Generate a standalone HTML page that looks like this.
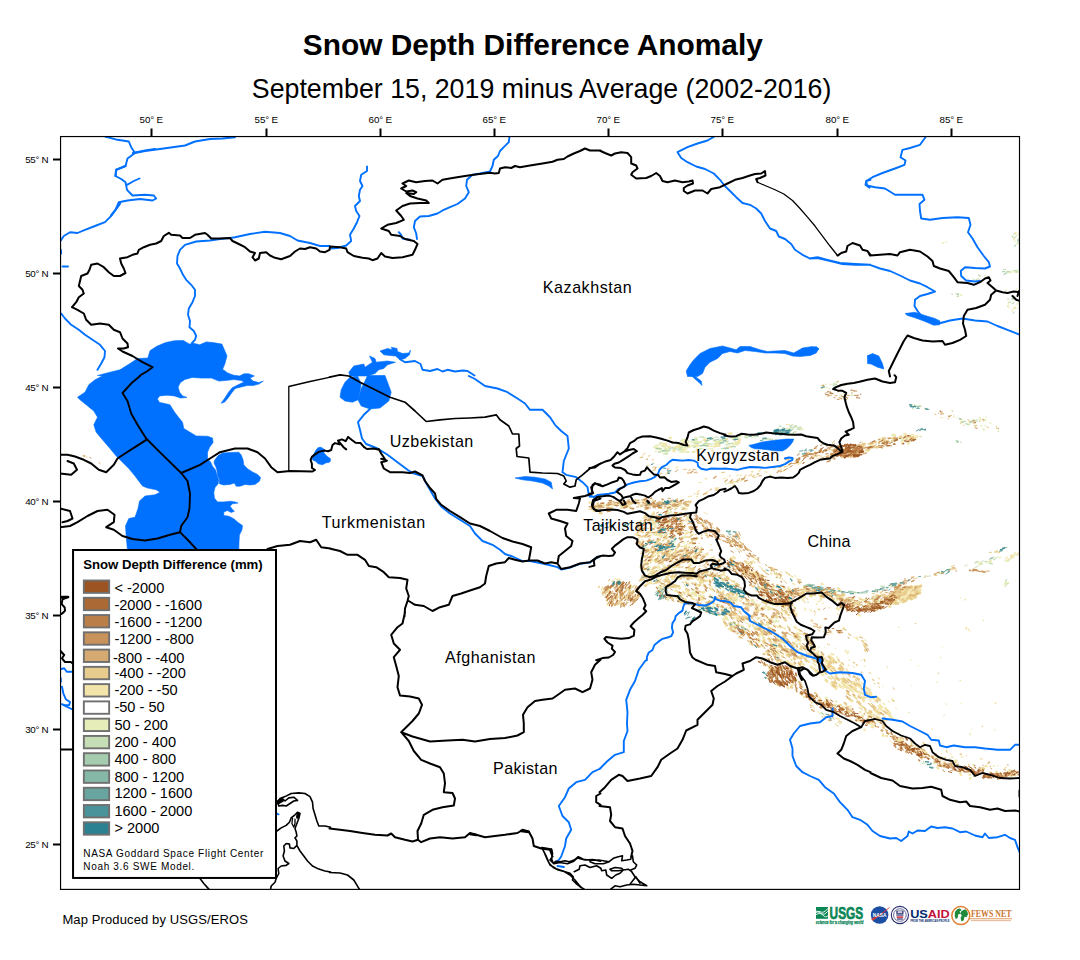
<!DOCTYPE html>
<html><head><meta charset="utf-8"><title>Snow Depth Difference Anomaly</title>
<style>
html,body{margin:0;padding:0;background:#fff;}
body{width:1080px;height:960px;overflow:hidden;font-family:"Liberation Sans",sans-serif;}
svg{display:block;font-family:"Liberation Sans",sans-serif;}
.tk{font-size:9.8px;fill:#000;}
.lg{font-size:14.6px;fill:#000;}
.ct{font-size:15.5px;fill:#000;}
</style></head><body>
<svg width="1080" height="960" viewBox="0 0 1080 960">
<rect width="1080" height="960" fill="#fff"/>
<text x="532.8" y="54.6" text-anchor="middle" font-size="29.87" font-weight="bold">Snow Depth Difference Anomaly</text>
<text x="541.6" y="97.5" text-anchor="middle" font-size="26.76">September 15, 2019 minus Average (2002-2016)</text>
<defs><clipPath id="mc"><rect x="60.55" y="136.55" width="958.95" height="752.85"/></clipPath></defs>
<g clip-path="url(#mc)">
<path d="M658.8,547.2L662.8,546.2M686.5,557.0L688.9,555.7M651.2,521.5L654.7,518.7M642.0,530.3L645.0,528.6M648.4,552.7L651.4,552.2M689.2,548.4L692.6,546.3M668.4,521.8L670.9,520.0M707.4,449.3L713.1,448.2M715.2,446.0L719.8,445.1M682.2,441.1L688.0,440.9M714.1,447.2L717.6,445.9M693.9,442.4L699.8,442.7M717.7,442.9L720.1,442.7M713.3,441.5L717.0,440.2M665.8,453.3L667.9,453.3M696.8,441.6L700.4,441.8M691.7,446.0L695.9,445.3M684.8,445.6L687.8,444.8M656.5,449.1L661.3,449.2M698.8,448.3L701.5,448.3M699.6,448.8L703.2,448.1M658.2,452.0L661.0,451.0M689.0,446.4L694.6,444.7M654.4,451.6L656.9,451.5M674.2,447.2L680.1,447.0M682.8,447.5L688.3,446.8M681.6,444.0L686.4,442.3M664.7,449.9L668.5,449.1M709.2,438.6L713.3,438.6M750.9,437.5L754.2,436.7M689.4,441.9L694.1,442.2M748.9,435.1L751.0,435.3M746.6,436.3L749.4,436.4M701.9,440.1L705.5,440.3M734.6,437.4L739.2,437.5M744.5,437.8L748.6,437.9M702.2,437.6L705.8,437.8M712.0,437.9L715.1,437.6M794.8,432.4L796.8,431.7M787.2,428.6L790.1,427.9M791.0,434.7L793.6,434.7M783.0,433.8L787.0,432.6M792.0,429.5L794.3,428.6M787.9,429.1L790.6,429.2M783.5,428.8L787.7,428.1M789.6,425.6L793.9,424.2M788.6,428.1L790.8,428.2M774.2,431.0L778.0,431.2M736.3,482.6L738.9,482.1M725.0,483.8L728.7,483.6M736.1,476.0L739.1,474.6M891.9,439.2L895.1,439.6M881.4,444.8L883.6,445.1M877.6,446.7L880.1,446.9M845.6,452.2L849.4,451.4M910.8,441.4L914.3,438.9M838.9,453.1L843.1,452.4M908.7,437.6L912.2,436.9M892.8,437.5L895.9,437.6M895.5,438.3L897.1,438.4M900.3,436.1L903.4,436.2M892.7,438.6L895.2,439.0M900.4,439.9L902.8,438.4M882.4,440.8L886.9,440.3M841.0,386.0L843.6,384.4M824.6,387.4L827.8,387.8M843.4,385.2L846.5,385.4M828.2,389.2L830.0,388.8M821.4,388.5L824.6,387.4M829.5,384.7L831.8,384.2M820.4,385.8L823.3,384.7M843.1,393.8L845.5,394.6M845.1,399.9L848.5,398.3M843.5,396.0L846.7,393.9M838.7,395.1L842.0,394.8M917.4,405.9L921.1,407.0M984.9,416.9L987.1,417.4M983.3,428.4L984.8,428.9M956.8,418.2L958.6,417.9M953.0,415.3L954.4,415.4M996.6,427.9L998.9,427.9M979.9,426.0L982.5,425.6M1017.3,236.5L1017.4,235.3M1016.5,234.4L1017.4,233.4M1014.5,238.2L1015.7,237.1M1018.3,234.9L1019.1,232.6M1013.1,240.8L1014.6,238.6M1016.6,271.8L1019.0,270.5M1012.0,270.2L1016.0,270.9M1007.2,272.0L1010.9,273.0M1014.7,272.1L1018.2,272.6M1009.7,272.0L1011.5,271.3M974.7,280.2L975.8,280.5M983.9,275.6L986.1,275.5M971.6,278.6L972.5,278.2M1011.2,303.8L1013.8,302.3M1015.4,299.0L1017.1,298.9M1017.3,308.3L1018.2,307.8M699.6,578.2L702.1,574.7M720.5,561.2L722.6,560.8M672.2,568.0L676.3,567.4M709.4,572.0L711.6,570.9M698.5,549.7L701.4,549.3M668.6,562.4L669.8,560.8M734.3,582.8L736.7,584.7M790.1,609.1L793.0,609.4M684.3,585.2L687.2,588.5M772.3,607.5L773.7,609.8M723.4,581.2L725.9,584.9M723.0,607.5L726.9,608.4M703.0,595.5L705.1,595.8M789.5,612.2L791.4,612.6M690.8,589.4L693.1,590.5M714.9,586.9L717.3,589.8M736.0,604.1L738.6,606.8M798.5,580.3L801.8,581.6M773.0,569.3L774.7,570.9M986.1,563.0L987.9,562.6M1004.3,561.1L1007.8,560.8M1003.3,584.9L1005.7,582.1M959.6,597.5L961.4,597.9M759.6,639.7L762.9,641.2M798.1,662.2L801.7,664.4M748.4,629.2L750.7,632.3M743.2,620.7L746.4,623.5M758.1,628.5L760.7,630.2M911.8,740.8L912.7,742.3M928.5,757.3L930.9,758.6M824.5,647.0L826.2,648.4M879.4,701.7L881.1,703.0M943.0,715.9L945.2,714.7" stroke="#e6edb9" stroke-width="1.0" fill="none"/>
<path d="M641.6,540.4L643.1,539.2M679.9,522.7L681.6,522.5M690.4,538.6L693.5,538.8M678.9,451.7L684.2,451.5M691.4,442.8L696.8,442.3M685.9,448.3L690.6,447.0M677.6,448.8L682.5,447.7M705.5,441.8L708.3,441.4M662.5,446.8L668.1,446.0M722.8,448.7L728.5,447.0M667.1,449.8L671.2,450.1M706.9,439.3L709.5,438.8M653.0,447.3L658.1,447.3M726.0,443.2L728.3,442.7M662.6,453.8L667.5,453.9M681.9,444.8L686.8,445.1M696.2,447.1L699.2,446.0M735.6,444.8L738.6,444.9M683.3,448.0L686.6,447.3M696.3,451.3L698.8,451.2M684.6,445.7L688.3,445.5M702.8,444.8L707.9,444.5M654.9,445.7L660.6,444.4M698.8,448.6L702.1,448.4M721.3,439.1L726.3,439.0M745.2,435.7L748.3,435.9M738.6,436.5L742.7,435.5M729.9,436.9L732.3,436.7M793.2,434.9L795.4,434.6M798.5,429.0L803.3,429.1M780.8,433.8L783.2,433.7M788.0,435.2L792.5,435.1M788.2,429.9L790.8,428.8M799.2,430.1L803.6,429.1M794.9,427.1L798.2,427.3M739.5,480.7L743.0,480.1M733.6,483.1L735.1,482.3M732.6,486.1L734.9,484.2M869.4,446.3L871.6,446.3M869.0,447.7L872.3,445.5M878.4,444.0L880.6,443.2M910.7,439.2L914.9,439.8M870.3,447.8L873.7,445.8M837.5,456.0L840.1,454.4M836.3,452.7L840.2,452.9M829.7,454.2L832.0,452.5M904.5,433.8L906.1,433.0M902.3,438.5L906.4,437.9M820.6,388.7L824.4,386.9M839.8,385.9L844.0,385.0M835.4,383.3L838.7,381.1M825.1,384.0L826.8,384.5M851.4,395.5L853.3,395.6M913.7,404.6L917.3,407.0M924.0,409.2L926.8,409.0M989.4,422.5L991.2,423.6M973.8,425.9L976.2,425.6M982.7,429.4L984.6,430.7M979.3,417.0L981.3,418.9M984.5,425.5L985.6,425.5M966.8,423.6L968.4,424.1M997.4,430.8L999.2,431.8M968.8,424.4L970.7,423.9M982.5,419.1L986.6,420.5M979.0,419.9L981.1,420.0M960.4,421.5L963.7,422.3M1016.6,244.6L1016.8,243.1M1015.4,233.1L1015.9,232.2M1015.3,242.0L1015.2,240.7M1012.0,237.7L1012.5,235.6M1002.7,271.9L1004.3,271.9M1013.3,272.2L1016.7,270.9M1010.2,272.3L1012.1,272.1M959.8,295.1L962.3,294.7M974.8,280.7L976.8,280.3M1008.2,303.8L1008.7,301.4M1013.6,308.8L1016.0,307.6M1015.6,289.3L1017.2,288.8M1005.2,290.7L1006.7,289.9M1014.6,298.0L1015.7,296.6M1016.7,304.5L1018.8,303.2M1009.0,293.4L1010.0,291.9M1015.6,308.5L1016.3,307.6M1007.2,307.0L1008.9,304.8M942.5,242.8L943.6,243.0M643.5,545.9L647.0,543.6M667.9,573.4L671.5,570.9M688.7,571.9L689.6,570.6M670.0,573.2L671.7,572.3M789.4,610.2L793.2,611.2M665.9,586.4L669.1,588.5M658.9,578.8L660.2,581.0M774.3,572.2L777.1,574.5M776.3,576.5L779.9,578.3M780.6,574.0L782.3,575.4M978.6,565.1L982.6,564.4M987.9,561.8L992.0,560.8M978.0,563.5L980.8,563.9M1013.9,555.0L1015.9,554.1M1007.0,561.4L1009.8,558.1M1007.3,562.1L1010.4,559.1M1014.1,552.9L1015.5,552.3M1010.5,556.7L1014.7,556.2M1004.9,585.3L1007.4,582.4M1004.9,583.7L1006.2,582.0M1006.3,584.0L1009.1,583.5M795.3,637.8L798.7,639.0M789.4,650.1L792.6,651.4M810.5,644.9L812.2,646.7M790.5,643.2L793.1,647.2M744.0,627.2L746.1,629.5M736.0,624.3L737.7,626.9M949.4,757.6L950.6,759.1M945.2,759.5L947.9,760.2M993.0,765.8L994.9,766.3M901.0,743.0L902.7,745.1M972.2,764.0L974.2,765.1M910.2,744.0L912.4,744.9M863.7,666.0L865.0,666.7M848.5,659.7L850.0,660.3M898.1,627.0L899.5,627.6M970.0,732.9L970.4,735.4M936.9,681.3L937.1,683.0" stroke="#e6edb9" stroke-width="1.4" fill="none"/>
<path d="M670.7,531.2L672.8,531.3M675.8,513.8L680.1,513.7M650.6,529.4L652.6,528.1M667.4,513.4L671.9,511.4M654.0,522.6L658.9,522.1M666.6,559.7L670.7,557.5M681.9,537.7L685.9,536.1M644.4,547.8L646.7,547.2M650.4,521.1L653.3,517.6M686.0,517.1L690.1,517.1M658.5,533.7L663.1,533.8M652.7,534.4L656.7,534.6M663.3,554.4L665.7,550.9M644.9,548.8L648.6,548.7M662.8,567.0L665.4,565.1M644.9,564.9L647.8,563.9M658.6,569.6L661.2,569.5M645.0,550.3L646.3,548.7M667.4,554.8L670.9,554.7M671.0,558.3L673.2,558.0M647.0,568.9L650.5,566.6M683.0,573.9L686.4,572.1M683.8,546.0L686.9,545.5M653.4,561.0L656.5,559.0M691.9,577.8L694.4,574.4M716.9,568.7L721.0,567.3M654.8,542.8L657.1,540.8M647.1,562.4L650.1,558.7M690.1,593.5L692.8,594.1M775.7,617.3L777.5,618.4M736.5,598.9L738.2,600.5M772.8,621.0L775.7,622.4M789.1,603.8L792.2,607.3M767.5,608.6L768.9,610.5M716.1,604.5L718.1,605.2M692.5,591.6L695.0,595.1M712.1,606.0L714.1,607.9M686.3,579.1L690.6,579.6M775.0,620.6L779.3,621.6M716.3,581.4L717.8,582.8M698.7,594.4L701.1,598.4M782.4,603.5L784.6,606.4M721.4,579.1L723.4,581.6M681.8,601.7L686.3,602.7M724.5,577.3L727.7,578.7M730.7,599.4L734.3,602.8M718.6,604.1L721.6,607.8M712.7,601.0L715.0,604.9M658.2,586.4L660.9,589.9M659.7,594.3L661.4,595.7M694.9,582.2L696.4,584.1M693.8,589.2L696.2,591.7M794.1,606.8L795.8,608.5M746.8,615.6L750.3,617.1M751.3,600.5L755.0,602.6M752.3,573.2L755.1,576.9M729.3,558.7L730.7,560.3M876.6,599.3L879.5,602.6M840.4,604.2L842.2,606.9M763.7,584.4L768.1,585.9M834.9,592.0L836.9,592.3M858.4,602.2L860.3,606.0M836.1,596.4L838.1,600.3M771.7,589.1L775.2,592.1M834.1,594.5L838.2,595.9M821.2,593.5L823.9,595.3M874.6,596.9L876.3,599.5M730.8,559.2L734.7,561.9M869.3,608.4L870.8,609.7M791.1,591.4L793.4,592.0M731.9,560.1L734.5,561.8M879.7,607.3L880.8,609.3M868.2,601.6L870.5,603.2M880.4,601.1L882.7,604.0M809.3,594.3L812.1,597.2M885.4,597.4L888.7,597.8M743.4,618.2L746.0,619.7M783.4,637.6L785.2,639.9M737.0,618.0L741.2,620.3M776.7,626.1L780.9,628.0M785.3,639.8L786.8,642.0M771.1,651.7L775.3,653.3M797.8,637.0L800.7,638.3M749.4,643.2L750.9,644.8M797.2,633.6L799.6,634.8M767.5,650.9L770.2,652.6M789.9,649.6L792.3,653.4M794.7,644.0L798.2,645.4M801.6,647.4L805.8,649.7M801.1,646.1L803.6,648.0M762.2,635.2L764.8,639.1M725.1,618.1L728.9,620.4M786.7,651.5L788.2,652.9M776.4,656.8L778.3,657.7M776.0,654.4L778.8,655.6M763.7,631.5L767.6,633.4M633.7,500.7L637.7,500.2M680.8,507.3L683.9,507.6M621.3,503.4L625.4,502.4M675.4,507.8L677.7,507.9M624.0,502.6L626.0,502.6M624.3,504.3L628.0,504.5M659.7,502.7L662.6,502.3M666.5,509.9L670.7,509.3M695.7,449.8L697.7,449.5M696.1,445.3L698.6,445.3M694.3,438.2L697.9,438.4M732.7,444.4L735.5,443.4M660.7,446.0L666.0,446.3M663.5,448.4L668.5,448.6M736.8,443.6L739.7,442.8M680.2,441.0L685.6,439.3M731.5,438.8L736.5,438.4M659.1,443.1L662.9,443.0M665.5,451.8L668.9,450.9M687.7,446.8L689.7,446.2M673.3,447.5L675.3,447.2M732.3,444.4L737.9,444.1M680.1,451.4L685.1,451.7M719.3,441.6L723.3,440.3M696.8,442.6L702.1,441.8M655.0,448.7L659.3,447.9M703.2,444.5L706.4,443.7M683.3,445.7L686.2,445.7M723.1,440.3L726.6,439.8M676.6,444.5L682.6,444.8M660.0,451.0L662.5,450.5M713.9,443.9L719.8,444.3M664.4,443.9L667.0,444.0M712.8,440.1L715.1,440.1M693.0,445.5L696.6,445.6M685.4,442.3L689.3,440.9M693.2,440.8L697.1,440.3M714.8,442.3L719.8,441.2M685.9,452.1L689.4,452.0M892.7,440.9L894.2,440.3M881.2,440.1L883.1,440.2M833.3,454.4L835.4,452.9M894.8,439.6L898.9,438.1M891.4,436.0L894.5,434.0M900.8,440.7L903.7,439.8M845.5,452.2L847.3,451.8M854.1,453.0L858.4,452.1M631.1,601.0L632.3,597.9M610.3,600.3L612.2,598.3M618.3,597.6L620.5,595.3M630.2,589.4L631.8,586.2M616.2,596.8L617.3,594.5M622.1,597.0L624.0,593.6M609.7,589.4L611.3,586.3M932.0,756.8L935.7,758.3M958.4,770.9L961.6,770.8M781.9,666.6L784.0,668.8M917.1,746.3L919.6,747.8M855.5,716.1L858.5,716.5M934.4,759.8L935.9,761.3M794.4,677.2L796.6,680.1M951.4,762.6L953.5,763.6M811.5,698.5L812.9,700.1M936.5,756.9L939.9,757.6M835.8,700.6L836.8,702.5M999.5,772.9L1001.9,774.1M824.8,697.8L827.4,697.9M834.7,704.6L836.8,705.0M955.0,765.7L957.9,766.2" stroke="#e6edb9" stroke-width="2.2" fill="none"/>
<path d="M645.3,542.7L648.2,540.7M658.5,516.2L661.0,513.9M664.1,527.1L666.3,524.9M679.4,538.0L683.6,538.3M687.9,538.3L691.8,536.3M675.9,518.9L680.2,519.1M686.7,544.8L688.3,542.7M681.3,527.8L683.4,527.1M654.7,534.6L655.7,533.1M691.7,548.4L694.0,547.1M677.2,533.6L680.0,530.7M687.8,544.4L689.2,543.7M668.2,520.6L669.6,519.5M682.1,518.4L683.6,516.9M672.4,544.3L673.7,542.6M647.1,514.9L648.9,514.2M647.4,550.6L650.9,549.7M641.6,531.9L644.2,530.0M665.3,513.9L667.6,513.9M688.0,519.0L690.8,518.8M670.9,554.5L672.5,553.4M661.8,525.4L663.6,524.2M674.1,542.4L676.1,541.0M695.3,559.6L697.2,557.4M683.8,521.8L686.6,518.4M641.3,542.6L643.6,540.5M661.0,517.1L664.0,517.2M673.1,555.9L675.5,555.8M658.6,552.5L660.5,550.8M680.6,551.8L684.9,552.1M669.5,522.3L671.7,522.4M662.5,553.1L664.7,552.5M696.7,546.7L698.8,546.5M692.2,544.9L694.7,544.2M666.4,519.3L668.5,518.8M654.3,561.2L656.6,559.8M703.7,512.3L707.5,514.3M718.8,529.5L720.5,531.0M701.7,520.4L703.9,521.5M732.0,540.7L736.1,542.3M697.9,521.6L700.2,523.3M728.8,541.5L731.1,542.8M710.3,544.8L712.2,544.5M638.7,503.1L642.6,502.2M642.5,502.2L646.0,502.2M605.6,504.2L607.5,503.8M661.7,509.1L665.5,508.5M674.5,505.1L678.5,504.8M661.4,500.9L664.6,500.1M594.6,508.4L598.2,507.6M685.0,509.1L687.8,508.5M625.7,505.3L628.5,504.9M596.4,508.4L598.8,507.8M685.3,505.2L689.4,504.4M714.9,490.5L718.6,488.7M697.5,494.0L699.2,493.0M709.4,446.5L714.9,446.1M666.1,449.9L668.7,449.9M733.9,438.9L738.9,439.0M688.9,446.5L691.8,446.1M681.0,446.2L684.6,445.2M646.1,465.5L649.6,465.4M658.8,468.2L661.6,466.6M664.9,474.7L668.5,473.3M652.4,463.6L654.7,462.9M643.5,454.2L645.7,452.8M785.7,424.6L790.0,424.3M791.6,435.2L795.0,435.3M783.2,467.1L787.5,466.4M739.4,475.7L742.1,474.9M722.6,479.0L726.2,477.8M755.9,475.3L758.9,474.0M698.6,482.8L701.7,482.4M750.8,473.9L753.1,471.5M750.6,476.4L752.1,475.0M733.4,481.7L737.1,481.4M728.3,482.3L731.8,481.6M888.6,437.7L892.2,438.2M914.6,435.8L918.5,435.6M913.1,437.2L914.7,436.0M812.6,457.5L814.5,457.2M821.4,459.1L824.6,456.8M816.3,457.9L819.9,458.8M968.2,420.0L970.4,421.7M983.9,420.3L985.0,421.2M940.1,417.3L942.9,417.8M952.9,416.6L955.1,417.3M955.5,293.9L958.1,293.5M977.4,278.4L978.7,278.8M1011.6,312.0L1012.8,309.4M1012.7,298.0L1014.4,296.4M1008.3,308.2L1009.8,307.1M942.4,242.9L944.4,243.0M945.4,241.8L947.2,241.9M619.1,596.5L620.3,595.0M601.9,591.9L604.2,589.8M608.1,592.6L609.2,589.1M613.6,580.7L615.9,578.0M601.7,588.2L602.8,586.0M609.2,591.3L610.4,588.2M602.5,596.0L604.2,592.0M622.1,584.6L623.5,580.8M623.3,588.2L624.1,586.9M651.6,549.8L653.6,549.7M656.1,571.1L660.4,570.0M718.2,568.7L720.2,566.5M684.6,571.3L686.3,569.3M660.3,564.3L664.1,564.1M663.6,551.0L666.1,547.7M654.8,551.1L655.9,550.0M696.5,558.1L697.9,556.5M651.1,580.9L652.0,579.6M698.1,566.2L700.9,566.1M655.3,566.4L659.3,565.5M683.3,562.8L684.6,560.8M670.9,558.0L673.1,556.8M701.8,566.4L704.6,564.6M651.1,548.7L653.4,547.1M684.2,568.0L686.5,567.3M676.0,579.4L679.9,577.8M645.1,581.3L647.3,581.3M704.0,556.6L706.0,555.2M703.6,570.8L708.0,570.3M650.8,573.4L654.9,573.1M712.0,563.0L715.0,560.4M673.8,558.9L675.8,557.5M717.4,568.8L719.3,567.0M692.8,578.4L694.4,578.2M702.5,562.5L703.8,561.2M691.4,557.2L693.1,556.2M675.8,551.1L678.4,549.9M686.6,559.8L690.0,557.9M702.3,554.8L706.3,554.0M675.4,551.9L677.2,551.3M653.3,567.6L657.6,567.1M684.7,550.8L688.1,550.5M700.9,563.3L703.7,559.9M703.2,572.0L704.7,570.2M694.2,564.8L695.6,564.2M684.6,572.9L686.4,571.9M708.6,600.1L710.4,601.7M690.4,592.5L693.3,594.8M792.7,611.0L794.3,611.3M674.0,585.9L676.5,586.3M739.3,615.3L741.3,616.9M774.9,604.9L777.7,606.7M727.2,587.4L730.1,587.7M784.1,612.6L785.6,613.0M759.5,602.9L760.8,603.9M738.9,615.9L740.3,616.7M679.3,573.9L682.0,577.3M726.1,607.6L730.3,608.6M788.0,617.2L791.8,619.3M713.0,598.3L716.3,599.1M738.8,610.4L741.1,613.6M726.9,580.4L728.3,582.2M783.5,607.7L784.4,609.2M737.8,606.6L739.6,607.7M731.3,617.8L734.9,619.0M699.5,599.8L701.9,603.0M734.7,583.7L736.5,586.8M748.8,604.2L749.9,605.8M669.4,580.4L671.7,582.6M734.8,614.5L736.5,616.5M737.0,607.1L739.7,609.6M685.2,575.1L686.7,576.3M725.7,600.0L727.9,601.1M770.9,608.5L774.9,609.3M796.0,615.5L797.9,616.2M755.1,609.5L757.0,611.6M705.9,574.6L709.7,575.6M727.7,585.4L728.6,586.7M666.3,589.7L669.0,593.0M736.8,604.8L737.9,606.2M693.8,592.4L697.0,595.3M737.0,619.3L741.3,620.0M750.4,615.5L751.8,616.6M707.4,602.3L709.6,603.0M710.5,586.4L712.7,587.0M713.3,590.7L715.4,591.2M765.9,590.5L767.8,593.1M746.1,574.0L747.1,575.5M754.5,575.8L756.6,576.2M783.9,598.6L785.1,599.8M753.1,575.8L754.2,577.8M762.0,569.1L762.9,571.1M794.0,575.6L796.5,576.5M782.1,578.0L783.1,580.2M747.2,561.2L750.2,563.0M750.9,566.9L754.1,567.5M758.5,566.3L760.6,566.8M770.3,568.9L771.6,571.7M773.6,573.7L775.3,574.9M776.8,572.7L778.1,575.2M827.9,594.9L831.0,593.5M816.5,587.9L819.7,586.0M804.7,591.7L807.0,590.7M798.3,597.3L802.3,598.1M866.9,602.6L868.8,602.2M846.5,598.6L849.4,597.4M895.9,588.0L898.9,587.6M858.1,605.5L860.0,604.8M857.8,597.7L861.2,598.0M900.6,588.8L903.1,589.5M864.4,602.8L867.4,602.5M877.8,596.6L880.9,595.3M880.7,596.4L883.1,595.7M872.0,599.5L875.7,599.5M899.9,589.1L902.7,588.2M882.7,594.0L884.4,594.3M847.9,599.4L849.3,598.6M888.1,602.1L890.5,600.1M890.4,601.8L893.0,599.9M898.1,603.5L899.7,602.1M914.0,588.6L917.6,587.8M891.9,594.6L894.5,593.6M892.2,602.1L895.4,599.6M886.5,603.5L890.2,602.0M894.4,599.3L897.6,597.9M897.1,594.1L900.5,592.5M914.1,597.4L917.6,595.5M901.6,596.4L905.1,594.7M917.4,593.5L920.6,591.1M886.0,599.2L888.4,599.0M897.8,599.1L900.1,598.0M903.6,591.5L907.0,591.3M893.6,603.9L896.3,602.6M901.1,594.4L905.6,594.1M906.3,598.3L908.6,597.4M901.2,590.9L904.7,587.8M905.5,597.6L909.4,597.4M889.4,602.9L891.9,601.0M905.2,588.2L908.9,585.9M910.8,588.0L915.1,587.0M913.0,590.8L916.0,589.0M899.7,599.8L902.2,599.2M900.7,591.4L904.3,588.9M892.1,601.1L894.0,600.1M893.6,597.5L898.2,596.9M888.6,603.0L890.7,602.1M895.5,593.6L899.0,592.4M898.3,594.6L901.1,593.7M909.5,588.2L912.2,587.7M905.2,590.1L909.4,589.0M904.5,590.7L906.6,588.8M898.9,596.0L902.7,594.1M885.3,600.8L889.5,599.0M909.5,589.5L913.3,588.7M908.5,587.1L913.0,585.6M887.5,599.3L890.5,597.0M907.0,597.2L911.0,595.3M911.0,592.2L914.0,591.8M900.7,590.6L903.8,589.0M898.7,593.6L900.9,592.0M915.6,592.9L917.5,591.8M899.0,595.7L902.7,593.9M887.5,598.3L890.7,596.1M919.8,586.4L921.8,585.8M899.8,603.0L902.5,600.6M894.1,590.4L898.5,589.7M902.1,598.4L906.0,595.7M917.5,590.5L921.5,588.8M912.9,593.0L916.7,590.5M886.5,598.9L889.9,598.2M888.1,599.7L890.1,599.6M896.6,589.2L899.8,588.2M896.9,599.0L900.8,597.0M901.0,602.2L903.4,600.3M892.5,604.5L896.1,602.9M902.2,595.6L904.1,594.1M901.4,592.1L904.5,591.6M907.9,600.2L912.0,598.5M816.9,608.4L818.7,609.3M821.8,603.6L824.0,603.0M820.5,625.4L822.5,625.8M804.2,611.1L806.1,609.8M809.4,609.3L810.6,609.4M811.2,621.8L814.0,622.1M814.3,600.0L815.2,599.5M975.9,562.2L979.5,561.9M989.6,561.0L992.0,559.5M979.8,563.6L982.9,562.9M1010.2,555.6L1011.5,554.7M1012.5,555.5L1015.4,553.2M1005.1,560.4L1008.6,559.6M994.2,551.9L997.8,550.1M779.7,646.2L782.6,647.2M762.8,641.3L764.1,643.3M767.7,645.0L771.8,646.2M778.2,649.3L781.0,650.7M814.2,658.5L815.7,660.3M770.6,640.8L773.1,644.9M761.5,629.7L763.4,632.5M790.1,659.2L792.6,661.6M755.1,641.5L757.8,643.8M794.7,640.4L798.2,643.3M771.4,629.6L773.7,631.6M769.1,640.7L771.7,642.0M804.6,648.5L806.4,651.0M759.9,625.7L763.4,628.9M771.3,637.6L774.2,641.2M732.4,616.5L734.4,618.1M779.6,660.0L782.1,663.4M745.7,622.8L749.4,624.5M793.4,656.9L797.4,658.2M796.8,631.7L799.2,635.2M782.6,640.5L783.7,642.2M807.8,636.5L810.6,637.6M812.6,706.7L815.0,708.5M826.8,714.9L828.7,716.4M837.3,722.6L841.5,724.0M817.3,710.5L819.9,714.0M889.9,740.3L893.1,743.1M899.6,736.9L901.8,739.7M892.1,735.9L893.6,738.6M895.6,741.2L898.7,741.9M938.7,764.9L941.6,765.2M898.5,732.1L899.9,733.0M931.8,748.4L932.9,749.8M1004.0,768.4L1005.9,768.3M1008.5,770.5L1009.2,771.7M973.2,770.8L974.7,772.3M1002.5,772.1L1004.5,773.8M943.2,757.6L944.5,758.1M821.1,661.7L823.7,664.5M858.6,682.6L860.8,684.9M829.6,684.0L832.7,686.4M839.7,668.8L843.0,672.4M862.9,688.8L864.8,690.9M873.8,699.5L877.5,702.6M847.0,678.0L850.6,682.7M814.8,668.2L818.0,671.1M865.0,688.0L868.6,692.7M842.8,685.8L844.8,688.1M879.9,712.2L882.3,715.3M868.3,699.6L870.7,701.7M826.5,660.9L829.3,663.1M829.9,665.2L833.5,668.7M826.2,661.5L828.6,664.2M865.3,686.6L868.8,690.4M841.3,681.7L845.1,685.9M871.4,714.4L874.2,716.8M835.8,661.0L838.7,663.0M822.8,663.8L826.1,667.4M825.8,669.3L829.4,673.5M869.6,698.9L871.7,701.3M830.3,664.1L833.2,667.5M823.9,668.5L826.1,671.4M885.4,711.5L888.2,713.9M861.3,697.7L865.1,700.5M854.0,684.4L857.5,686.9M875.1,707.2L879.5,711.0M830.4,668.6L833.5,670.8M846.0,677.7L850.2,680.2M828.2,654.7L832.3,657.3M845.6,684.9L849.3,687.8M816.7,668.9L818.5,671.4M874.8,710.3L876.7,712.0M863.7,686.0L866.4,688.3M820.9,670.6L823.7,672.3M813.3,668.9L815.1,671.0M823.8,658.9L826.8,661.5M827.0,666.4L829.2,668.9M876.9,714.1L879.0,716.7M852.0,686.5L855.3,690.6M869.0,711.9L871.8,713.7M835.9,685.6L838.4,687.5M831.1,675.7L834.8,677.9M879.5,705.2L883.2,708.4M832.2,686.6L834.7,688.2M845.7,684.6L847.6,686.3M882.7,703.2L885.3,705.0M831.8,657.0L834.1,658.6M862.9,706.5L867.0,710.3M823.2,660.8L826.9,663.7M816.3,658.3L819.1,660.0M831.3,681.0L834.8,683.6M854.5,681.0L856.4,683.1M830.5,653.2L832.7,654.1M838.9,659.3L839.8,660.2M852.8,666.1L855.1,667.3M872.2,697.9L874.3,700.0M848.0,650.1L849.0,652.4M858.4,678.0L860.2,678.7M830.1,632.7L832.9,633.7M882.3,685.8L883.4,686.6M873.4,682.9L875.9,684.4M834.6,647.7L836.4,648.9M830.9,654.3L832.0,655.1M860.7,659.7L861.6,661.5M887.7,700.9L890.3,702.4M856.1,674.1L857.5,676.7M895.4,708.0L897.0,709.2M856.4,636.5L858.0,637.4M864.1,639.7L866.6,640.8M853.7,637.2L857.1,638.8M863.4,644.7L865.3,648.5M862.3,640.4L864.8,642.8M887.1,666.2L887.6,668.3M931.5,728.5L933.2,729.4M971.0,729.2L972.0,729.6M960.5,703.3L961.7,703.6M945.3,703.3L946.8,705.0M907.9,712.7L909.9,712.3M911.2,685.4L912.4,686.5M910.5,659.2L912.0,660.7M940.3,656.7L941.0,658.4M918.3,665.0L918.7,666.2M993.9,730.0L995.3,729.9M942.3,646.5L942.8,647.4M969.2,629.4L969.5,631.5M967.8,628.0L968.9,630.2" stroke="#f3e5a9" stroke-width="1.0" fill="none"/>
<path d="M693.4,525.9L695.6,524.2M646.4,534.7L649.0,532.6M666.7,538.3L668.9,536.2M695.8,538.3L697.7,538.2M649.4,532.2L652.1,529.2M672.5,514.1L676.1,514.0M687.1,532.6L691.4,532.4M652.5,544.9L656.7,544.8M683.1,528.4L685.6,525.0M649.2,522.1L650.1,520.8M689.6,533.4L692.8,531.5M663.5,518.1L666.5,516.9M677.1,534.2L680.7,532.6M691.1,535.8L694.2,534.0M638.9,522.9L641.2,520.1M665.1,543.5L668.6,543.5M655.4,544.8L659.4,543.4M730.0,539.4L731.4,541.4M702.6,523.0L704.6,525.8M731.5,541.8L734.8,544.8M716.0,528.9L717.2,529.9M706.1,555.4L708.4,554.3M714.4,537.7L716.8,536.0M705.7,534.6L707.7,534.3M716.7,545.1L718.6,545.4M709.2,550.9L710.2,550.1M688.3,501.2L691.7,501.1M682.4,503.6L685.6,503.4M588.2,509.4L592.3,509.6M660.5,502.6L664.8,502.8M622.1,504.2L623.9,503.5M702.6,495.1L705.7,493.1M703.8,494.0L707.6,493.3M714.6,488.5L716.1,488.0M688.2,496.9L691.9,495.8M696.9,492.5L700.0,490.3M696.1,496.8L697.9,496.2M713.6,447.0L716.8,445.9M696.9,449.7L699.5,449.1M675.7,467.6L678.2,467.2M661.2,477.6L664.5,476.5M796.5,464.0L800.3,463.9M778.9,472.0L781.7,468.7M773.5,469.2L776.3,466.1M787.1,466.7L790.1,463.6M799.6,463.3L801.8,461.3M782.2,471.5L785.0,470.1M769.1,474.9L771.9,475.1M704.8,478.7L707.1,478.8M758.3,471.7L761.0,469.5M764.4,471.7L767.3,472.2M732.2,482.3L734.0,481.6M740.7,481.2L743.3,478.5M904.6,439.8L907.3,438.0M909.3,437.3L911.4,436.4M914.4,438.9L918.0,436.7M910.3,435.7L914.2,433.9M893.8,435.5L895.7,434.4M824.2,458.5L826.2,458.6M827.1,458.4L829.5,458.7M813.3,461.9L816.2,462.3M960.2,421.6L962.6,422.4M1014.1,239.7L1014.8,238.6M1014.9,234.7L1016.3,232.4M1013.4,308.2L1015.8,307.3M616.7,580.3L617.7,578.2M604.2,592.7L606.7,589.1M617.1,588.5L619.0,585.7M607.4,590.1L610.5,587.2M608.4,589.1L610.1,585.7M622.0,585.4L624.6,582.6M621.8,584.4L623.1,582.9M619.4,588.2L621.0,584.2M601.4,590.5L602.4,587.5M621.1,585.7L622.5,583.4M647.0,582.4L649.2,580.2M642.8,561.7L644.5,560.4M655.1,582.3L658.6,582.0M685.9,578.3L687.3,576.9M656.0,578.2L659.4,577.8M659.2,563.5L660.8,562.6M651.2,552.5L653.1,550.9M654.3,556.2L656.0,555.5M677.1,572.6L681.2,571.4M650.3,551.5L652.3,549.6M662.1,561.9L664.2,560.5M690.0,579.1L692.7,576.8M659.5,576.7L662.5,574.7M681.0,561.4L684.6,559.5M671.6,566.7L675.5,565.8M685.0,555.8L687.7,553.8M720.1,571.4L722.4,570.8M671.8,545.6L674.0,545.1M642.5,557.4L645.5,554.8M674.6,550.3L678.1,547.8M706.9,565.7L708.4,565.3M679.1,557.1L682.1,555.8M691.9,556.3L695.5,554.2M722.4,572.4L724.7,571.8M656.6,573.3L660.1,573.1M671.2,563.4L672.6,561.6M683.1,575.9L685.1,574.8M707.5,560.7L708.8,559.5M723.5,599.8L726.3,601.1M689.5,603.4L690.4,604.6M729.4,579.2L733.0,581.8M687.7,582.7L689.7,584.2M729.5,589.1L730.9,589.7M673.7,590.5L678.0,591.2M729.3,613.3L731.5,614.6M725.7,610.9L727.7,613.6M785.1,601.6L787.9,602.4M717.5,586.8L720.5,587.8M735.8,595.3L737.6,596.1M670.5,597.0L671.7,598.4M667.6,599.6L668.9,600.9M743.3,593.7L747.1,594.5M770.1,608.0L773.4,609.0M689.2,574.2L692.4,576.0M779.1,611.8L783.0,613.7M754.2,610.0L756.0,612.9M747.3,605.9L749.5,608.4M682.4,591.3L684.0,592.2M733.6,599.7L736.9,601.8M765.2,605.2L768.2,608.1M709.8,594.2L711.1,595.9M736.3,596.7L738.2,597.1M764.3,606.3L766.0,606.6M770.3,604.0L774.0,605.0M693.6,599.0L696.2,600.5M753.2,603.0L756.2,605.7M709.8,596.8L712.0,597.2M723.6,574.4L725.4,576.3M765.5,588.8L768.7,591.1M771.9,590.7L772.8,592.1M755.5,573.8L757.9,577.2M779.4,595.0L783.5,596.0M764.1,587.6L765.2,589.3M790.0,598.1L791.5,600.1M762.2,579.4L765.4,581.7M761.4,574.1L763.7,576.4M772.4,582.9L773.9,584.3M782.5,592.9L786.1,594.6M752.3,560.4L755.6,563.2M772.0,567.0L773.8,569.1M770.3,572.6L771.8,575.0M792.2,583.4L795.5,584.6M750.0,564.1L751.9,564.3M786.5,572.3L789.7,575.2M790.3,575.7L793.5,577.1M745.7,562.7L747.9,563.7M754.3,557.3L755.8,560.1M780.4,571.1L781.7,572.2M744.3,561.2L747.1,562.7M803.7,589.2L805.2,589.5M809.1,589.6L811.5,589.8M809.0,588.7L812.8,587.0M815.1,589.7L818.1,590.6M803.2,588.3L806.2,587.9M814.6,591.2L816.9,589.6M893.8,590.7L897.6,590.5M851.6,600.3L853.5,599.6M867.7,601.7L870.1,601.6M860.5,600.4L864.5,599.4M856.5,601.8L860.0,601.9M872.1,601.1L874.9,600.6M847.7,600.7L850.2,600.7M893.8,593.4L896.7,594.0M878.1,599.1L880.0,597.7M859.7,601.9L863.0,602.4M853.6,601.1L855.5,600.0M862.3,600.3L866.5,599.8M881.8,602.7L884.9,600.9M886.3,602.1L890.3,600.5M909.1,592.8L912.7,590.0M904.2,594.2L907.5,593.4M891.5,596.7L895.0,593.9M912.1,596.5L915.5,594.4M901.8,594.5L904.6,593.3M897.5,595.5L901.6,594.0M914.4,593.2L919.0,592.4M916.2,592.0L919.9,588.8M907.2,598.4L910.4,596.3M910.6,593.2L912.4,591.9M893.9,599.5L897.3,596.6M913.0,596.8L916.0,595.8M918.3,593.9L920.9,592.2M909.0,598.7L911.6,597.6M901.5,595.1L903.6,595.0M911.4,588.7L915.8,587.0M895.2,595.2L898.9,592.6M886.5,597.9L890.1,597.4M893.5,604.4L895.8,602.5M891.8,598.4L894.5,597.0M902.3,591.7L906.0,590.7M909.9,587.5L912.8,586.1M907.9,595.6L911.9,595.4M887.5,596.2L891.7,595.4M905.7,595.6L907.8,593.9M900.2,599.5L903.9,599.0M892.8,596.4L896.5,594.4M888.5,597.8L891.9,595.8M892.4,596.7L895.0,596.1M899.3,600.5L902.7,600.3M897.7,588.5L901.2,587.5M901.5,596.7L905.3,595.3M889.7,601.9L894.0,600.2M918.2,588.3L920.4,586.4M898.3,595.3L903.0,594.1M899.8,593.5L901.5,592.4M908.3,595.7L911.3,593.5M886.5,601.3L891.2,600.7M914.7,595.0L918.4,594.1M892.4,593.8L895.4,592.1M902.1,600.6L906.5,598.5M817.3,601.1L820.2,601.6M815.9,603.6L817.9,604.6M810.1,610.4L812.0,610.7M804.2,608.0L806.0,609.0M837.1,613.7L838.8,614.7M828.8,607.4L830.4,608.0M809.0,596.5L811.4,596.7M999.3,557.9L1000.7,557.2M989.7,562.8L990.8,561.9M1010.5,558.2L1011.6,557.1M1010.7,558.6L1014.4,556.6M1017.0,553.9L1018.9,552.5M1005.4,558.7L1007.8,556.8M964.1,599.5L966.1,599.9M776.5,649.7L779.0,651.6M742.3,628.8L745.4,631.7M747.7,618.3L749.3,620.8M762.6,641.2L765.4,642.9M768.9,651.0L772.0,652.4M783.1,648.7L785.0,649.9M724.5,611.9L727.4,613.1M758.8,632.6L760.8,635.3M764.2,623.7L766.1,625.9M765.4,628.0L767.8,631.5M794.3,665.7L796.0,666.9M777.6,652.3L779.9,655.8M798.0,632.8L801.7,634.4M785.5,652.6L789.3,654.1M790.7,659.2L792.6,660.0M739.7,620.5L742.2,621.2M770.2,641.4L772.4,643.6M781.4,659.8L784.5,662.8M775.9,646.1L780.2,647.9M783.1,627.4L786.0,629.4M760.7,644.2L764.3,646.8M768.5,637.3L770.0,639.2M777.5,626.7L779.5,627.7M749.8,632.1L751.7,635.2M793.8,650.0L796.8,651.6M782.4,641.0L785.7,643.9M776.3,636.5L779.4,638.4M747.4,628.8L749.6,631.5M835.5,718.0L839.6,719.2M882.0,733.5L884.1,734.6M871.5,724.1L874.7,725.8M905.0,738.9L906.1,740.2M871.7,721.0L873.3,724.4M898.7,738.6L900.8,742.0M949.8,762.6L953.9,763.0M940.1,761.3L941.3,762.5M941.1,763.4L943.3,766.5M913.3,747.4L915.7,747.4M940.8,753.4L942.1,753.8M1005.1,766.9L1006.5,767.8M940.5,756.9L942.4,757.1M901.1,737.8L903.2,739.7M921.1,748.8L921.9,750.1M989.3,771.6L991.2,773.5M961.2,755.9L962.6,757.7M973.6,767.2L974.5,768.1M900.8,735.9L903.3,735.9M922.2,745.5L923.6,747.2M977.8,768.4L979.6,770.4M949.8,754.1L951.4,753.9M814.7,660.4L817.3,663.3M831.2,669.5L835.0,673.6M824.2,666.4L826.4,669.0M868.2,694.3L870.8,696.6M837.4,668.2L840.8,671.3M831.8,666.3L834.6,669.3M852.9,695.8L857.0,698.4M848.3,680.0L850.7,681.8M868.7,713.9L872.3,716.5M841.4,686.1L843.6,689.1M873.8,709.9L876.3,712.0M861.0,682.6L865.6,685.8M827.7,665.4L832.0,669.0M828.1,667.0L831.5,670.7M856.2,682.9L859.5,687.5M815.9,651.7L819.3,654.4M839.8,662.0L843.7,664.6M865.6,694.9L869.9,697.8M878.2,711.1L881.0,714.8M832.8,682.1L834.5,684.1M863.9,691.5L868.0,694.2M812.9,653.4L817.1,656.7M878.4,708.3L882.5,711.0M833.0,666.6L835.7,668.9M839.0,683.9L841.2,686.2M826.8,664.8L830.4,668.2M812.7,662.7L816.3,666.2M846.0,678.5L848.0,681.1M858.6,690.6L860.9,693.2M819.8,661.0L823.1,663.2M831.8,653.6L834.3,655.4M840.0,667.0L844.6,670.3M864.5,711.5L868.7,714.1M841.4,672.3L843.7,675.3M853.6,694.4L856.0,696.1M850.2,689.1L854.2,692.9M836.9,677.4L839.3,678.9M829.8,670.1L833.3,672.3M878.5,716.7L880.1,718.7M877.8,705.7L881.9,709.4M846.7,682.8L849.0,685.7M859.2,691.7L861.1,693.9M821.0,654.2L823.8,657.6M858.1,680.8L860.4,682.3M875.4,710.4L880.3,713.9M858.0,694.0L860.6,695.6M844.9,650.0L846.4,652.0M836.4,656.8L837.5,657.8M883.0,703.2L884.3,704.0M891.3,698.7L893.3,700.0M874.8,700.8L877.3,702.0M873.2,705.1L874.6,707.1M817.4,650.4L819.2,651.9M846.1,668.0L847.0,669.6M846.5,651.6L848.1,654.1M847.8,665.0L849.3,665.6M864.4,645.2L866.9,647.1M863.9,649.8L866.1,652.4M856.5,637.7L858.2,640.5M843.2,626.8L844.3,629.0M866.9,645.0L868.2,645.7M959.5,680.1L961.0,680.9M994.9,702.1L995.9,704.2M982.9,620.0L984.0,621.0M966.3,626.8L966.1,629.9" stroke="#f3e5a9" stroke-width="1.4" fill="none"/>
<path d="M655.0,519.0L657.1,518.4M638.6,538.2L640.6,535.6M643.2,518.3L646.7,515.7M674.6,530.4L676.6,529.6M676.7,533.9L679.7,531.7M683.8,547.9L686.7,545.4M680.1,525.6L682.4,525.8M686.3,560.1L689.9,558.3M674.7,561.8L677.5,561.5M636.6,535.4L638.2,533.7M642.1,524.8L646.0,522.4M667.8,556.3L672.3,555.8M657.0,556.0L659.5,556.1M649.2,536.2L651.8,535.3M656.9,539.8L660.9,540.0M659.0,532.8L661.6,529.9M648.1,519.9L649.8,518.7M664.1,536.6L665.6,534.8M685.9,521.2L688.8,517.3M650.7,531.2L653.7,528.2M685.4,549.9L688.1,547.6M694.2,530.5L696.2,528.7M659.7,559.5L662.1,559.0M650.2,527.2L653.0,524.7M655.7,535.2L660.1,533.6M666.2,538.5L668.0,537.7M644.9,535.5L648.5,534.8M669.2,552.4L671.7,549.6M672.1,537.6L675.8,535.9M669.5,559.2L671.9,559.0M658.4,535.7L662.9,536.0M684.0,561.6L685.8,559.5M673.9,553.6L676.8,550.1M661.9,529.2L666.4,527.4M667.8,524.1L669.5,522.2M653.9,526.8L656.8,526.3M684.7,534.0L688.8,532.1M660.4,529.7L661.8,527.8M652.1,524.4L654.8,522.3M694.4,540.5L698.2,537.3M664.1,537.8L666.7,535.4M640.9,532.2L642.2,530.6M689.1,543.4L693.5,542.6M677.6,547.0L679.1,545.7M668.7,543.6L672.6,542.4M680.4,561.4L683.3,560.1M682.5,542.8L684.6,542.1M681.1,526.9L683.0,526.2M676.3,546.7L679.1,545.9M634.6,534.7L639.5,534.2M684.8,537.0L688.9,536.9M665.1,513.7L667.1,510.8M642.9,529.9L646.6,527.2M657.2,530.9L661.0,531.2M651.6,515.2L654.5,511.8M650.3,525.1L652.6,524.0M652.6,513.5L654.9,513.5M669.7,532.0L671.4,530.2M664.3,522.2L669.3,522.2M647.0,516.3L648.9,515.0M669.7,556.5L672.9,556.0M665.9,543.2L668.5,543.0M690.6,535.5L692.5,534.8M685.8,554.5L688.6,554.7M663.0,540.9L665.7,537.4M648.5,523.5L652.6,523.7M647.8,551.3L651.7,548.3M647.5,532.9L652.2,531.6M675.9,531.1L678.5,529.5M656.5,553.1L659.8,552.7M652.3,556.9L654.4,556.7M664.6,552.6L668.4,552.4M654.6,562.0L659.5,561.8M708.7,576.1L711.4,575.0M652.9,575.4L654.6,573.9M685.8,557.5L688.3,556.8M648.4,581.3L651.2,580.1M676.4,578.0L681.1,577.3M688.5,569.6L690.8,567.4M657.7,568.0L660.2,567.1M649.5,572.8L651.9,571.2M667.5,549.4L670.0,548.7M672.2,579.0L676.1,576.5M642.6,569.6L645.4,567.6M643.4,563.0L648.2,562.1M671.1,579.1L673.7,578.7M688.6,565.8L691.3,564.8M672.9,571.2L675.7,569.5M677.9,551.3L682.2,550.3M677.5,546.2L679.7,543.7M701.1,576.3L703.0,575.3M700.1,579.2L703.6,575.7M653.4,552.8L656.1,551.4M648.3,583.8L652.7,582.4M687.9,571.2L689.5,569.9M689.4,561.0L693.5,558.8M690.6,563.6L693.7,560.0M642.5,569.6L646.8,569.1M657.3,583.0L659.4,580.1M701.4,561.8L704.7,561.0M676.1,579.3L680.4,578.0M685.9,555.5L688.7,552.8M647.5,543.1L650.6,539.4M691.7,578.5L694.4,577.4M663.9,560.6L665.5,558.4M673.6,576.8L676.9,574.3M679.0,577.9L681.5,575.4M659.9,550.4L663.2,549.4M652.8,552.3L656.3,551.9M649.4,560.6L653.1,559.8M651.1,554.5L655.4,553.2M657.2,555.6L659.4,554.5M722.2,575.4L725.3,571.6M700.6,561.4L703.4,558.6M650.9,570.4L654.0,569.8M648.7,576.1L652.3,575.9M653.1,572.7L656.7,570.3M666.8,543.6L669.2,541.6M672.7,572.9L675.0,571.3M719.0,565.8L722.2,562.7M645.7,576.1L649.6,575.4M665.6,569.8L670.0,569.0M668.8,552.3L670.9,551.0M660.0,552.4L662.6,550.2M693.1,556.8L697.6,556.5M647.7,578.6L649.6,577.9M694.3,552.4L695.8,550.6M665.0,547.2L669.4,546.8M651.9,572.8L655.7,570.9M685.1,553.0L686.8,551.3M676.5,547.5L679.6,545.8M676.0,566.6L680.3,565.2M665.1,580.6L667.9,578.6M709.3,559.2L711.7,557.9M693.7,577.3L696.1,575.5M694.9,561.3L697.2,560.8M671.9,545.1L674.4,544.2M645.5,586.2L648.4,582.7M699.5,551.5L702.0,550.8M690.5,573.8L694.6,571.4M662.4,575.2L665.6,571.9M667.4,567.5L670.8,565.4M667.2,570.2L670.2,569.1M671.7,567.4L676.3,566.6M665.2,544.8L669.2,543.0M689.5,571.8L691.8,570.5M714.0,564.9L717.3,563.1M650.8,573.3L653.8,571.2M647.8,542.1L651.0,542.0M688.8,556.3L690.7,555.4M718.8,575.7L723.6,574.9M688.2,560.1L691.4,556.4M704.4,573.5L709.1,571.8M695.0,554.6L698.9,552.9M658.0,546.3L660.2,545.1M699.1,550.9L702.0,547.0M654.2,543.1L657.7,542.1M674.6,597.1L679.0,598.9M721.4,586.8L723.9,587.6M704.6,579.9L708.0,581.5M676.9,576.8L681.1,578.1M723.9,598.1L726.2,598.9M687.7,593.4L690.1,595.4M728.2,593.8L729.8,596.2M690.7,596.0L692.7,597.4M694.2,593.1L696.7,594.0M774.7,603.2L777.9,605.5M718.9,600.0L721.5,602.1M683.1,598.4L686.5,600.0M732.1,597.2L736.7,598.9M659.3,591.6L663.0,593.6M792.5,610.8L795.4,611.5M766.7,617.3L769.2,619.2M724.5,595.2L727.3,595.9M776.1,615.3L777.5,617.5M734.4,596.6L736.8,600.1M727.4,598.3L729.8,600.5M750.6,599.6L753.7,600.1M736.0,617.2L737.9,620.1M673.7,586.4L676.6,588.3M711.0,613.0L714.8,614.5M775.7,602.2L777.6,603.9M687.0,591.7L688.9,593.6M722.5,613.6L724.9,614.4M730.0,591.9L732.0,592.9M702.6,584.6L705.4,585.3M665.0,585.4L666.5,587.2M702.0,609.3L706.4,611.3M725.9,600.0L730.0,601.5M735.0,588.0L737.0,589.0M697.7,606.8L701.3,607.4M694.7,575.0L697.2,576.0M759.6,609.7L761.7,609.9M775.2,601.3L777.2,603.2M702.3,570.4L705.0,573.7M777.1,604.0L779.8,604.3M731.0,585.0L734.0,585.4M696.5,577.9L699.4,580.6M727.4,594.3L729.1,596.9M764.0,615.8L766.8,616.3M658.9,586.4L662.9,587.4M698.9,596.3L701.2,597.4M667.0,597.3L669.2,598.5M699.4,580.6L701.3,582.9M694.5,594.6L697.0,596.4M654.9,580.9L657.4,583.1M667.8,580.1L670.0,583.0M688.4,576.3L690.7,577.8M685.2,591.6L688.9,591.9M679.4,594.2L681.8,597.1M677.5,600.7L681.3,602.1M675.5,590.2L678.7,592.1M699.2,571.9L703.6,574.3M690.7,597.9L694.2,599.1M732.0,593.3L735.0,593.7M722.0,591.1L724.5,591.9M717.9,594.8L720.2,596.5M661.2,596.5L662.9,598.8M675.4,585.3L677.3,587.1M770.7,617.9L772.9,618.9M780.8,604.8L782.3,607.0M746.9,592.5L749.2,594.5M700.4,597.4L702.6,599.0M717.1,585.4L721.1,588.1M733.3,580.3L735.0,582.9M790.5,604.8L793.2,605.6M684.9,581.3L687.6,584.2M761.8,615.1L764.6,616.1M738.6,594.6L742.3,597.4M693.6,572.9L698.5,573.7M665.6,580.2L667.3,581.7M757.5,617.8L758.6,619.6M725.7,583.7L727.7,584.8M668.2,597.5L671.4,598.2M781.5,610.3L783.9,611.2M708.9,587.7L713.3,590.0M688.5,603.8L690.9,605.0M745.4,600.2L749.9,602.0M720.6,609.3L723.5,611.2M727.7,584.0L730.4,585.2M680.6,593.0L683.1,595.9M716.5,590.5L718.5,592.5M728.6,596.6L731.1,600.1M719.4,595.2L721.5,597.8M667.3,583.4L671.7,584.0M699.0,599.3L704.0,599.7M697.2,584.1L699.5,587.0M786.6,601.3L789.5,601.7M733.5,588.4L737.7,589.9M768.7,602.2L772.9,604.6M766.3,621.5L769.8,623.3M769.4,623.5L771.3,624.4M739.3,600.5L741.7,600.8M699.3,595.2L703.3,596.5M738.4,596.3L741.9,596.6M703.3,591.0L705.2,592.7M673.4,576.0L674.8,577.9M667.6,596.4L671.2,597.2M680.1,593.1L682.4,593.7M722.6,612.7L725.9,615.1M673.2,585.8L676.3,586.2M701.7,579.1L704.2,579.8M775.1,613.4L779.2,614.0M793.2,613.0L797.5,614.4M768.2,606.3L770.7,610.1M740.3,595.7L742.7,596.8M678.4,585.1L680.1,587.7M717.8,614.4L720.7,615.4M782.4,607.0L786.2,607.6M704.3,606.0L706.8,608.0M698.9,577.3L701.4,581.2M679.0,587.3L680.4,589.5M733.7,606.5L735.7,608.6M772.1,601.1L776.5,603.0M761.6,606.9L765.5,608.9M701.6,591.7L703.6,594.0M728.9,598.1L732.5,601.2M667.2,582.9L669.5,584.9M769.5,600.2L773.8,600.7M701.3,581.4L703.8,582.7M726.4,594.7L730.4,595.8M757.6,610.0L760.2,610.3M757.4,604.9L760.3,605.9M665.0,577.2L669.2,578.1M785.0,613.0L788.9,615.3M734.1,598.5L736.7,599.3M836.1,607.8L839.7,610.0M865.5,601.3L867.5,601.8M783.5,601.3L785.6,604.0M801.9,589.6L806.4,591.2M822.7,589.9L825.2,590.5M829.9,592.2L834.0,592.8M790.1,591.1L793.0,594.0M840.9,594.7L842.8,598.0M733.8,563.1L738.3,564.7M877.9,596.8L880.2,597.6M746.7,562.7L748.5,566.4M866.2,604.0L869.7,606.7M822.4,592.6L826.0,593.1M800.2,597.2L803.3,598.2M865.2,607.7L869.1,609.4M889.8,599.9L891.1,601.5M882.3,601.4L885.8,603.6M742.0,570.7L744.3,572.8M752.6,572.7L755.8,575.1M789.7,600.9L790.7,602.9M763.4,588.1L767.4,588.6M739.0,562.7L741.1,563.0M840.2,607.2L844.2,609.2M884.5,597.9L888.3,599.7M785.1,598.0L786.8,600.0M786.7,590.8L790.6,593.3M863.9,609.2L865.9,609.9M798.8,592.9L802.1,593.6M795.5,593.1L797.7,593.6M760.8,587.5L763.0,588.2M802.6,599.3L804.0,601.0M757.6,579.0L762.4,580.1M730.2,557.1L732.7,559.6M875.7,604.1L879.3,607.2M731.0,565.1L733.1,566.4M801.0,589.7L804.9,592.5M826.4,594.0L831.2,595.5M888.3,606.1L891.3,607.4M798.6,594.3L801.8,596.9M789.3,599.3L792.0,603.3M790.4,592.9L795.1,593.6M772.1,586.2L773.9,589.0M857.8,613.7L860.3,616.2M837.4,587.6L839.9,591.8M802.3,594.7L805.4,597.8M793.0,589.2L794.2,591.6M756.5,587.9L759.2,588.8M841.1,599.4L843.3,600.7M829.2,595.0L832.6,598.6M736.7,568.3L738.1,569.7M843.1,599.1L844.0,601.0M887.8,600.4L890.2,602.2M764.1,588.8L766.4,589.2M828.4,590.6L831.0,593.9M757.2,575.3L759.0,578.6M759.1,587.2L760.9,588.7M741.7,572.5L743.7,574.4M812.3,589.4L814.1,591.4M839.3,595.7L842.8,598.8M886.3,601.2L888.1,603.5M735.5,564.1L739.0,564.6M871.7,604.1L873.8,605.5M810.0,584.8L813.5,587.4M776.9,585.1L778.8,587.5M881.7,602.2L883.4,603.8M763.2,596.7L764.4,598.8M741.4,566.4L742.4,568.3M746.8,574.2L748.9,574.7M863.5,605.1L865.6,607.7M762.8,585.7L763.8,587.8M875.9,607.1L877.7,610.5M844.9,597.4L846.5,599.2M742.3,571.3L744.9,572.2M751.7,571.1L753.3,573.6M865.9,606.1L868.7,607.5M744.2,567.8L748.7,569.3M863.5,607.7L867.6,609.6M837.7,594.6L839.7,597.6M854.2,601.6L857.0,605.3M761.7,587.8L766.1,588.3M736.4,567.5L738.1,569.4M857.1,606.5L860.5,609.6M787.4,586.9L790.6,590.4M824.6,590.0L827.3,591.0M736.8,573.1L738.5,574.8M892.0,599.0L895.8,600.8M754.0,572.1L756.3,573.1M753.7,581.5L756.9,582.9M798.0,597.7L799.6,600.7M789.8,593.3L793.5,595.1M782.7,587.5L785.6,589.1M838.0,587.9L841.2,591.6M811.4,592.8L813.3,596.2M788.2,590.1L791.1,591.2M875.6,598.9L877.9,600.6M756.5,576.7L759.5,580.2M871.4,605.0L872.3,606.9M732.9,556.2L735.6,559.1M811.6,591.9L813.0,593.4M821.0,583.0L823.3,585.0M868.3,606.5L870.1,609.7M786.2,593.8L788.8,597.3M788.2,604.6L790.1,607.9M764.4,592.4L768.0,594.6M818.2,593.7L820.8,597.1M787.3,600.3L791.4,601.2M831.6,590.7L832.8,592.4M867.2,606.7L868.3,608.5M844.4,599.2L845.7,601.5M746.8,568.5L750.1,569.5M876.3,595.4L880.7,597.0M752.4,574.1L754.6,575.3M820.1,597.6L821.6,600.4M835.1,600.5L836.5,601.9M861.4,609.7L864.0,610.0M797.2,666.2L801.2,667.7M773.9,641.5L776.9,643.5M763.0,637.6L765.1,640.8M727.8,628.6L731.5,629.9M725.0,615.5L727.4,618.7M752.2,624.5L754.1,626.4M783.9,648.8L787.6,652.1M774.5,650.9L778.0,653.0M808.5,642.1L811.8,643.6M755.8,638.7L757.7,640.5M768.0,633.4L769.8,635.2M792.5,649.4L794.7,652.2M765.4,651.7L768.4,653.1M781.4,647.8L784.3,650.6M794.8,651.8L797.2,653.7M786.8,660.1L789.6,663.8M761.9,632.1L763.9,634.0M775.6,642.8L777.4,643.9M776.8,639.1L779.2,640.1M794.2,656.0L798.0,658.0M729.3,614.4L732.1,616.2M786.6,638.9L787.9,641.0M753.9,628.2L756.6,630.7M769.5,627.8L773.4,630.1M782.3,647.6L784.9,649.5M768.5,627.4L770.3,629.0M796.8,639.5L801.2,640.9M727.3,613.4L729.0,615.0M807.3,656.0L809.1,658.0M792.9,635.4L797.3,637.5M805.7,636.0L809.1,638.7M729.5,624.8L732.0,627.2M740.1,634.8L744.4,636.0M800.7,654.0L803.8,657.2M738.4,636.5L740.9,638.6M773.8,646.7L776.7,648.5M766.0,623.7L769.0,625.3M786.2,654.1L787.5,656.4M756.2,627.3L760.8,628.9M782.0,641.4L785.0,643.6M779.3,645.3L781.3,648.0M793.8,626.3L797.2,629.2M757.8,638.4L759.7,639.7M722.5,618.3L724.5,619.3M761.6,625.4L763.7,627.3M813.6,646.1L815.9,649.0M737.4,624.1L739.3,625.9M749.3,625.0L751.0,626.1M795.6,648.9L799.0,651.8M784.5,661.3L786.7,662.2M793.2,643.4L795.8,644.7M799.1,643.3L800.6,644.7M771.2,630.8L773.7,632.8M756.0,625.7L758.5,628.6M779.3,639.2L782.6,642.7M780.9,655.7L783.7,657.1M768.1,631.2L771.9,633.5M792.6,663.9L795.3,664.7M758.3,640.9L759.5,642.7M733.2,626.2L735.7,629.0M773.1,625.2L776.3,626.8M731.2,629.2L732.6,631.3M728.1,622.7L731.4,626.0M786.8,654.2L790.0,656.8M748.4,625.4L750.1,627.4M763.0,641.8L764.6,644.0M789.8,662.5L791.9,664.6M799.0,656.3L802.7,658.7M775.4,634.5L777.1,637.3M775.8,640.7L778.1,642.3M793.2,634.5L796.0,636.8M779.1,625.4L781.3,627.0M770.1,646.5L772.9,647.6M801.8,654.3L803.8,656.5M771.8,631.4L773.7,633.6M770.9,643.7L772.6,645.6M729.7,628.8L732.2,631.6M734.2,614.8L737.3,616.4M749.9,620.2L753.8,622.9M737.5,623.4L740.0,625.6M806.1,660.8L810.0,662.1M798.0,629.1L801.2,631.6M724.7,625.5L727.0,626.3M793.1,650.9L796.6,653.0M748.4,641.1L751.7,642.1M724.8,616.1L726.9,619.8M804.6,647.8L806.4,649.4M798.3,651.8L802.2,653.1M802.3,633.7L804.7,635.0M768.9,638.6L770.2,640.9M787.8,651.7L790.9,654.8M806.3,646.3L809.0,648.9M760.1,633.4L763.1,635.5M761.1,630.6L762.3,632.5M757.6,635.0L759.9,637.1M801.8,663.6L804.8,665.3M812.6,650.8L814.6,652.2M742.2,628.9L744.4,630.9M759.1,645.1L761.3,647.2M804.1,639.0L807.4,640.7M734.6,623.8L738.4,626.6M899.8,593.4L904.4,592.5M902.7,599.3L905.2,598.0M896.3,599.7L899.6,598.3M896.2,599.0L898.0,598.3M891.2,602.0L894.0,600.9M892.9,592.3L897.2,591.5M907.6,588.1L909.5,586.5M919.2,590.3L921.5,590.0M906.9,599.4L909.4,597.9M895.4,589.7L899.8,587.7M885.4,602.6L887.6,600.6M911.2,588.7L915.1,586.4M898.3,588.5L901.1,587.7M912.3,597.3L914.5,595.6M895.5,593.6L897.7,592.7M911.1,599.6L913.8,598.2M900.3,601.9L902.9,600.5M917.9,586.1L921.5,585.5M897.9,597.6L901.6,594.7M911.0,588.8L915.1,587.3M893.9,600.5L898.0,598.8M907.6,594.7L911.7,593.3M909.5,595.0L911.9,594.6M912.7,592.5L916.6,592.4M903.5,594.8L906.8,592.9M913.5,587.4L915.9,585.6M918.6,590.0L920.4,588.9M902.2,591.5L905.8,590.5M909.8,599.2L913.1,598.4M895.8,598.3L899.4,595.6M894.8,592.5L898.9,589.7M916.5,588.2L920.9,585.9M917.6,590.8L920.5,589.8M896.5,597.7L900.0,595.5M916.6,586.8L919.6,586.1M899.1,601.0L903.9,600.8M909.7,598.6L912.9,598.2M890.8,603.4L893.5,601.0M916.9,594.7L919.5,592.9M911.2,597.5L913.1,596.5M895.1,595.4L897.7,593.6M912.1,589.9L915.2,587.5M887.3,600.3L890.3,599.5M910.4,595.2L914.2,593.7M894.8,590.1L898.8,588.8M916.6,594.4L921.0,593.1M905.5,597.0L909.2,594.7M895.6,603.0L897.5,602.2M912.6,587.5L915.7,586.9M905.7,592.5L909.7,590.0M902.4,589.9L904.8,589.5M918.4,586.9L921.0,586.4M908.8,595.7L911.7,595.1M894.3,602.4L897.9,601.6M884.9,599.8L888.6,598.9M913.2,598.4L916.3,596.4M888.1,603.0L892.6,601.6M893.7,596.7L898.1,594.9M892.2,598.8L893.8,597.5M893.5,593.2L895.2,592.1M895.4,594.0L898.0,592.6M891.2,601.5L893.6,601.3M905.4,599.0L909.1,597.9M886.5,601.3L889.0,599.5M893.1,596.8L895.7,596.1M912.5,589.5L914.8,587.8M902.6,602.3L905.2,601.8M905.4,596.3L907.2,594.8M886.3,601.5L889.5,599.4M910.8,589.9L913.9,588.8M891.4,599.8L894.5,598.6M900.9,596.2L902.9,595.1M824.5,679.5L828.0,682.3M833.3,672.4L837.4,675.6M810.8,656.6L814.1,659.0M864.0,690.5L866.6,693.5M854.1,689.7L858.6,692.4M841.5,667.0L843.8,669.8M832.2,658.1L834.6,660.2M823.8,664.5L827.6,667.0M889.0,715.0L890.9,717.5M826.5,667.5L828.3,669.9M852.8,686.6L856.8,689.2M820.4,654.9L823.6,656.8M819.8,662.7L823.8,665.3M811.7,647.2L814.0,650.2M860.8,691.7L863.9,695.1M819.3,664.8L822.4,668.3M840.4,678.1L844.7,682.2M849.3,699.6L853.2,701.9M827.9,665.7L832.1,668.2M852.6,681.1L855.9,685.3M868.6,690.6L871.7,693.8M814.2,655.4L817.1,659.0M886.9,710.1L890.7,714.0M864.9,693.8L868.1,697.9M833.6,677.8L836.1,680.5M868.5,692.3L872.2,695.6M857.6,684.2L860.7,687.5M873.1,708.9L876.5,711.4M851.6,687.1L853.7,689.6M854.9,683.7L857.9,685.9M888.7,713.2L891.0,716.3M841.1,681.5L843.3,684.4M862.6,696.4L865.9,698.6M814.6,670.7L819.6,673.8M833.7,685.7L836.3,688.0M822.1,665.6L826.1,669.0M843.0,684.8L847.7,688.3M846.5,670.2L849.3,672.8M848.2,687.4L851.6,691.0M819.9,657.9L822.8,659.9M830.3,660.1L834.5,662.9M846.1,691.4L849.1,694.5M874.6,710.7L877.8,713.2M883.6,716.7L885.5,719.1M826.7,660.1L831.0,663.4M813.1,652.4L816.2,655.7M828.0,676.8L832.0,679.3M862.1,699.1L864.4,702.2M884.6,707.3L887.8,710.9M890.3,716.6L894.6,720.0M865.4,686.7L867.3,689.1M829.0,656.0L832.4,659.8M852.5,686.5L855.7,689.3M838.4,684.4L841.3,687.7M842.7,677.8L846.3,680.3M834.8,686.9L837.0,689.8M825.3,659.7L829.0,663.7M841.3,681.4L845.0,684.8M823.5,668.9L827.3,673.5M820.4,673.3L824.2,675.6M886.5,712.6L889.8,715.8M822.6,669.1L824.7,671.4M850.5,682.1L852.7,684.5M871.3,696.2L874.7,699.0M875.9,710.5L880.6,714.0M810.1,666.1L814.7,669.1M879.3,704.5L882.9,708.0M830.6,682.4L833.3,683.9M860.0,704.3L863.3,708.0M882.6,718.8L884.9,722.0M831.9,681.7L834.2,684.2M668.1,507.4L672.5,506.3M597.3,506.1L601.3,505.9M594.6,510.8L598.3,510.3M641.7,500.8L645.1,499.9M667.0,504.6L669.8,503.8M617.2,503.3L621.4,503.8M620.1,508.1L624.2,506.7M634.1,502.4L638.4,502.7M588.6,503.1L591.5,502.3M601.0,505.5L604.9,504.4M671.6,502.9L676.3,502.9M657.5,508.2L661.2,508.0M685.9,505.8L688.4,505.7M644.1,499.2L646.5,498.3M667.9,503.6L670.2,502.9M592.5,511.0L596.7,510.4M609.3,507.7L613.4,507.9M592.3,508.0L596.4,507.8M665.7,507.1L667.7,506.8M626.9,507.2L630.9,506.9M651.6,500.3L653.8,500.1M623.1,506.0L625.4,505.3M606.1,508.4L610.4,508.9M632.3,501.2L634.5,501.0M627.0,503.6L629.0,503.5M682.4,508.9L687.2,509.1M630.3,502.9L633.0,501.9M652.0,504.8L655.2,504.0M658.4,503.1L660.6,502.7M626.3,504.1L629.5,503.0M673.4,448.6L675.5,448.7M681.1,449.5L686.4,449.5M717.8,446.0L720.5,445.7M668.7,438.5L671.7,437.6M671.5,442.8L674.3,441.9M703.5,439.8L706.7,439.4M657.9,449.1L660.4,448.7M723.8,439.7L728.2,439.2M674.9,447.2L679.9,446.7M692.1,452.1L695.5,451.5M678.0,447.4L682.5,445.8M737.8,440.1L741.1,439.9M677.6,446.2L681.9,444.8M728.5,447.0L732.6,446.5M681.3,443.3L685.9,442.4M686.2,445.1L690.2,445.3M694.1,446.2L698.3,445.2M716.7,443.0L720.6,442.7M706.9,446.1L709.8,445.1M667.8,447.2L670.9,446.7M715.3,445.4L720.0,443.7M683.2,444.5L688.3,443.4M672.5,451.3L675.7,450.7M734.7,442.4L740.4,442.3M737.6,440.2L740.8,439.0M711.5,450.9L713.8,450.5M704.0,441.2L708.0,439.8M727.6,433.5L732.4,433.3M661.7,444.3L667.2,444.3M878.1,440.2L881.3,438.7M869.1,444.1L873.6,443.5M903.2,434.5L907.3,434.7M860.8,446.9L864.8,446.6M883.6,443.5L884.9,442.8M843.0,449.8L846.3,448.1M850.7,452.4L852.1,451.3M908.5,439.8L911.7,438.6M832.1,454.1L835.6,454.5M891.7,439.1L895.1,438.3M870.4,447.5L872.5,447.3M867.9,447.1L869.7,447.4M901.0,443.4L903.7,442.1M872.6,446.8L874.9,446.7M831.0,450.2L834.6,450.6M870.8,444.2L873.9,443.4M907.6,444.1L909.6,442.6M847.5,452.8L850.1,451.2M830.0,456.2L832.2,455.7M855.6,450.9L859.2,448.3M849.9,452.8L853.5,450.5M911.5,438.0L914.3,437.7M853.8,451.9L856.1,452.2M834.3,453.2L837.6,453.1M864.8,450.2L869.1,450.8M913.4,437.8L916.1,437.6M908.0,437.3L910.7,436.0M615.6,600.8L616.7,598.6M625.3,599.8L626.7,596.2M607.7,594.7L610.4,592.0M619.7,595.2L620.7,593.5M618.7,589.1L619.8,587.2M630.4,586.5L631.3,584.5M606.4,601.1L607.9,596.6M622.6,598.1L623.6,595.3M621.5,605.3L622.7,601.7M621.3,585.4L622.3,582.7M607.5,605.6L608.7,602.0M634.9,600.1L636.8,597.5M627.7,594.2L630.7,590.6M632.6,592.3L633.3,590.4M612.0,605.7L613.8,603.6M628.1,589.5L629.7,586.4M634.3,598.0L636.4,595.6M619.1,603.9L620.3,600.2M618.1,582.8L619.7,578.9M631.9,595.6L633.4,594.3M607.1,597.7L608.3,594.8M623.2,598.9L624.4,596.1M617.1,605.6L618.6,602.3M877.3,720.5L880.4,721.7M960.8,770.3L963.6,770.1M847.3,706.3L849.4,707.2M878.3,720.9L880.2,721.8M987.2,774.6L990.0,776.1M917.8,751.0L918.7,753.0M910.6,740.9L912.8,742.4M858.5,716.8L861.4,718.5M936.5,766.4L939.0,769.2M849.5,719.2L851.9,721.6M869.1,715.6L872.9,716.0M790.5,685.0L793.6,685.2M805.6,691.6L807.2,693.1M787.0,686.0L789.1,689.4M995.7,772.8L998.8,774.3M1014.4,774.5L1016.3,776.2M868.0,722.5L871.5,724.3M920.3,749.9L923.4,750.9M897.0,738.4L899.0,740.3M838.3,705.1L841.9,704.9M1008.6,773.8L1010.2,776.1M954.5,760.3L956.0,763.4M899.6,739.4L902.8,741.6M995.5,770.7L997.7,773.1M863.3,729.4L865.5,730.1M794.0,679.9L797.4,680.6M860.0,716.5L862.1,717.7M848.7,710.5L852.4,711.5M768.9,669.5L772.2,669.7M959.9,773.7L961.8,775.9M791.1,681.5L793.3,683.1M968.5,774.0L971.2,775.2M980.7,768.7L982.9,771.7M969.1,777.9L971.5,778.6M861.7,721.4L864.8,721.6M908.6,746.1L911.4,746.2M885.2,736.2L888.0,736.0M813.3,696.8L816.7,696.6M803.0,696.5L805.6,697.5M826.0,704.8L828.3,707.0M819.2,698.9L821.7,701.3M768.2,667.8L770.6,667.8M824.1,701.0L826.7,703.9M954.9,760.0L957.5,761.2M927.9,755.4L930.4,755.7M833.1,709.3L836.8,710.0M761.9,658.3L763.6,659.4M842.0,706.3L844.4,708.6M825.6,702.7L829.2,704.3M856.2,719.0L859.2,721.0M843.8,712.7L846.4,712.8M898.5,744.3L902.0,744.5M864.8,721.3L867.9,721.5M1010.6,773.6L1012.7,774.2M859.3,712.1L861.4,712.1M776.3,662.1L778.9,661.8M943.1,761.7L945.2,763.6M871.0,726.0L873.7,727.9M924.2,751.2L927.4,753.6M1010.4,775.8L1012.6,776.5M923.0,752.8L925.1,753.2M861.4,715.1L864.0,717.0M881.9,735.1L884.2,736.2M951.8,763.5L953.8,764.4M954.9,761.2L956.8,762.0M933.1,763.0L935.7,763.1M830.2,703.9L833.6,705.7M811.2,701.0L812.6,703.5M849.2,705.9L850.9,707.5M871.3,714.4L873.2,715.6M870.0,721.4L872.5,723.2M1007.7,770.6L1011.5,770.4M941.2,766.3L944.6,766.4M822.3,704.2L824.3,706.8M876.8,719.8L879.4,721.7M959.4,772.8L961.6,774.8M923.8,743.3L925.5,746.4M769.5,665.4L771.4,666.2M818.8,696.7L820.2,699.4M914.9,745.1L918.0,746.2M984.6,765.8L987.5,766.3M905.6,746.9L908.2,748.0M858.3,717.2L859.8,720.2" stroke="#f3e5a9" stroke-width="2.2" fill="none"/>
<path d="M728.8,534.5L731.0,537.1M729.9,530.0L730.9,531.1M725.8,448.0L727.9,447.8M710.2,444.4L713.3,443.7M699.2,448.6L701.8,448.8M706.9,443.9L710.4,443.4M724.9,445.2L729.4,444.5M694.0,443.4L699.1,443.5M725.5,441.6L729.1,441.0M718.4,443.6L720.9,443.1M721.0,448.6L724.4,448.3M672.0,449.1L677.1,448.3M678.7,447.8L683.0,447.7M702.3,444.6L705.3,443.5M692.7,440.0L697.7,439.6M743.6,437.0L747.9,437.2M754.0,436.7L758.9,436.7M734.7,438.3L738.1,438.2M714.8,437.0L718.4,437.3M790.4,427.3L795.0,427.4M774.1,430.1L778.5,429.7M777.9,431.7L781.0,431.4M781.6,428.0L783.9,427.5M780.4,432.0L783.0,432.2M796.5,429.9L800.7,429.0M774.8,429.7L778.5,428.7M769.0,439.2L770.6,439.1M765.3,439.0L768.3,438.4M761.7,439.3L764.6,439.1M832.4,384.5L835.0,382.8M836.2,385.7L838.3,386.2M850.6,395.2L852.5,394.8M916.3,405.9L918.9,406.6M911.8,408.1L913.5,409.1M924.3,408.2L926.2,408.6M915.7,406.4L917.4,407.0M911.6,404.3L913.4,405.5M973.9,420.4L977.5,421.8M963.5,421.5L966.2,421.3M972.2,423.2L974.9,422.3M962.0,421.2L965.5,421.3M972.9,419.3L976.4,420.9M975.9,420.1L978.6,419.9M955.7,442.4L958.7,442.0M960.0,442.1L961.9,442.2M1015.5,246.2L1015.8,244.9M1015.2,237.7L1016.6,235.4M1013.4,238.8L1015.4,236.5M1012.9,234.6L1014.9,232.7M1003.0,269.3L1006.2,269.7M1013.5,270.7L1017.6,270.2M1005.9,271.6L1010.0,271.3M955.7,293.5L958.9,294.5M951.2,294.0L953.3,294.4M975.7,279.3L978.7,279.3M973.1,279.4L974.3,279.2M1007.2,299.2L1009.6,299.1M641.1,580.8L643.2,579.2M853.7,592.5L857.3,592.8M862.7,592.2L865.0,591.8M805.8,584.7L809.4,584.0M814.7,587.1L819.1,587.1M857.7,593.0L860.3,593.0M852.7,592.6L855.6,592.3M873.8,591.7L878.2,590.6M852.3,592.7L855.8,593.1M806.1,585.1L809.7,584.7M819.0,587.5L824.0,587.8M927.1,576.5L930.7,575.8M923.6,577.5L925.6,577.3M980.7,563.8L982.3,563.6M994.2,558.9L998.2,556.8M964.4,566.1L967.5,564.9M980.2,562.5L983.6,560.7M975.1,567.8L978.1,565.9M993.1,559.6L995.1,559.7M1004.3,586.7L1007.0,584.8M1007.1,583.7L1008.5,582.1M730.9,624.0L734.6,625.7M741.3,629.2L743.2,631.7M741.8,628.4L743.0,629.9M730.9,622.7L734.3,623.5M832.4,717.7L834.5,719.9M921.6,763.3L923.3,763.3M922.8,761.3L924.5,761.3M922.9,762.5L925.3,763.3M926.0,764.1L927.8,763.6" stroke="#c5deb5" stroke-width="1.0" fill="none"/>
<path d="M676.6,450.1L681.8,448.9M661.3,451.3L666.1,451.1M657.9,452.2L661.0,451.7M731.8,437.3L737.6,437.4M680.5,444.8L685.7,444.8M664.7,453.8L667.6,453.5M678.8,449.7L681.4,449.6M728.3,443.8L733.0,443.3M704.1,443.6L707.2,442.5M718.9,440.6L724.3,438.7M666.6,451.1L670.7,449.8M662.5,450.5L668.5,450.6M692.9,447.3L696.0,446.9M708.2,438.5L712.4,437.8M724.1,438.7L726.9,438.9M699.2,436.9L704.1,437.3M790.5,434.6L794.1,434.3M790.8,434.2L793.8,433.0M797.3,428.4L801.5,426.8M778.6,426.1L781.4,426.2M788.3,431.4L791.3,430.4M793.3,432.7L796.1,431.4M763.7,439.0L767.2,438.3M763.6,438.6L767.7,439.3M771.4,439.8L773.3,438.9M774.9,439.8L776.8,439.4M768.3,439.1L771.0,439.3M842.9,385.3L845.4,385.2M833.0,385.6L837.0,384.1M918.9,405.6L921.6,406.3M965.3,423.4L968.8,425.0M970.6,421.0L972.5,421.9M1017.6,243.6L1018.9,242.5M1017.1,240.3L1018.9,238.6M1007.4,271.4L1010.4,271.9M1015.7,272.3L1018.0,271.2M956.6,296.7L958.9,296.0M978.0,275.1L980.8,276.0M984.1,278.9L985.4,278.9M1011.7,299.7L1014.0,299.0M1009.3,302.4L1010.8,302.0M655.1,592.6L658.2,590.9M656.4,595.4L658.2,592.9M657.4,594.3L659.6,590.4M659.3,590.0L662.1,587.8M650.9,574.9L651.9,572.7M806.2,585.5L810.9,585.7M880.4,586.1L884.7,586.5M938.5,573.1L942.4,573.7M946.7,570.3L951.0,569.0M988.9,563.3L992.8,563.8M991.8,558.5L994.2,556.8M984.4,561.9L987.2,561.4M974.4,563.1L978.0,561.4M1005.3,581.7L1007.0,579.4M734.0,622.7L736.2,625.5M821.2,711.9L822.4,713.0M820.5,712.8L824.2,714.5" stroke="#c5deb5" stroke-width="1.4" fill="none"/>
<path d="M695.2,558.5L697.8,556.8M657.4,548.4L660.0,547.2M683.8,556.0L686.3,554.0M691.1,554.0L694.2,551.6M677.6,515.2L679.4,514.8M647.2,528.3L649.1,528.4M651.6,552.1L655.0,551.4M648.1,533.8L650.2,533.3M648.7,538.7L651.0,536.8M664.3,534.1L667.7,533.8M695.1,539.5L698.0,539.1M653.7,524.3L656.2,523.9M641.3,551.1L644.9,550.6M665.5,553.7L668.7,553.3M648.8,518.3L651.2,517.2M666.3,521.0L669.4,521.0M651.8,523.7L653.9,522.1M654.3,533.3L657.5,531.1M658.7,515.0L661.4,512.2M692.4,550.8L694.6,550.9M661.5,556.9L663.9,556.8M658.8,561.5L661.3,558.7M663.6,516.9L665.4,517.0M659.3,539.1L661.9,536.9M679.3,551.0L680.8,549.5M646.1,541.7L649.7,539.1M683.3,530.7L687.1,530.6M640.0,526.6L641.9,526.1M657.5,539.6L660.7,539.0M671.2,524.0L674.6,521.1M659.5,526.8L661.6,523.8M680.2,530.6L683.6,530.6M679.1,534.3L680.3,532.7M739.2,548.7L741.8,552.2M700.7,521.8L702.7,523.8M708.6,523.2L711.9,526.0M739.4,547.2L740.8,548.0M719.0,534.1L721.0,534.7M736.6,548.5L738.6,550.2M716.6,529.5L718.4,530.0M737.9,546.8L739.6,547.2M713.0,529.0L714.5,531.1M741.4,544.5L743.5,545.8M737.0,545.7L740.2,547.9M712.0,532.5L715.6,533.2M690.5,522.2L692.4,523.1M698.4,518.4L699.7,519.9M702.9,526.4L706.5,527.9M713.5,527.4L715.3,529.3M708.4,524.9L711.8,527.3M737.0,543.7L739.6,544.4M726.8,539.1L730.8,540.3M703.8,533.2L705.6,533.7M698.7,543.3L700.0,543.2M701.0,536.3L702.3,534.1M699.8,551.9L701.7,549.8M597.1,505.5L600.7,505.4M640.8,500.3L643.6,499.4M631.5,501.4L634.0,501.2M662.0,506.7L663.5,506.3M589.5,508.0L593.8,508.3M674.1,505.2L676.3,505.0M623.2,503.2L624.8,502.8M612.4,510.4L615.3,509.5M683.1,508.2L685.1,507.7M654.0,502.0L656.0,501.4M594.1,510.3L597.8,509.6M595.2,510.0L599.1,510.1M642.2,503.6L646.3,503.6M685.5,506.7L689.4,505.9M628.5,505.4L632.2,504.1M654.9,506.4L658.5,505.3M622.1,507.7L625.7,507.8M620.3,500.1L624.0,500.1M646.2,501.1L649.6,500.5M659.4,507.4L661.1,507.2M605.6,507.9L609.3,506.8M647.7,505.2L651.9,505.2M647.5,506.4L651.6,505.5M658.8,503.7L662.0,502.6M646.1,504.6L648.3,504.0M715.6,488.3L719.1,487.8M693.8,494.1L695.3,493.6M705.5,492.6L708.5,491.3M652.2,467.5L654.6,466.9M695.9,473.2L697.8,472.3M682.9,469.4L687.1,469.3M642.5,455.1L644.2,453.7M648.0,456.3L650.4,455.5M828.8,450.1L831.3,449.0M825.4,445.7L827.4,443.5M821.8,452.0L824.1,450.9M810.5,454.4L813.3,453.1M783.9,467.9L785.5,466.4M797.3,462.3L799.6,460.5M787.1,461.1L789.5,459.8M779.8,467.2L782.6,466.0M794.3,464.3L797.7,462.0M753.4,477.8L756.4,476.9M777.4,467.1L781.4,467.8M729.0,476.1L730.8,475.7M744.1,477.2L746.3,477.2M724.7,480.9L727.7,479.3M732.9,485.3L734.8,485.1M748.4,475.9L751.6,474.5M721.0,472.5L725.1,472.3M744.0,476.7L747.0,474.8M751.1,471.4L752.9,471.3M737.0,481.5L739.7,479.3M737.1,480.0L740.3,478.0M858.6,451.4L864.0,452.6M848.7,453.9L853.7,454.2M838.2,451.2L843.2,448.2M854.1,454.3L858.8,452.8M840.6,450.3L846.4,449.8M899.8,437.7L903.7,437.6M909.0,437.0L910.5,436.8M887.5,443.6L891.7,442.1M857.6,447.7L859.3,447.4M855.7,450.1L858.4,449.0M883.6,443.4L885.2,442.3M867.4,444.0L870.4,444.4M862.7,446.9L865.8,445.5M893.8,440.0L896.1,438.1M904.0,437.0L908.3,437.2M919.3,436.4L921.6,436.8M883.9,443.8L887.2,441.5M882.5,440.7L886.3,439.9M812.0,456.1L815.6,455.3M813.5,457.4L817.6,456.1M815.3,454.8L819.4,455.7M818.9,455.7L821.8,456.2M827.0,458.6L828.4,457.8M947.6,418.8L949.2,418.8M986.4,426.9L988.9,427.5M996.1,428.5L997.3,428.4M948.2,415.9L951.1,415.8M959.8,419.2L962.2,419.5M960.0,423.5L961.1,423.7M615.6,583.5L617.9,580.8M633.0,594.3L634.2,592.4M626.3,590.9L627.8,588.7M618.4,585.2L621.1,582.4M617.4,583.9L618.7,581.8M636.2,592.3L637.7,590.9M626.6,601.9L628.5,598.5M608.6,596.6L610.9,593.9M625.8,605.4L628.3,602.2M625.3,587.6L627.0,585.0M634.0,586.2L635.4,584.4M615.0,595.4L618.1,592.9M607.1,596.4L610.6,593.7M606.2,587.8L607.4,585.7M611.8,585.2L613.5,582.1M619.7,591.5L620.3,589.6M604.4,596.1L606.1,593.8M607.9,589.8L609.1,588.2M615.8,584.1L618.0,582.0M607.1,588.2L608.7,586.7M617.7,588.9L618.5,587.4M611.9,594.1L613.3,591.7M643.1,580.4L644.2,578.3M648.0,574.5L650.9,573.2M642.4,578.8L645.5,576.1M642.7,575.7L644.7,574.9M699.8,568.8L701.4,568.5M643.0,579.8L644.7,579.6M662.3,580.8L665.6,578.5M654.1,546.9L657.5,544.8M672.0,574.1L674.1,573.9M721.0,566.2L724.3,564.1M659.7,580.7L662.2,577.6M679.4,562.5L681.1,561.3M667.5,551.9L670.5,549.2M666.2,556.4L670.0,555.0M686.2,561.5L689.5,560.8M661.8,556.7L663.4,556.4M650.0,559.1L652.4,559.0M664.3,546.8L668.0,546.5M722.3,570.1L724.7,569.4M711.8,557.9L714.8,556.8M638.9,543.4L640.5,542.5M659.5,557.7L661.8,556.1M677.9,571.6L680.0,570.8M696.7,553.4L699.4,553.2M700.5,560.6L701.9,560.1M677.5,546.1L679.9,544.0M654.3,543.2L656.3,541.2M678.1,567.8L681.2,566.7M677.8,562.3L679.1,560.8M676.5,553.3L679.3,552.8M700.6,549.9L702.0,548.2M688.1,547.6L690.1,545.8M706.1,553.7L708.3,552.9M687.8,573.8L688.8,572.3M659.2,549.7L661.8,548.2M665.4,573.1L666.7,572.2M639.4,547.0L641.8,546.8M688.0,547.5L689.9,547.1M698.8,558.9L702.5,557.2M635.1,543.5L638.5,540.8M685.8,568.6L689.4,567.8M648.6,550.9L651.7,548.6M701.9,576.8L703.4,574.8M703.6,567.3L705.8,566.6M674.5,552.0L676.3,551.6M645.6,569.3L648.9,569.0M652.9,584.1L657.1,582.7M667.1,578.9L670.0,580.4M774.6,615.9L776.8,618.4M680.5,595.2L681.6,596.9M741.0,590.6L742.5,592.8M683.7,583.8L685.7,585.7M728.7,592.4L731.4,593.2M705.0,588.7L706.7,590.1M664.7,599.0L667.6,599.7M706.5,608.2L708.7,608.3M667.1,586.7L669.1,588.2M731.4,581.0L734.2,582.1M753.3,614.4L755.6,617.8M671.7,584.0L675.0,586.9M754.5,606.9L756.7,608.0M737.1,615.5L741.1,617.0M680.7,576.2L684.3,578.5M726.1,576.8L728.1,577.4M688.8,594.6L691.2,595.4M730.3,604.9L732.8,608.0M722.7,593.0L724.0,594.7M742.3,610.7L746.2,611.7M668.4,592.7L670.1,594.8M690.5,578.0L692.8,579.4M766.0,622.0L768.7,622.7M732.5,600.0L735.4,600.4M743.5,596.5L745.0,598.1M784.4,617.8L786.7,618.1M730.2,594.9L732.0,597.8M740.5,618.0L741.8,619.2M745.6,606.2L749.2,608.4M744.7,617.3L747.5,618.6M701.0,607.2L702.6,609.6M761.7,607.6L765.1,608.7M726.6,610.0L729.3,610.6M703.7,581.1L705.9,581.4M670.6,596.4L673.0,598.4M782.1,598.8L784.3,601.6M685.7,577.8L687.3,578.1M705.7,603.5L707.8,606.0M746.3,599.3L749.0,602.3M681.4,582.1L684.5,582.4M726.5,600.4L730.2,601.0M690.5,576.7L692.6,577.4M757.2,617.8L760.7,618.1M737.5,610.4L741.2,612.2M747.9,604.9L749.9,606.0M722.0,592.2L724.2,595.3M731.1,617.4L734.5,618.1M756.3,599.9L757.7,601.2M761.5,591.8L764.3,592.2M763.5,594.8L767.4,596.9M781.0,600.1L784.5,601.6M733.6,562.9L735.1,563.9M762.2,581.4L765.9,583.8M760.2,580.9L762.1,583.4M773.4,586.0L775.4,587.2M771.0,591.3L772.0,593.5M755.3,589.5L757.7,592.3M741.2,569.2L744.9,569.9M743.4,565.5L745.8,567.9M775.6,587.1L777.5,587.9M758.9,581.1L761.9,581.9M786.2,599.6L789.0,602.1M744.7,568.3L746.9,569.6M767.9,583.5L768.7,585.3M745.0,571.3L747.9,572.1M771.9,589.0L774.6,590.9M758.8,579.9L762.1,580.9M753.6,577.4L754.8,579.6M784.6,598.7L785.8,600.8M788.1,592.1L791.0,594.5M788.6,589.2L790.7,592.0M756.6,569.9L757.9,571.6M763.6,576.5L767.2,576.9M796.8,579.0L799.2,579.3M752.6,569.4L754.5,569.8M757.2,561.0L760.5,563.2M761.2,567.4L762.5,569.7M785.5,571.3L787.0,574.0M784.1,580.7L787.0,583.8M774.0,572.7L776.0,574.8M747.9,563.2L749.7,563.8M751.7,555.3L755.5,556.3M748.7,554.1L751.5,556.8M738.1,539.2L739.9,540.6M746.5,547.6L748.7,549.5M737.3,536.6L738.1,537.9M756.2,559.3L758.8,560.1M733.7,535.3L734.8,536.7M790.6,595.1L794.4,596.3M795.4,593.1L797.1,592.5M832.4,590.4L835.5,592.0M807.5,590.8L809.1,590.8M820.6,589.6L823.0,590.3M799.9,594.5L802.8,593.5M803.2,589.1L805.9,588.9M863.8,609.1L867.7,608.4M875.0,609.7L878.1,610.6M848.2,606.9L852.3,606.6M845.8,609.7L850.1,610.3M874.7,605.7L877.0,607.0M843.9,607.0L847.0,608.2M850.6,600.7L852.4,599.7M845.5,601.2L847.1,600.7M840.7,599.6L843.3,597.3M856.6,601.7L860.7,602.0M860.9,599.0L862.8,599.3M852.1,597.5L854.2,597.4M881.1,594.2L883.0,594.5M871.7,594.0L875.3,593.2M899.5,584.1L902.2,584.1M894.4,592.7L897.2,591.4M898.7,588.3L900.8,587.7M868.9,599.2L871.6,599.4M875.4,601.2L877.3,601.1M903.2,584.1L905.6,584.6M899.6,590.7L901.3,590.5M846.4,601.7L848.9,601.4M875.6,594.7L879.6,595.6M876.2,597.7L878.1,598.2M890.4,587.1L893.3,586.5M903.8,595.0L907.6,592.9M895.3,594.4L898.0,592.6M909.3,598.5L912.6,597.8M892.2,595.8L894.6,595.0M902.0,588.5L904.8,586.6M906.4,600.1L909.8,597.4M919.6,586.1L921.8,585.0M901.8,590.5L906.2,589.5M891.4,600.8L893.5,600.0M919.2,586.5L922.2,586.2M912.8,596.6L915.9,594.6M909.1,587.3L911.6,585.5M898.8,599.9L903.0,597.9M914.0,592.2L917.8,591.7M903.4,588.5L907.2,585.9M902.1,602.8L906.4,601.0M914.5,589.4L918.2,587.4M913.7,587.9L918.0,585.5M914.1,586.9L917.0,586.6M893.7,593.0L895.8,591.9M907.3,588.8L909.1,587.3M902.0,594.9L905.1,593.4M909.9,592.3L913.4,589.4M895.3,595.4L897.8,593.9M897.0,596.1L898.5,594.7M890.7,602.1L894.3,599.4M894.8,592.6L898.1,589.9M890.0,594.6L893.6,593.2M897.4,598.5L901.0,598.1M807.2,602.1L809.0,602.1M805.9,598.1L808.4,599.5M814.1,615.1L815.6,613.9M937.0,573.1L940.0,571.8M896.1,584.1L899.0,584.0M951.0,566.8L954.7,565.3M954.4,569.0L956.7,568.6M933.9,575.4L937.2,575.4M913.3,578.3L917.8,578.1M947.7,570.5L949.9,570.5M1010.6,556.1L1012.5,554.8M1016.0,555.4L1019.7,553.8M988.9,552.6L992.1,552.2M787.2,641.2L790.1,642.4M723.9,619.7L725.8,622.8M809.9,649.4L811.4,651.8M805.5,651.4L808.0,653.8M784.2,645.7L786.0,646.9M770.8,643.7L772.8,646.3M799.2,636.3L801.4,637.4M731.3,628.1L733.4,631.7M778.7,625.1L783.0,627.6M723.0,621.5L725.5,623.2M735.2,632.7L738.4,634.4M742.0,616.9L743.5,619.1M803.9,634.3L807.4,636.8M753.1,618.9L755.6,621.7M740.8,630.0L743.0,633.4M768.7,640.2L770.8,642.5M800.4,648.9L803.1,650.8M760.2,630.8L763.2,631.7M743.5,619.0L744.6,620.9M787.7,633.3L791.6,635.2M761.2,629.8L763.1,632.6M768.7,638.6L771.4,641.8M769.7,664.8L772.8,667.8M760.5,658.2L762.3,660.2M773.9,668.8L774.9,672.0M778.0,666.8L781.1,669.7M800.8,683.9L802.6,685.5M775.0,670.3L778.2,671.7M838.5,711.7L840.5,714.0M826.0,708.1L827.4,710.2M828.3,702.7L832.3,704.8M821.4,715.6L823.5,718.3M823.9,715.6L826.7,718.0M826.5,717.1L828.9,717.4M835.1,723.9L838.5,726.5M810.8,705.6L813.6,706.1M893.1,735.0L895.8,736.1M888.1,733.1L891.7,734.1M887.2,732.6L888.9,735.2M883.5,725.2L885.3,726.9M908.0,745.6L910.5,748.4M902.3,747.2L906.6,746.5M973.0,776.6L974.6,776.3M957.8,771.4L960.8,770.4M999.3,774.5L1001.0,776.2M1013.8,771.9L1016.3,773.3M1013.2,772.9L1016.9,771.4M934.3,755.5L936.4,756.2M930.9,747.3L932.1,748.7M951.2,756.8L953.4,757.2M997.3,765.5L998.2,766.2M979.8,758.9L982.6,758.9M906.2,735.7L908.4,737.5M986.8,763.6L989.5,763.1M966.2,755.2L967.0,756.2M921.2,744.7L921.9,746.2M934.6,753.8L936.8,753.4M858.3,700.8L860.5,702.6M848.6,697.5L852.9,700.9M846.5,680.9L848.8,682.3M829.9,660.2L834.2,664.2M816.7,662.0L821.0,665.4M853.6,688.5L857.8,692.4M866.0,687.4L870.8,690.2M857.2,683.8L861.7,686.4M864.1,709.1L867.6,713.2M854.3,697.3L857.7,699.7M815.1,669.5L818.5,671.5M885.9,709.3L889.2,711.3M858.6,703.6L860.6,706.1M842.4,679.9L845.1,681.7M830.9,675.3L833.2,678.4M843.8,673.0L846.4,675.0M878.1,718.2L882.6,721.5M861.2,696.3L863.9,699.8M874.9,709.1L878.1,712.1M877.7,712.4L879.6,715.0M824.2,658.1L827.5,661.3M873.1,713.6L877.1,716.7M826.5,671.3L830.7,674.4M820.5,654.8L824.0,659.3M828.0,663.2L831.8,666.3M825.6,679.2L828.1,681.3M847.6,674.1L851.0,677.9M871.0,703.2L874.8,706.5M838.0,668.4L840.9,670.7M858.7,707.4L862.8,710.0M821.4,667.2L825.0,669.6M893.2,687.4L894.4,690.0M818.3,646.3L819.4,647.5M877.9,677.6L879.9,679.2M868.6,672.6L871.2,673.4M828.9,644.3L830.0,645.1M878.7,686.6L880.0,687.4M827.4,643.5L828.2,645.5M824.8,656.8L826.2,658.4M862.7,641.6L864.9,643.7M862.6,643.6L865.2,645.1M864.3,649.4L865.3,650.9M823.2,631.7L825.1,632.3M817.9,629.5L820.4,631.6M825.6,633.7L828.5,635.0M817.3,626.7L819.6,628.6M914.7,623.3L916.5,623.8M86.1,456.9L87.4,457.0M64.8,450.8L65.5,451.7" stroke="#e8cc8e" stroke-width="1.0" fill="none"/>
<path d="M651.6,520.7L654.2,520.6M640.7,536.9L642.2,536.1M662.1,541.2L663.7,540.6M661.5,546.4L663.4,545.2M675.1,518.7L676.5,517.4M641.9,529.5L643.5,528.7M690.9,539.7L694.5,538.6M641.8,537.1L643.9,535.4M679.5,554.8L681.4,553.6M670.2,561.8L673.3,559.2M674.5,553.4L678.4,552.4M642.3,532.5L644.2,532.3M651.7,518.4L653.9,517.5M644.6,517.6L647.9,516.9M650.2,557.1L653.7,556.1M637.4,528.8L638.9,528.1M655.5,516.6L657.5,515.9M690.9,540.4L694.8,539.9M671.9,551.0L673.4,550.0M679.4,539.8L681.1,538.2M638.4,529.4L641.5,526.7M665.6,530.5L666.9,529.5M668.5,520.7L672.1,518.2M646.5,520.2L650.6,518.8M663.0,524.2L666.4,523.0M654.6,560.4L655.8,558.8M687.1,523.5L690.0,523.6M653.4,514.6L655.0,513.9M670.6,525.6L673.0,523.5M689.9,558.6L692.0,558.0M672.6,518.4L676.4,516.6M639.1,542.6L641.1,541.9M689.5,543.2L693.0,541.7M673.6,557.0L676.1,554.6M676.4,532.5L677.9,530.4M689.3,536.8L692.5,535.1M679.2,521.7L682.6,520.3M655.2,518.1L659.5,518.2M676.5,529.6L679.4,528.3M673.1,519.2L674.2,517.5M657.7,523.5L660.7,521.1M672.0,522.8L675.0,522.9M739.6,545.2L741.2,546.9M729.7,540.2L732.0,543.0M737.7,543.3L740.3,546.8M716.7,531.9L718.4,532.2M707.6,521.6L709.1,523.8M705.3,535.4L707.9,535.8M710.1,530.6L711.6,533.0M711.9,523.2L712.8,524.6M699.6,517.9L703.0,520.2M697.8,522.7L701.9,523.7M722.1,534.0L724.8,536.0M718.4,539.0L721.3,539.7M718.6,553.6L721.0,552.3M702.8,529.5L705.2,529.0M707.1,537.6L709.4,536.1M628.9,502.3L631.2,502.3M605.3,506.1L607.7,505.4M685.4,505.1L689.2,505.3M620.9,504.8L623.3,504.1M624.7,503.2L628.5,503.4M609.1,508.1L611.3,508.2M607.8,504.0L610.9,504.1M676.6,506.1L680.9,505.1M643.4,503.8L645.6,503.9M644.7,501.6L647.5,501.4M639.5,505.9L642.1,504.8M665.3,504.0L668.8,503.8M612.6,502.0L614.7,502.0M620.2,506.0L624.1,504.8M609.5,504.4L611.6,503.9M653.8,506.5L656.7,505.8M649.2,503.4L651.5,502.8M665.3,501.7L666.9,501.5M649.3,505.5L650.8,505.4M675.2,499.8L678.1,498.6M661.9,503.1L663.4,502.3M651.4,506.1L652.9,505.4M660.5,502.5L663.8,502.4M651.4,504.1L654.6,504.1M645.9,505.2L647.6,504.6M715.0,490.2L719.4,490.2M696.7,494.3L698.4,493.6M652.5,470.8L655.6,469.5M688.6,470.9L690.4,469.2M658.8,475.2L661.9,472.9M652.3,460.2L653.6,459.2M639.5,457.9L643.1,457.0M666.8,473.0L669.4,471.4M814.3,452.9L816.0,451.8M820.1,451.5L822.3,450.8M805.9,454.8L809.0,452.1M794.9,461.6L797.6,460.5M784.9,459.6L789.2,459.6M742.8,479.4L744.6,478.7M752.3,477.2L754.2,474.9M729.3,483.1L733.1,482.8M844.5,456.1L849.2,457.3M849.4,453.9L854.4,450.7M855.7,450.8L858.4,451.7M850.8,457.5L855.7,455.5M846.4,445.8L849.9,445.5M842.9,450.7L845.7,451.0M853.5,449.0L855.5,447.6M871.5,446.1L873.5,446.1M886.5,441.0L889.0,440.9M839.6,452.0L841.9,450.1M841.1,454.2L843.8,454.6M895.6,439.2L897.5,439.0M854.0,451.2L856.5,450.1M906.0,439.4L907.5,438.8M868.1,444.2L870.2,443.2M909.7,437.3L913.0,438.0M888.1,439.2L889.5,438.3M884.7,442.1L887.2,440.3M885.8,446.4L888.8,445.3M892.4,438.3L896.0,436.0M827.1,461.6L830.7,460.8M826.0,456.5L829.5,455.5M968.7,421.5L970.7,422.2M995.8,426.5L996.7,426.9M963.1,424.9L964.1,425.5M942.0,412.9L944.0,414.3M934.6,414.1L936.3,414.6M974.2,425.8L977.0,425.5M982.9,420.9L984.2,421.0M618.5,604.5L619.8,601.1M626.4,589.4L628.0,587.5M620.5,592.5L622.1,590.9M606.2,593.2L608.3,590.0M621.5,601.3L623.5,597.3M632.3,587.6L633.8,585.6M637.0,590.1L638.1,586.2M634.0,602.7L637.2,599.2M611.9,603.8L613.4,600.9M637.8,594.9L639.1,590.4M626.2,598.3L627.3,595.2M617.3,592.5L619.2,589.6M604.8,593.8L605.6,592.1M611.9,581.9L613.2,580.6M601.9,593.6L602.8,591.5M598.1,587.7L599.6,586.0M608.5,581.2L609.9,579.2M605.8,588.5L607.3,586.8M643.5,577.8L646.5,576.9M652.2,574.0L653.6,571.8M639.2,581.5L641.3,577.9M653.7,574.2L655.4,571.1M640.0,581.0L643.0,578.7M687.3,578.8L691.5,577.5M671.4,554.2L675.2,552.3M674.5,549.8L676.2,548.4M648.8,577.2L650.6,576.9M661.3,563.6L663.6,562.4M649.1,577.5L652.3,574.6M685.1,573.1L687.3,570.7M709.8,569.3L711.5,567.2M649.0,560.3L651.5,558.7M714.6,575.0L718.0,572.8M640.7,553.8L643.8,551.8M678.5,561.7L679.8,560.7M650.1,563.3L651.3,561.9M663.8,573.6L665.9,570.9M681.2,555.0L684.4,553.4M653.0,567.8L657.2,567.5M680.7,546.8L682.6,546.2M687.1,561.3L690.2,558.7M653.3,573.1L656.5,571.4M647.1,571.2L650.3,569.2M685.9,560.2L689.0,557.2M669.9,596.1L671.6,597.9M787.3,608.4L789.2,610.5M761.0,608.0L763.2,610.5M730.0,597.3L732.5,600.1M762.3,602.5L765.7,602.9M699.3,582.8L701.8,583.1M709.4,583.3L711.1,583.7M714.4,610.2L717.8,610.6M723.9,578.5L727.5,579.3M697.8,605.6L701.3,606.8M755.6,610.3L758.8,611.5M700.0,572.3L702.7,574.3M690.1,603.2L692.5,605.6M787.3,600.4L789.8,602.0M780.9,615.0L782.8,616.2M719.5,592.9L721.4,594.3M750.9,617.7L752.8,618.4M683.8,576.3L686.1,576.6M728.0,597.1L730.9,598.2M660.4,582.8L662.6,585.1M791.0,608.8L793.1,612.2M703.8,584.0L705.8,587.1M699.9,572.2L701.5,572.3M708.1,605.4L711.0,607.3M730.8,612.3L734.7,613.3M706.5,605.8L709.8,607.9M731.1,592.9L735.3,593.5M719.7,592.8L723.2,593.3M698.0,590.6L701.4,592.1M787.8,614.4L790.5,615.4M673.3,585.2L676.3,585.9M663.6,581.4L665.7,582.2M741.3,617.4L744.2,618.9M744.4,615.6L746.5,617.2M677.2,592.1L680.0,593.6M703.9,575.1L706.7,577.3M774.3,608.8L777.3,611.1M746.5,603.4L749.1,606.1M735.1,584.4L736.3,586.2M683.3,591.8L685.3,594.6M773.0,594.8L774.4,597.0M728.6,568.3L730.8,569.6M748.6,570.2L750.9,574.0M741.2,569.0L742.4,571.1M776.0,594.0L779.1,594.6M755.3,572.2L757.8,575.7M781.6,592.3L785.3,593.1M732.6,565.3L734.2,568.8M777.5,585.1L780.0,587.8M777.6,597.3L779.5,600.6M780.3,584.8L781.6,586.0M781.2,593.4L784.3,593.8M787.3,593.8L791.7,594.8M780.0,576.6L781.0,578.4M762.9,570.7L766.1,572.3M750.4,561.1L751.6,562.8M768.4,567.1L771.9,568.4M773.3,570.2L774.3,572.1M776.0,572.4L777.9,575.6M744.0,560.5L746.8,562.4M788.7,574.1L789.9,575.2M770.2,567.9L773.3,570.2M747.2,558.6L748.6,559.5M797.7,580.1L799.4,582.0M778.4,573.5L781.6,576.8M799.1,579.6L800.9,579.9M738.0,545.0L741.9,545.8M739.5,541.4L742.6,544.0M737.8,534.5L739.6,537.8M750.5,556.0L752.8,556.6M802.1,591.7L804.6,593.1M816.4,589.7L819.8,587.6M828.0,591.5L829.5,592.2M802.0,589.8L803.8,589.4M820.8,590.7L822.9,590.9M799.0,590.6L802.8,589.3M798.1,590.7L801.5,589.2M809.6,589.4L812.3,587.9M799.4,595.6L800.7,596.4M829.5,592.5L832.7,590.6M805.7,591.0L807.7,591.1M826.6,590.2L829.8,589.1M830.4,596.3L832.5,594.8M868.9,607.9L871.5,605.8M879.3,604.2L880.8,605.2M861.0,610.7L863.2,609.6M866.5,609.5L870.7,609.4M876.2,596.1L877.7,596.0M854.8,603.1L857.8,603.6M894.1,588.2L897.4,587.9M859.2,599.5L860.9,599.0M894.2,590.1L897.3,590.6M879.8,593.3L882.9,591.1M851.2,599.9L854.2,600.1M881.9,596.0L885.5,593.9M895.9,590.3L898.8,590.3M872.0,596.9L875.6,595.8M888.0,595.4L891.4,594.6M850.8,598.8L854.7,597.8M895.9,592.2L898.0,592.0M894.2,603.5L898.2,602.7M915.5,588.6L918.6,587.6M917.5,588.3L920.0,586.1M902.6,601.2L906.8,599.9M890.5,603.0L892.6,602.8M893.9,601.2L896.5,600.6M894.1,596.9L898.6,596.1M886.3,598.0L889.8,596.8M889.7,605.5L892.6,603.0M901.8,595.7L905.6,593.8M898.8,596.9L902.8,594.7M899.1,592.7L902.7,592.1M890.2,595.7L893.4,595.3M893.6,602.2L896.3,601.7M904.6,588.8L908.0,586.0M893.1,593.3L895.3,593.0M914.5,597.7L916.9,597.2M887.2,597.8L890.7,597.0M818.5,608.8L820.0,610.2M834.5,620.4L835.1,621.2M810.6,620.7L812.7,620.0M823.7,619.3L825.2,618.5M813.9,610.7L815.4,612.4M804.3,601.8L805.3,602.6M950.7,569.0L955.0,568.9M924.6,576.5L926.5,575.6M879.3,589.5L883.1,588.6M908.4,580.3L910.1,579.5M940.5,573.6L942.2,573.1M994.5,552.4L997.6,551.3M997.0,551.9L1000.0,552.2M765.6,650.8L769.1,652.3M794.5,651.1L796.7,653.1M808.0,641.3L810.5,644.0M753.9,638.6L755.4,640.3M779.9,651.8L784.0,654.4M778.8,659.3L781.3,662.5M793.1,633.8L796.8,635.8M783.3,641.0L788.0,642.9M786.8,654.7L789.9,657.7M729.7,621.9L732.0,624.0M797.4,657.0L802.0,659.0M747.5,634.8L750.2,638.7M748.9,633.9L753.6,635.6M773.1,640.2L776.0,642.4M786.9,626.0L790.3,629.1M782.2,639.7L784.9,640.6M795.1,633.7L798.0,634.8M741.2,619.4L743.3,620.1M756.5,646.2L759.6,647.2M798.5,663.5L800.8,665.9M761.2,627.5L764.1,628.7M767.9,626.6L769.2,628.5M766.7,627.8L767.9,629.9M737.4,632.1L738.5,633.8M740.6,625.6L743.7,627.2M772.2,653.6L774.0,656.2M721.2,609.8L724.3,613.4M753.1,641.1L755.0,642.7M783.5,637.6L785.5,638.8M753.7,627.3L757.7,629.5M800.9,655.5L804.0,657.0M808.9,652.1L812.3,655.5M767.7,629.6L771.5,631.0M781.8,672.4L781.4,676.9M775.2,669.8L778.6,672.9M778.7,680.8L779.0,683.4M780.3,681.9L782.6,685.0M783.8,674.1L784.3,676.2M767.1,677.8L770.2,680.2M788.6,667.7L792.8,669.6M792.2,677.4L792.3,679.5M773.8,674.9L777.1,677.3M785.1,675.9L787.3,677.9M766.3,660.2L768.1,661.3M795.9,690.6L797.1,692.3M763.8,663.9L766.8,665.3M795.4,689.3L797.1,690.6M763.0,662.8L764.3,664.6M766.5,658.5L768.9,659.4M801.9,692.6L806.0,693.5M831.9,704.3L835.3,706.0M810.1,698.2L811.4,700.0M827.5,714.8L831.9,715.5M809.8,704.5L811.4,705.7M831.0,712.7L833.7,715.2M838.4,720.8L841.8,722.3M829.1,720.0L830.2,721.1M856.9,718.3L859.2,720.5M865.3,721.1L867.3,722.8M850.7,714.9L855.1,716.0M846.5,711.1L850.1,712.5M874.8,725.6L876.2,727.0M901.3,736.2L903.7,739.4M898.7,741.3L901.2,742.8M909.5,747.6L913.1,750.1M918.6,753.8L919.7,755.5M911.6,749.5L913.8,752.2M919.9,757.0L922.0,759.6M896.0,738.7L897.6,741.4M920.7,757.3L924.0,756.5M1001.2,774.1L1003.5,776.6M972.7,774.3L976.3,772.7M976.8,774.1L978.4,775.1M968.0,764.7L969.6,764.5M895.0,735.6L895.7,736.4M944.7,756.9L945.8,758.4M911.3,742.7L912.1,744.2M911.0,744.9L913.6,746.0M959.6,754.2L961.9,754.3M922.8,742.1L923.8,743.5M955.0,762.3L956.4,762.7M979.7,769.1L981.0,769.3M946.1,750.0L947.3,752.6M846.6,692.9L851.3,696.3M835.1,675.7L837.9,678.7M863.1,706.5L866.5,709.7M837.5,658.5L839.8,661.6M879.9,719.1L882.4,720.7M821.8,664.9L825.3,667.9M852.7,676.4L854.7,678.0M868.0,712.2L870.8,714.0M824.3,672.2L827.2,674.7M872.9,716.4L877.1,719.8M853.2,675.1L857.7,679.0M831.6,682.0L835.1,684.1M832.1,667.4L835.6,671.3M841.6,662.3L843.9,665.0M868.5,710.3L871.7,712.5M855.1,679.4L857.0,681.0M883.7,716.6L886.9,721.0M856.0,682.6L860.5,685.3M868.2,702.9L872.4,706.9M830.2,630.8L831.2,631.8M872.2,678.9L874.1,680.7M855.9,664.3L857.7,665.6M860.9,672.0L862.5,672.7M863.9,659.0L865.1,661.6M852.8,662.0L855.0,663.3M892.0,700.3L894.7,701.4M877.5,682.6L879.3,683.8M859.0,636.9L863.0,638.2M848.0,633.5L851.3,635.7M842.6,628.4L846.4,630.3M860.9,640.6L864.0,641.4M863.9,645.2L865.8,648.6M813.1,626.2L817.0,626.5M938.0,673.7L939.1,673.2M982.1,725.9L982.6,726.8M82.5,455.3L84.3,456.3" stroke="#e8cc8e" stroke-width="1.4" fill="none"/>
<path d="M661.4,554.2L663.2,552.2M644.2,537.5L646.6,534.3M688.4,527.4L692.1,526.6M640.9,531.4L643.7,527.7M673.0,557.1L676.4,556.8M639.1,544.7L643.4,544.7M639.2,524.8L641.8,521.7M666.9,529.3L669.0,527.3M669.5,534.7L671.2,532.3M650.7,518.8L654.8,516.4M670.7,547.5L672.1,545.9M676.8,562.4L680.5,559.8M670.3,538.3L674.3,537.6M658.9,527.5L661.4,527.7M665.0,553.8L669.5,553.3M683.8,549.9L687.1,548.4M680.8,524.9L682.6,522.8M679.0,513.8L682.3,513.2M653.1,548.6L655.8,548.8M666.3,545.7L670.5,545.8M675.1,527.5L677.0,525.5M667.4,541.4L669.7,540.0M665.7,546.1L668.1,544.7M655.7,532.8L658.2,532.1M665.8,521.4L668.8,521.5M637.4,531.1L642.1,531.0M692.0,529.5L695.5,526.1M637.8,543.0L640.5,542.8M673.4,562.8L676.0,562.6M658.7,545.2L660.9,542.5M655.2,559.9L659.0,558.4M696.0,549.3L698.1,547.7M640.2,545.7L643.2,543.6M716.2,568.7L718.6,568.3M681.7,558.7L683.5,556.6M643.9,586.2L646.9,585.1M667.3,575.8L669.5,574.5M644.2,557.7L646.9,555.1M652.2,568.9L655.7,567.1M662.4,555.7L665.2,551.9M655.2,543.1L658.6,540.5M698.6,552.9L701.6,551.5M657.1,551.5L661.8,550.3M655.6,582.5L659.4,581.0M636.7,542.5L640.4,541.3M640.1,568.5L643.7,565.9M641.2,576.9L645.4,575.6M655.1,562.1L658.9,560.3M665.8,556.7L668.9,553.4M670.2,576.9L673.6,575.9M686.5,575.2L688.8,573.7M703.7,572.5L707.7,571.9M663.1,570.2L665.2,567.6M691.2,552.4L694.1,550.6M688.5,576.7L693.0,575.2M692.2,570.8L694.4,567.7M680.9,562.4L683.0,562.2M689.7,569.4L693.3,568.3M692.9,557.3L697.2,556.6M661.9,560.4L664.5,558.4M640.2,567.1L641.6,565.2M717.8,561.8L719.6,559.2M685.5,555.4L688.5,551.5M663.6,567.9L668.1,567.8M667.7,572.4L672.1,570.6M685.3,552.9L689.7,552.3M705.9,562.9L708.6,559.4M712.7,562.9L715.2,561.8M653.4,549.2L654.8,547.5M675.0,555.9L678.4,555.3M665.8,586.5L667.1,588.2M678.7,594.0L680.3,596.2M740.8,597.8L743.3,598.7M771.1,602.6L773.2,603.2M715.9,598.9L720.0,599.7M737.8,617.2L741.4,618.0M685.4,588.6L689.8,590.9M742.1,615.7L744.4,618.4M763.2,601.8L767.4,604.3M708.5,600.8L711.2,602.1M726.7,576.2L729.1,579.5M743.0,603.0L747.5,605.0M735.8,593.6L738.2,594.0M664.9,579.8L668.7,582.3M674.8,585.7L679.4,586.5M716.3,592.2L720.9,592.7M725.7,583.5L727.8,584.6M783.9,602.6L786.4,603.7M669.6,586.5L673.6,586.9M695.4,592.0L698.3,592.3M788.1,607.1L791.2,610.3M714.7,598.1L716.1,600.1M731.2,611.8L735.1,612.8M786.2,604.6L790.0,607.7M685.9,573.1L689.0,575.3M723.8,598.2L726.6,598.8M726.6,593.7L729.7,595.0M705.5,602.0L708.7,603.6M683.8,602.0L687.3,602.7M710.4,574.8L714.4,577.0M709.0,579.5L711.0,582.6M751.2,615.5L754.2,616.1M730.9,614.1L735.6,615.0M700.7,578.8L704.6,581.2M661.0,588.8L665.5,590.1M733.7,611.1L736.3,614.6M787.1,602.7L789.6,603.1M740.2,617.0L742.2,618.6M788.4,601.0L789.5,602.8M699.5,576.7L701.9,577.2M730.1,602.0L733.3,604.3M756.3,611.4L758.3,613.5M760.2,620.6L762.2,621.1M711.5,601.1L713.3,601.9M712.2,578.7L713.2,580.5M776.2,612.7L777.4,614.4M728.8,603.5L731.0,605.5M787.7,599.0L790.7,601.0M673.3,585.1L676.3,585.6M716.8,575.6L721.3,577.8M722.0,613.4L723.6,615.2M680.5,602.1L683.0,602.4M699.2,583.9L700.7,585.7M706.1,606.9L708.1,607.7M715.2,596.8L719.0,599.2M710.1,572.9L712.8,575.4M761.5,601.7L765.5,602.2M730.0,590.9L733.0,592.7M787.4,600.4L789.7,603.1M694.3,583.5L696.6,585.2M683.4,600.7L686.7,601.2M695.2,575.0L697.1,576.3M735.9,583.1L739.4,585.7M687.8,602.8L688.9,604.7M710.3,576.0L714.3,577.3M721.4,596.6L724.6,600.1M784.5,609.8L787.3,613.2M717.8,583.3L721.8,585.8M663.8,585.2L666.2,587.5M709.0,610.7L711.1,612.5M731.5,592.6L733.6,596.0M755.9,608.2L758.2,609.0M672.0,598.4L673.4,600.3M745.2,612.8L747.4,613.7M729.3,586.4L731.4,588.2M659.8,592.7L663.7,595.1M709.6,601.7L713.9,603.2M783.4,618.0L786.5,621.2M755.1,604.1L757.2,604.8M691.3,583.0L693.5,583.6M670.9,586.4L674.2,586.8M713.1,574.0L716.4,576.7M721.0,578.1L724.5,580.1M656.4,580.3L660.7,582.2M811.8,590.8L814.8,591.2M889.5,597.9L892.5,598.9M828.9,593.0L833.7,593.9M813.8,594.4L815.9,595.4M841.5,594.0L844.2,595.7M779.5,591.8L783.7,594.4M850.2,603.7L853.1,607.8M851.8,602.9L854.7,606.5M874.9,601.3L877.6,601.6M756.4,571.9L759.4,575.0M884.3,595.5L887.1,598.1M750.5,561.7L752.5,563.7M741.6,569.6L744.6,570.9M757.9,585.8L760.3,589.5M725.8,563.2L729.7,564.2M766.3,582.9L769.0,583.5M879.9,600.0L883.9,601.3M848.1,599.3L851.2,601.5M731.8,560.1L733.0,561.7M743.3,573.4L746.8,574.2M735.8,564.8L738.2,565.6M873.6,600.8L875.5,602.4M764.6,580.9L766.1,582.4M836.9,594.9L841.6,596.2M875.1,604.5L878.6,606.3M790.0,593.9L793.7,597.0M751.6,586.2L755.2,586.6M841.2,593.5L845.4,594.9M820.1,595.7L824.0,596.8M785.6,599.7L787.9,601.2M769.6,592.6L773.8,593.3M778.4,593.2L781.0,596.9M849.9,599.9L851.5,602.2M845.5,600.4L849.7,602.3M745.2,572.1L747.7,574.3M740.6,567.4L744.2,570.0M776.7,591.5L779.4,593.7M884.0,596.4L885.5,599.7M809.0,594.2L812.8,595.1M800.3,592.6L804.0,594.3M765.3,585.7L767.3,587.2M760.3,574.8L762.9,577.9M749.3,573.7L751.5,574.3M751.4,575.7L753.4,576.4M761.3,582.6L764.1,583.1M840.7,600.1L843.7,600.8M856.6,603.3L860.1,605.3M768.7,583.7L770.9,587.4M890.0,595.4L891.8,597.6M793.7,592.7L794.8,594.7M831.4,598.9L834.8,599.6M736.2,562.5L737.7,565.8M826.4,592.1L828.3,596.0M867.6,601.9L869.8,605.8M803.1,586.6L806.0,587.7M730.3,562.6L733.9,564.1M836.4,598.1L840.8,600.3M886.1,596.0L888.1,596.3M769.1,627.4L770.8,630.1M813.5,645.3L815.3,647.0M744.6,617.7L746.8,618.7M760.4,622.7L762.2,624.8M757.2,628.4L758.9,630.5M790.1,650.8L792.0,652.4M741.7,632.6L743.7,633.6M800.3,646.0L804.5,647.8M768.1,631.0L770.9,632.5M809.7,638.7L813.2,642.2M800.1,660.9L802.3,662.4M793.1,657.8L795.6,659.9M723.6,621.0L725.7,624.5M733.3,626.6L735.8,629.2M805.4,659.0L807.0,661.9M772.6,644.5L774.1,646.5M767.4,638.4L771.5,639.7M753.4,621.1L757.0,623.3M772.5,644.1L774.2,645.7M792.4,642.2L794.4,643.9M786.5,651.4L790.1,653.1M751.2,644.0L753.2,645.2M761.7,622.0L763.3,624.5M776.6,659.7L778.6,660.5M760.1,630.2L763.0,633.3M793.9,636.8L796.6,638.3M799.4,648.3L801.7,649.3M744.8,632.3L748.6,634.0M779.2,642.9L781.6,646.6M729.9,627.6L733.1,631.1M807.8,654.1L810.5,656.1M728.9,611.9L732.6,614.5M763.1,640.2L766.4,643.9M796.1,656.6L800.5,658.6M797.8,662.4L801.3,664.4M784.8,648.3L788.9,649.8M730.0,625.0L732.2,627.6M763.6,632.9L767.6,634.8M782.1,648.7L786.1,651.3M796.8,635.2L798.9,637.4M772.3,653.2L774.0,654.5M791.4,645.7L794.8,648.1M792.0,650.8L796.0,653.2M764.1,628.2L768.4,630.0M778.7,659.5L781.2,660.4M806.5,636.4L808.8,639.8M803.8,657.9L806.3,659.1M782.5,635.5L785.3,639.4M774.6,633.3L778.9,635.5M732.9,621.6L735.6,623.2M913.4,597.3L915.8,596.1M916.0,591.7L918.0,590.1M906.5,598.6L908.8,597.7M901.5,595.2L905.5,593.8M897.4,596.6L900.4,595.5M894.5,604.0L899.2,603.4M915.2,592.5L918.3,591.7M903.0,593.5L907.0,591.0M907.2,598.2L911.2,597.5M897.2,595.8L901.4,593.3M895.6,590.7L897.6,589.8M904.9,589.0L909.5,588.4M900.8,589.6L904.4,587.4M893.0,602.5L895.5,600.3M908.8,588.8L912.6,586.5M908.6,588.1L911.4,586.2M889.5,595.1L893.9,593.5M918.9,587.2L921.9,585.5M906.2,589.3L909.4,588.8M910.6,599.6L912.3,598.4M895.3,593.5L899.2,590.4M886.9,599.9L891.2,599.2M919.5,586.7L921.7,585.7M905.2,601.2L907.0,600.2M910.6,595.8L912.6,594.0M917.4,593.7L920.7,592.1M910.8,596.2L914.6,595.3M912.1,590.7L915.5,589.8M875.9,699.5L878.1,702.0M814.2,653.3L817.7,655.5M831.9,684.5L834.6,687.0M839.7,664.6L843.3,669.0M846.9,697.4L850.3,699.7M849.2,685.0L852.7,687.6M864.8,691.4L867.3,694.2M842.7,677.9L845.9,681.1M856.4,701.2L860.8,704.1M876.0,716.4L879.2,719.8M827.9,655.9L831.0,659.2M857.1,678.1L859.4,680.2M838.4,667.4L843.2,670.7M860.8,688.0L863.3,689.8M812.1,658.4L815.5,661.9M882.9,710.6L887.2,713.6M832.9,684.7L836.2,686.9M834.0,680.8L837.0,684.4M828.9,661.1L831.7,663.9M827.8,663.5L830.4,666.7M853.7,683.2L856.4,686.0M870.0,710.4L872.1,712.9M876.4,696.9L880.7,700.7M857.7,696.2L861.4,698.4M872.4,705.4L876.0,708.2M835.8,677.7L839.7,680.7M843.2,680.1L846.7,683.4M832.5,660.1L837.1,663.1M817.3,655.6L821.8,658.5M683.4,503.4L687.9,502.0M609.0,504.3L612.9,504.5M640.1,506.4L643.5,505.3M631.5,508.7L633.9,508.9M598.8,513.2L602.4,513.3M591.6,505.7L595.7,505.7M677.4,503.6L682.2,503.3M672.8,506.7L676.1,505.6M644.3,509.4L648.9,508.5M645.0,503.2L648.8,503.7M596.8,505.6L601.0,505.5M637.5,503.4L639.8,503.6M658.9,507.0L662.1,507.3M630.6,502.9L632.8,502.0M618.6,502.0L620.7,501.2M623.8,505.3L627.9,505.8M627.7,503.7L631.9,503.1M591.4,506.5L595.3,506.5M596.6,503.7L599.2,503.6M612.7,504.4L617.6,504.6M687.8,501.9L691.4,502.2M911.9,437.1L913.9,437.2M876.7,447.2L879.0,446.9M860.0,446.4L863.6,444.6M861.6,443.5L865.7,443.9M841.9,455.3L844.5,453.3M899.2,437.4L901.7,436.3M857.3,446.1L859.6,444.8M869.1,447.9L872.0,446.4M856.3,452.2L860.4,452.6M834.3,449.9L835.8,448.9M873.0,442.1L876.6,442.2M866.6,450.0L870.3,449.2M841.2,451.1L843.1,450.5M890.9,441.4L892.5,441.2M881.5,448.0L882.9,447.4M881.9,438.3L885.9,438.3M840.8,457.5L842.5,456.3M874.7,442.5L876.4,441.1M882.2,441.4L886.2,441.5M873.7,447.0L877.9,447.7M905.8,440.2L907.9,440.0M841.7,452.1L846.2,452.5M630.8,595.0L634.1,591.5M628.9,595.9L632.4,592.4M614.5,597.9L616.1,596.6M628.4,593.7L629.9,589.6M636.6,597.8L640.1,594.8M624.3,592.4L626.8,589.7M630.0,595.6L630.8,592.7M623.1,607.0L624.1,604.1M612.5,587.1L614.1,583.3M616.8,582.8L618.7,580.8M631.1,594.9L632.0,592.0M616.3,599.8L617.4,596.0M844.1,702.4L846.8,704.9M792.2,680.0L794.2,682.6M951.8,761.7L953.3,764.9M867.5,718.0L869.5,721.1M828.0,704.6L829.5,706.6M799.9,692.8L802.6,695.2M764.3,658.4L766.0,660.0M921.0,754.6L923.1,755.2M882.2,727.1L884.6,728.5M1009.6,774.0L1011.1,775.9M859.1,719.9L861.3,721.1M786.1,674.7L788.3,675.8M819.3,699.2L821.1,701.0M765.2,664.8L767.8,665.4M800.7,687.0L803.2,687.0M950.5,764.9L952.4,766.3M936.5,760.3L938.5,761.2M894.8,738.5L896.6,740.0M903.6,743.5L906.5,744.1M905.1,744.2L908.0,746.6M781.0,681.6L783.9,683.8M798.3,681.7L801.3,683.3M790.2,686.3L792.9,688.3M904.7,747.4L907.6,748.4M981.3,768.0L984.9,768.9M997.9,775.8L1000.2,777.4M762.5,654.0L765.5,654.1M846.1,707.4L848.3,707.9M817.3,700.5L819.9,701.6M867.5,716.1L870.4,716.8M763.0,665.0L765.0,665.5M939.4,757.3L941.5,760.4M882.2,724.5L885.7,726.2M776.6,683.1L778.4,685.5M845.7,710.8L849.4,711.6M814.1,693.0L816.5,692.8M944.3,762.6L946.7,765.4M826.2,699.2L828.6,701.8" stroke="#e8cc8e" stroke-width="2.2" fill="none"/>
<path d="M730.7,446.6L736.0,446.8M719.0,443.1L722.1,442.3M669.4,448.5L673.2,447.5M713.7,440.6L719.4,438.9M655.9,448.6L661.8,448.7M705.2,440.6L709.5,440.4M793.9,426.1L797.2,425.9M789.5,426.4L792.5,425.6M788.9,429.3L793.5,429.2M961.2,422.2L963.5,422.7M956.3,440.6L958.9,442.3M1014.3,246.8L1015.3,244.7M1012.9,237.6L1012.7,236.1M1002.3,271.8L1004.9,271.4M979.2,279.9L980.5,280.2M967.4,280.1L968.8,280.5M1011.6,298.6L1013.7,298.5M1012.8,313.6L1014.3,311.6M1012.4,303.5L1014.4,302.7M848.8,592.5L851.6,592.3M803.8,585.6L808.6,585.0M851.7,591.9L855.2,592.1M858.8,593.0L862.3,593.2M886.3,588.0L888.3,588.0M863.5,593.1L867.8,592.6" stroke="#a6ccaf" stroke-width="1.0" fill="none"/>
<path d="M723.9,448.5L728.8,448.2M719.9,443.5L724.3,442.3M662.6,451.0L665.8,450.4M699.5,445.7L704.0,445.4M703.0,445.5L707.8,445.8M969.7,422.0L971.7,422.0M959.0,418.8L961.3,418.7M955.9,440.3L958.6,441.9M1017.3,241.5L1019.2,239.9M1003.6,274.5L1007.3,272.5M957.3,293.9L959.0,294.6M814.9,587.6L817.5,587.7M875.0,589.5L878.0,589.9M848.0,591.5L852.6,591.5" stroke="#a6ccaf" stroke-width="1.4" fill="none"/>
<path d="M665.0,546.3L668.9,544.1M670.1,547.2L672.4,545.7M678.7,531.2L680.9,530.1M695.2,534.7L697.6,533.7M684.0,548.7L685.9,548.2M647.8,542.5L651.4,540.3M689.0,529.0L692.5,527.2M661.7,521.0L663.7,518.7M689.9,550.5L693.5,548.5M657.9,521.3L661.4,521.2M687.1,541.8L688.9,541.0M688.3,516.4L690.8,513.1M690.5,529.8L691.9,528.3M645.2,520.6L647.4,518.9M664.9,519.2L665.9,517.9M637.4,535.5L640.7,535.4M663.8,553.3L668.0,552.8M656.9,546.2L660.7,544.7M679.6,558.0L681.4,557.4M665.3,538.7L666.8,538.6M679.4,552.1L682.2,551.4M671.1,532.2L673.8,531.0M666.3,535.7L667.7,534.7M670.8,543.1L672.3,541.9M668.1,557.0L671.5,555.8M687.8,524.1L690.2,522.2M679.3,551.1L682.8,551.4M656.5,545.1L658.9,543.8M679.1,559.1L681.5,558.1M679.2,535.4L681.0,533.7M666.0,519.7L667.5,519.4M670.8,536.0L672.8,535.0M675.8,524.0L676.9,522.3M674.5,528.4L677.3,525.2M668.6,520.5L669.6,519.4M677.5,530.6L680.2,528.3M681.4,530.3L684.0,529.6M678.4,524.5L681.4,524.7M679.9,532.4L682.0,529.7M659.3,524.9L661.0,524.0M723.6,535.8L725.3,537.7M714.6,535.4L717.0,536.9M733.3,539.9L735.9,542.7M700.6,522.4L701.7,523.9M709.6,522.8L711.4,523.4M704.3,531.1L707.6,533.8M702.6,526.2L704.2,527.3M733.2,544.5L736.0,546.7M704.7,522.3L706.8,524.0M739.1,545.0L742.7,547.5M724.8,541.5L727.0,542.7M730.8,544.6L731.8,545.8M719.7,536.4L721.6,537.1M720.9,534.4L722.5,536.1M733.4,541.3L736.4,543.8M712.2,530.6L713.1,531.8M738.2,538.0L740.2,538.7M726.7,535.9L730.2,537.9M714.2,536.8L716.6,537.6M694.1,515.2L697.6,516.9M706.3,525.6L708.5,529.0M731.0,537.7L735.0,539.4M710.5,550.1L713.0,550.0M674.3,509.5L676.3,508.6M632.1,501.2L636.0,499.8M670.0,509.6L672.6,508.6M681.4,509.8L685.0,508.4M633.4,503.8L635.5,503.5M591.4,509.0L593.0,508.4M609.2,501.7L613.5,501.8M607.7,505.5L609.2,505.1M592.9,502.8L594.8,502.1M643.9,500.6L647.7,499.6M646.9,503.5L649.9,503.5M676.0,506.3L678.6,506.4M624.4,503.8L627.6,502.9M636.3,506.8L639.1,507.0M662.0,504.7L665.3,504.2M622.2,498.0L624.7,497.4M682.9,503.8L686.7,503.6M668.2,501.5L672.3,500.5M683.2,502.8L686.4,501.1M644.2,507.5L647.4,506.3M654.6,504.5L657.1,503.8M662.0,503.2L665.2,501.8M647.2,508.2L651.0,507.7M667.6,498.4L671.2,498.3M665.6,503.5L668.5,502.2M644.6,507.8L648.8,507.5M668.1,501.9L671.6,501.9M664.7,502.4L667.2,502.4M709.6,490.3L712.0,488.8M703.1,494.4L706.7,493.3M692.5,469.3L695.7,469.8M693.9,473.0L696.5,472.0M674.8,472.1L678.2,469.5M687.0,473.0L690.3,472.9M823.4,451.9L826.6,449.3M826.9,448.2L829.3,447.0M804.1,456.2L807.8,454.1M815.4,453.9L817.7,452.6M825.7,449.7L828.6,448.2M833.5,447.0L834.9,445.9M810.4,455.0L814.2,453.8M809.8,451.2L812.1,449.0M804.7,457.1L809.0,456.2M801.6,456.5L803.2,456.0M832.0,443.3L835.2,440.3M791.4,463.6L795.7,463.3M795.7,459.7L797.4,459.3M724.2,482.3L727.8,479.7M756.9,473.9L759.3,473.5M735.9,481.5L739.0,480.4M755.1,467.6L757.3,467.9M758.3,476.1L761.8,475.7M845.6,450.2L849.2,448.7M843.2,457.9L847.4,455.8M841.8,447.5L845.2,443.8M859.1,453.5L862.6,449.7M830.8,454.5L833.3,453.0M834.9,450.5L837.5,449.9M886.7,446.5L889.2,445.6M846.7,449.3L850.8,449.5M852.1,449.7L855.7,447.2M836.5,447.2L838.5,446.6M880.9,447.3L884.5,446.6M849.6,451.3L852.6,451.3M852.2,451.6L855.2,449.1M856.7,448.0L859.4,445.8M840.6,453.2L842.4,452.6M832.7,458.8L835.6,458.1M841.5,451.0L843.2,451.2M873.1,446.8L876.6,444.1M820.3,458.6L824.3,457.1M836.8,381.7L838.5,381.2M839.8,384.8L841.9,385.3M851.0,393.2L852.7,392.7M827.4,396.1L829.2,395.2M824.9,393.8L828.2,391.6M834.6,395.9L837.3,395.5M846.0,394.8L849.7,395.7M827.5,396.1L831.6,395.3M844.6,396.5L847.5,397.8M951.7,410.3L953.0,411.5M950.4,415.8L951.8,415.6M938.2,412.9L939.3,413.8M979.2,421.3L980.2,421.5M981.9,419.8L984.2,419.5M940.0,411.6L942.5,411.9M967.6,419.5L968.5,420.0M612.7,601.7L614.0,600.2M604.8,597.7L606.2,596.1M634.7,590.1L636.1,585.9M629.2,594.6L631.1,591.8M602.4,594.7L604.4,592.4M620.0,605.5L623.1,602.8M629.2,584.5L629.9,581.9M634.8,602.1L636.7,597.8M632.8,602.0L635.3,598.4M618.3,591.2L621.0,588.8M629.7,602.7L633.4,599.5M620.2,600.8L622.1,598.1M607.7,604.2L608.8,602.3M613.7,588.3L616.9,584.7M609.0,602.7L610.2,599.1M635.2,587.7L636.6,585.6M611.2,593.9L612.3,590.7M611.5,597.5L613.7,595.3M608.9,595.5L611.8,592.5M648.6,580.1L650.5,576.2M645.3,578.7L647.5,577.6M680.2,579.7L682.9,576.2M669.7,543.5L671.0,542.5M674.2,577.1L676.6,573.9M718.2,576.0L720.4,575.1M676.7,564.5L680.5,563.9M642.1,568.1L644.8,565.7M715.4,570.6L717.5,569.2M665.0,550.9L666.8,550.5M697.2,570.5L699.7,568.4M703.6,565.2L705.4,565.0M699.4,573.7L701.9,572.4M657.3,557.3L660.1,555.5M662.4,561.7L665.1,560.0M680.6,576.9L683.4,576.6M666.3,555.8L668.3,553.5M680.1,575.4L683.6,574.5M718.4,561.0L722.2,559.3M646.8,567.8L648.6,565.9M705.4,563.5L707.8,562.0M677.8,544.3L679.4,543.9M681.4,567.5L683.3,566.5M700.5,552.3L702.5,552.1M677.0,563.8L679.2,560.9M683.1,558.4L686.5,556.3M664.6,555.1L666.3,553.7M701.1,557.1L704.2,555.6M656.3,547.3L658.1,545.7M662.7,549.7L665.1,548.6M710.5,567.6L713.2,564.7M647.2,555.9L649.6,552.4M703.9,557.4L705.6,556.2M677.5,547.8L679.7,545.2M716.1,582.6L719.1,583.4M706.4,587.1L707.5,588.4M670.1,595.3L672.6,597.3M659.4,585.5L661.2,585.7M709.0,607.2L710.6,608.1M728.6,613.7L731.3,615.1M739.3,612.5L741.7,614.0M698.9,602.8L701.5,603.9M699.7,603.3L701.6,606.0M669.7,588.3L672.8,590.3M746.4,607.9L749.5,610.2M772.7,615.0L776.7,615.9M730.9,609.8L733.5,612.9M749.9,605.5L751.7,606.3M748.0,598.8L749.2,600.8M720.9,585.0L722.8,587.1M739.3,587.6L742.3,588.3M772.7,609.1L775.6,610.8M696.4,599.5L698.9,603.1M781.2,608.1L783.1,610.6M707.4,604.0L708.9,605.7M745.9,611.8L747.9,613.1M735.5,613.4L737.7,614.1M712.7,588.5L715.0,592.2M730.3,601.6L732.4,603.7M668.6,581.0L671.0,584.4M721.0,609.3L723.4,610.8M733.1,612.4L734.8,613.6M777.7,610.4L779.2,612.2M725.8,602.9L729.0,603.4M761.3,621.5L763.1,622.7M773.5,609.1L775.2,609.7M793.5,607.3L796.0,609.0M694.1,602.6L696.8,604.0M696.2,604.8L700.0,606.8M776.2,609.9L777.6,610.9M671.5,599.9L674.1,601.6M782.8,605.8L784.2,606.9M664.1,583.4L666.3,585.9M752.9,612.0L756.8,612.9M700.8,577.3L703.2,578.5M779.4,599.9L781.5,601.7M686.7,575.9L689.4,579.1M780.9,612.4L782.7,615.0M706.9,603.0L710.3,604.0M790.9,600.9L793.2,604.1M777.2,604.8L779.1,605.1M766.2,600.4L769.3,601.9M769.3,600.4L772.3,601.5M783.0,597.0L787.1,598.1M747.4,570.2L748.7,571.1M768.1,594.6L770.2,595.3M723.4,566.7L727.5,567.9M747.7,576.0L748.9,577.3M733.2,567.6L734.8,570.0M732.7,568.9L736.7,569.9M767.6,585.1L771.0,587.2M774.1,589.5L776.8,592.5M757.3,583.4L758.5,585.5M782.4,599.6L785.6,601.2M737.1,563.6L739.0,565.0M746.2,570.1L748.1,572.9M727.8,562.1L730.1,565.5M765.9,592.4L770.0,593.9M742.4,576.7L745.1,579.3M766.2,584.3L767.9,587.5M752.9,581.9L754.2,583.1M744.6,570.0L748.5,572.1M754.6,577.5L755.8,579.1M780.5,594.3L781.9,596.9M746.3,571.8L747.9,572.5M765.7,573.3L769.1,574.6M765.0,564.3L767.3,566.2M797.9,581.5L800.0,584.1M768.4,567.1L772.4,568.2M776.8,584.0L778.7,587.2M738.6,531.6L740.5,535.6M757.2,558.3L758.9,561.4M735.3,535.5L736.2,537.1M743.9,544.6L746.5,547.6M753.0,554.9L756.2,555.6M813.1,588.2L815.7,589.5M796.9,594.8L799.3,593.7M805.8,589.4L809.4,590.2M814.4,590.3L816.1,590.5M794.9,590.9L796.3,590.2M828.9,592.4L830.6,593.0M810.5,590.5L814.6,592.1M818.3,589.3L822.7,589.7M791.5,590.4L793.1,589.6M828.7,588.6L832.7,589.4M826.8,595.2L830.3,595.4M813.6,588.1L816.5,588.3M849.3,608.0L852.0,607.8M840.2,601.7L843.0,600.1M870.7,606.8L872.3,607.3M853.8,610.8L855.2,611.8M869.1,608.0L872.2,609.1M877.2,606.1L881.2,606.6M857.4,607.2L858.8,606.5M892.0,595.9L893.5,595.1M891.4,596.6L894.6,593.7M871.0,610.0L874.9,610.2M878.5,605.9L881.6,604.9M875.2,606.8L877.3,607.3M879.0,596.8L880.9,595.1M864.9,601.4L866.6,600.9M847.9,600.9L851.1,601.6M894.0,586.9L897.6,586.5M860.7,604.6L862.8,604.9M879.2,596.5L881.3,595.6M859.1,603.5L862.0,601.8M884.8,592.2L888.4,593.1M843.0,602.1L846.1,600.5M881.1,598.9L884.8,596.5M904.1,586.6L906.4,586.3M877.4,599.0L879.2,597.6M891.2,595.8L894.3,593.4M865.1,601.2L869.5,601.8M847.4,597.9L851.6,597.2M894.2,589.7L897.6,589.2M901.6,600.4L903.6,599.0M911.9,595.7L916.7,594.6M885.9,601.8L890.7,601.0M823.1,609.6L825.4,607.7M903.9,579.1L906.0,578.9M952.1,567.9L955.2,567.6M935.3,574.1L938.2,572.0M910.7,579.0L913.6,576.8M955.2,571.2L957.1,570.7M910.9,577.3L914.1,577.0M948.8,571.3L950.8,569.8M978.2,571.4L982.0,571.8M974.2,570.7L977.8,570.7M985.8,571.1L989.6,571.2M782.6,656.7L785.6,658.4M808.3,644.3L811.0,646.0M785.6,637.5L788.8,640.4M725.4,622.7L727.9,626.0M753.8,644.4L756.3,647.1M738.5,627.5L740.9,630.8M740.1,629.8L742.1,632.9M779.0,625.2L781.2,627.1M759.0,627.5L761.7,629.4M774.7,659.1L778.9,660.6M788.0,654.1L791.5,656.4M798.7,663.5L801.7,666.9M750.7,642.3L752.8,644.2M784.1,645.5L785.6,647.3M799.7,629.9L802.6,631.7M741.8,629.2L744.8,632.1M770.3,647.0L771.9,649.1M764.7,642.8L768.8,644.1M747.3,640.5L749.3,641.7M770.9,651.4L772.1,652.8M733.5,630.6L736.5,631.5M752.2,639.1L753.8,642.2M755.0,641.8L757.0,643.2M787.0,669.3L789.4,671.8M781.1,667.6L783.1,671.2M779.4,682.6L780.1,684.9M779.0,666.1L781.3,668.9M782.2,683.2L784.8,687.0M786.4,680.9L790.1,682.6M770.0,657.1L773.5,659.7M798.5,681.2L801.3,684.7M770.7,668.0L772.6,671.7M777.7,668.6L779.6,671.9M798.8,683.6L801.1,686.2M799.2,687.4L801.0,688.2M786.7,681.4L790.0,683.3M797.1,687.5L797.8,688.8M828.9,704.2L829.9,705.9M802.5,690.4L806.3,692.9M834.3,709.4L836.4,709.7M832.3,716.8L833.5,718.5M810.2,707.1L811.7,707.4M849.5,709.0L851.7,711.8M851.1,715.8L853.8,715.4M863.5,718.8L865.3,719.8M865.0,722.1L867.6,723.5M903.2,744.5L904.8,747.4M893.9,743.0L897.4,744.6M944.4,762.4L946.7,764.6M946.6,764.7L948.4,765.7M953.7,769.3L955.6,769.4M950.1,770.2L953.0,771.0M947.8,763.3L952.2,764.1M951.4,767.3L953.9,769.4M986.4,777.4L989.7,777.4M997.6,773.5L1000.7,774.5M997.8,774.5L1002.1,775.6M970.9,770.6L975.2,772.0M1003.4,773.0L1004.2,774.2M923.8,745.2L925.9,745.2M982.7,764.8L983.6,766.2M899.5,737.2L901.3,738.3M907.3,745.2L909.9,746.6M1006.8,764.8L1008.6,765.0M1003.5,769.4L1006.0,770.3M990.5,768.3L992.0,768.9M871.6,706.0L874.8,709.9M830.5,669.6L833.8,673.1M846.4,680.6L849.1,682.8M834.6,670.1L838.0,672.5M827.2,666.5L829.7,667.9M847.6,679.0L851.8,682.2M847.9,636.8L849.0,638.8M866.9,647.7L869.5,650.1M816.1,624.2L818.0,626.3M813.7,623.6L817.8,624.3M816.8,627.0L818.2,627.9M98.6,462.3L100.4,463.9M70.9,454.5L72.7,455.6M89.3,457.5L91.6,458.0" stroke="#d5aa72" stroke-width="1.0" fill="none"/>
<path d="M692.6,551.5L697.0,551.1M659.4,545.7L660.4,544.3M670.7,545.4L673.1,543.5M676.4,552.9L679.2,551.4M694.2,548.8L696.1,548.6M636.8,532.7L638.1,531.8M683.5,557.5L685.5,557.6M655.2,559.8L658.0,557.9M665.4,512.2L668.2,510.3M694.0,548.7L696.6,548.8M643.8,522.5L645.9,520.7M664.1,554.3L666.4,554.1M649.2,541.5L652.1,541.5M691.0,538.8L695.4,538.6M652.4,540.7L654.2,539.9M645.8,533.0L649.2,532.0M642.1,528.4L644.5,528.5M675.5,519.7L679.4,519.9M667.6,542.3L669.6,541.5M653.8,517.4L656.6,516.0M640.6,528.7L644.5,528.8M664.9,514.7L667.4,512.8M649.2,557.3L652.4,554.6M673.3,531.5L674.8,529.9M660.4,518.9L662.0,518.3M681.4,532.9L683.4,532.6M663.9,528.9L665.7,528.1M677.8,520.2L680.5,517.6M667.2,521.8L669.8,520.7M672.0,523.7L674.1,521.0M679.0,518.9L681.9,517.7M663.3,518.3L665.3,517.7M706.0,519.8L708.5,523.0M740.1,544.5L742.6,547.6M728.4,542.0L731.4,545.2M726.1,539.9L729.3,541.1M714.8,532.1L716.8,533.9M729.8,541.1L730.6,542.5M714.3,534.5L716.3,537.3M707.5,530.5L710.6,532.5M731.9,539.2L734.9,540.3M713.4,532.0L715.5,532.5M716.3,530.0L720.0,532.3M703.4,521.9L705.0,523.0M714.9,534.9L715.9,536.2M713.0,530.1L715.0,532.4M704.9,527.9L707.2,530.8M700.9,538.2L703.0,538.1M655.4,505.1L659.5,504.1M591.1,508.8L595.1,507.6M618.2,501.9L622.6,501.1M607.7,502.6L611.5,502.8M627.3,500.3L630.2,500.0M672.2,506.3L676.2,505.2M644.4,504.1L646.0,503.5M593.3,506.8L596.9,505.8M590.5,506.9L593.4,507.3M606.0,505.0L609.1,505.1M684.3,504.6L688.6,504.6M673.9,505.0L676.5,504.3M597.9,507.9L601.3,507.8M657.5,506.5L660.2,506.0M601.2,507.1L604.5,507.3M642.6,499.9L647.1,499.5M599.5,510.9L602.4,509.7M621.5,505.4L623.4,504.6M661.6,503.3L664.8,502.6M671.4,505.5L675.0,503.8M657.5,504.6L659.8,504.4M670.2,501.1L673.6,499.8M656.5,504.7L660.5,502.8M653.1,505.6L657.0,504.1M678.4,501.9L682.1,501.5M652.7,503.9L655.4,503.4M656.6,502.9L658.5,502.3M666.8,469.3L668.5,468.7M654.7,468.8L656.3,467.1M646.4,459.7L647.8,458.8M690.3,473.1L693.3,470.7M825.6,454.0L828.4,453.6M813.3,454.4L815.6,452.4M819.6,452.3L821.1,451.7M833.0,449.8L835.4,449.0M795.7,462.6L798.2,462.2M776.7,473.1L779.3,470.2M730.1,481.9L732.7,479.5M713.2,478.6L716.5,476.1M780.0,471.9L781.8,471.2M837.8,451.3L842.2,451.1M853.7,448.4L856.1,447.5M833.1,451.5L835.8,451.1M831.9,454.9L835.8,450.9M839.1,455.2L844.6,454.3M835.6,452.6L840.8,450.9M849.8,457.2L853.3,453.8M853.4,446.5L855.1,444.8M847.3,455.5L850.8,455.4M848.3,447.5L854.0,447.4M836.7,453.3L841.3,452.0M840.9,455.3L845.2,456.1M854.5,452.7L859.0,448.7M843.6,455.3L847.1,454.5M857.1,450.0L860.3,449.1M860.7,448.4L864.9,448.0M830.5,453.8L832.8,454.1M857.6,445.1L860.7,445.3M895.8,440.2L897.8,439.8M862.9,453.6L866.9,453.0M908.2,435.7L911.0,435.9M886.0,443.8L889.4,441.2M831.1,454.4L833.1,453.5M814.9,455.6L816.4,454.7M825.6,457.5L827.2,456.7M821.9,385.9L824.3,385.2M838.9,397.6L842.1,398.9M833.5,397.3L835.2,397.8M840.9,395.8L843.9,396.8M624.8,589.0L625.7,587.1M612.7,599.7L615.8,596.5M629.0,598.7L630.9,594.9M615.6,596.4L617.8,592.5M620.5,594.9L622.8,592.5M617.9,584.1L619.7,582.0M627.4,585.5L629.8,581.1M620.7,606.3L621.7,602.8M621.8,596.5L622.8,594.1M636.6,591.5L638.5,587.8M623.9,607.1L625.1,604.9M604.0,593.1L605.3,590.4M631.5,593.9L634.0,590.3M603.9,589.8L604.5,587.3M611.3,606.5L613.9,602.8M614.4,605.8L617.6,602.8M614.1,598.4L615.9,596.8M628.0,588.0L631.1,585.3M604.8,590.1L606.5,587.8M622.9,594.8L624.9,591.1M608.6,594.0L610.4,591.7M615.4,591.1L617.8,589.2M616.7,583.1L617.1,581.4M645.2,576.7L646.5,575.0M716.2,564.5L718.1,563.5M702.5,557.0L705.1,556.8M658.3,564.0L662.0,561.6M661.4,547.9L663.1,547.2M699.8,555.9L701.3,554.4M694.6,553.4L696.7,552.8M642.9,565.1L646.9,563.6M658.4,576.6L661.0,574.4M667.4,565.9L670.4,565.0M712.9,569.3L714.3,568.7M682.4,562.8L686.0,561.0M699.7,562.3L701.2,560.3M707.2,560.5L708.8,559.9M665.3,568.4L666.8,567.9M667.5,566.8L669.8,565.7M646.6,564.0L648.9,563.7M713.8,568.5L716.3,567.9M705.6,571.8L708.3,571.4M666.8,545.7L669.0,542.5M680.7,557.3L683.9,555.2M679.1,563.3L681.7,560.2M657.7,548.1L661.1,547.4M660.8,582.9L664.4,584.2M729.7,606.7L731.5,609.3M768.4,619.5L772.3,621.1M768.8,600.6L772.0,603.6M726.7,584.5L728.1,585.6M727.2,603.1L729.4,605.9M740.6,608.6L744.4,609.0M722.3,601.9L726.2,603.1M742.6,602.0L743.8,604.0M686.7,578.7L688.4,579.6M776.5,611.8L779.6,614.4M731.9,605.3L734.1,608.6M723.2,598.3L724.7,599.7M724.8,597.2L726.5,598.5M669.3,595.7L670.9,598.5M726.3,586.6L727.2,587.9M697.9,576.5L701.1,577.5M756.3,606.0L758.2,608.3M747.3,609.8L748.5,611.3M747.6,602.7L749.5,604.2M696.9,592.5L699.1,593.0M698.3,576.4L701.0,577.4M706.3,574.8L710.1,575.8M720.5,598.1L724.6,598.5M723.0,610.2L724.5,610.8M719.8,594.6L723.4,595.2M686.2,596.1L687.8,596.8M702.6,597.1L706.0,599.3M716.8,604.1L718.1,605.2M779.2,602.0L783.1,602.7M786.6,602.3L788.4,603.2M791.4,609.8L794.5,610.5M760.1,590.6L761.5,591.6M770.5,595.1L773.5,595.5M768.1,599.5L769.1,601.3M778.2,596.3L781.2,598.4M742.6,566.6L745.0,568.0M739.3,562.7L743.1,563.2M747.8,577.0L751.2,579.7M780.6,581.2L782.2,582.3M778.5,591.8L779.9,592.9M738.8,571.1L742.2,571.9M763.2,578.5L765.2,582.0M782.7,585.8L784.1,587.5M781.5,596.8L783.0,597.2M740.9,568.0L744.4,569.6M785.2,601.1L789.6,602.2M743.7,576.1L745.8,576.5M730.1,564.0L732.5,565.1M757.6,577.8L760.8,578.8M756.3,571.4L758.4,574.0M729.9,564.0L733.0,566.6M781.5,590.5L783.2,592.0M778.0,600.0L780.0,601.2M746.8,573.5L749.7,576.2M752.2,573.7L754.0,574.4M797.8,582.0L801.7,582.5M775.7,577.4L777.4,577.5M771.0,569.7L772.2,570.9M773.6,569.1L777.6,569.9M778.9,573.3L781.3,575.9M734.8,535.9L738.5,536.6M746.1,548.6L748.6,550.9M757.9,557.4L758.9,558.7M742.6,549.8L745.1,550.4M735.3,533.6L737.6,535.7M737.3,542.5L738.9,542.8M742.2,543.9L744.0,544.3M790.4,593.4L793.8,591.6M820.7,591.8L822.2,590.6M806.7,591.8L810.7,590.9M794.8,589.0L799.2,588.3M826.2,590.1L829.2,588.3M803.7,594.7L806.9,593.3M832.9,593.7L834.5,594.3M805.8,588.7L807.2,587.9M831.9,590.0L834.6,588.3M807.8,593.3L810.5,594.2M813.5,589.5L815.3,588.8M791.7,594.4L793.6,593.2M877.1,607.7L878.6,607.2M854.6,608.9L858.1,610.9M873.9,603.8L876.6,601.7M890.4,604.5L891.8,603.3M838.5,604.6L840.4,603.4M852.3,608.4L854.1,609.1M854.8,609.4L856.9,610.2M890.7,595.5L893.0,596.6M892.2,599.4L893.8,600.1M882.6,602.2L886.6,602.0M876.1,605.3L879.3,603.5M860.3,610.9L862.4,609.1M844.1,600.9L846.9,599.5M875.0,599.3L877.3,597.9M895.4,587.0L898.6,587.0M897.6,587.6L900.8,584.7M903.8,587.1L906.3,586.9M877.3,596.4L879.0,595.9M874.4,601.0L877.1,601.4M871.3,598.3L873.7,598.3M844.4,602.9L847.4,601.1M884.2,598.4L885.5,597.5M891.2,595.5L892.8,594.2M846.6,599.2L850.5,600.0M888.9,593.4L890.5,592.8M914.7,588.1L917.3,586.0M915.7,594.0L918.1,593.6M908.8,596.3L911.4,594.6M887.1,604.1L891.5,602.6M897.7,597.1L900.1,596.5M906.6,587.4L911.3,587.1M895.3,598.1L898.4,597.9M893.1,593.6L896.1,591.4M914.5,589.2L916.5,588.6M898.3,592.3L900.9,591.5M933.8,574.3L936.6,573.7M903.5,580.9L906.9,580.6M905.1,582.8L907.0,582.9M971.5,571.3L975.8,569.8M981.2,570.7L985.6,572.6M806.9,645.1L808.5,646.7M740.7,634.1L744.2,635.7M788.8,628.5L790.4,631.3M796.3,645.5L797.7,647.5M757.9,628.6L760.1,630.0M802.8,647.9L806.3,649.7M789.9,654.6L791.8,655.2M789.7,649.2L794.2,651.4M754.9,631.2L757.8,634.6M797.7,638.7L799.1,640.2M804.4,646.0L806.7,647.4M756.9,644.5L759.2,647.5M763.1,630.0L765.9,632.4M810.1,639.7L813.3,642.0M769.5,648.8L772.3,650.1M811.0,642.9L812.8,645.7M794.0,661.8L796.0,664.1M778.1,640.0L779.4,641.8M790.8,645.0L793.1,645.9M778.3,644.5L782.0,647.5M780.8,645.2L782.5,647.8M811.8,648.8L815.5,650.1M737.1,620.1L739.3,622.4M771.8,649.2L774.3,651.0M780.5,670.0L782.6,672.0M777.3,667.6L778.4,670.9M792.4,677.1L796.1,679.1M791.4,671.1L791.4,673.8M771.3,668.5L772.8,671.5M791.7,676.8L793.8,681.2M775.2,666.7L775.7,668.8M773.7,671.1L774.5,675.3M792.1,681.1L793.5,683.5M775.5,677.6L777.4,681.7M785.9,681.2L788.0,682.2M789.1,672.2L790.8,673.4M790.6,676.3L790.5,678.5M780.6,670.1L782.3,671.1M774.1,669.0L777.3,672.1M800.8,686.6L801.4,688.9M777.0,671.4L779.3,674.8M771.3,666.6L773.7,669.5M771.5,658.4L772.5,661.2M780.5,681.9L784.6,683.5M779.2,674.1L780.3,675.7M832.7,710.1L834.7,710.5M839.5,709.0L840.9,709.6M812.3,699.2L815.4,700.5M805.1,689.3L806.9,692.7M818.7,702.2L821.5,703.6M840.4,709.4L842.9,710.2M811.2,709.3L814.5,711.6M828.2,720.0L831.1,720.5M846.9,709.5L849.4,709.0M863.8,721.6L865.9,722.0M874.0,722.2L875.9,723.9M885.1,729.6L887.9,731.0M922.0,749.1L925.3,750.7M897.5,749.2L901.0,749.4M916.6,750.4L920.5,751.9M914.5,752.0L918.8,752.8M904.3,745.6L907.8,744.8M926.1,756.8L928.5,758.3M950.5,765.6L954.6,767.2M937.1,764.5L940.0,766.8M934.8,758.7L937.1,761.5M974.5,772.1L977.7,774.0M971.4,772.2L975.5,773.9M985.9,777.3L990.0,776.2M961.6,769.1L963.3,770.2M978.9,767.5L980.5,768.0M991.1,772.5L992.9,774.6M1000.4,776.7L1003.8,777.3M986.0,773.5L988.6,776.5M969.8,770.0L973.8,769.7M1003.4,774.3L1007.0,775.0M924.8,756.5L926.2,756.6M956.1,764.4L959.0,764.4M989.8,766.6L991.0,766.4M988.2,762.0L989.9,762.4M847.3,672.9L850.2,675.1M814.1,655.2L816.5,657.6M823.1,667.6L827.4,670.2M879.6,712.2L884.2,715.0M816.9,654.9L820.3,657.1M846.1,690.1L849.3,692.3M845.9,695.8L848.2,697.7M820.6,651.6L824.1,655.2M852.5,694.0L854.6,695.8M865.5,648.5L867.9,651.5M865.1,643.1L867.3,645.9M819.4,626.6L821.2,628.0M827.9,629.6L831.3,632.5M838.8,631.0L841.7,632.3M840.4,632.2L843.1,632.5" stroke="#d5aa72" stroke-width="1.4" fill="none"/>
<path d="M636.2,526.5L639.3,524.0M645.3,552.5L648.9,550.0M690.6,553.7L693.7,550.5M657.0,539.7L658.4,538.2M663.4,559.5L667.9,558.5M680.2,540.3L682.7,537.9M663.6,517.1L666.2,517.0M647.8,542.0L650.3,539.4M688.6,553.1L693.1,551.7M658.5,529.4L660.3,527.1M652.2,528.9L654.5,529.0M679.7,551.0L683.6,550.3M712.3,562.1L715.6,559.2M685.0,556.7L688.2,555.5M695.2,558.7L697.3,557.4M706.2,611.5L710.7,612.1M727.1,599.5L728.8,600.7M770.9,616.7L774.4,617.1M714.9,598.6L717.3,598.9M729.0,614.9L731.9,615.6M761.6,615.5L763.7,616.3M754.3,614.1L757.7,615.3M750.4,603.6L753.9,604.9M779.9,599.0L783.2,602.0M704.2,585.2L707.2,588.7M695.3,587.1L697.9,589.6M721.4,605.6L723.5,607.9M708.3,601.6L709.8,603.7M773.2,612.4L775.0,614.7M740.7,618.6L743.9,620.1M696.7,574.3L699.6,575.4M666.6,585.1L669.5,586.5M744.7,607.5L746.9,609.8M725.6,602.5L730.0,603.9M733.8,607.4L736.0,611.0M749.3,584.7L751.6,585.3M886.0,598.5L887.2,600.4M820.9,595.0L822.3,596.5M849.9,606.4L853.4,609.6M873.4,604.0L875.6,607.8M866.4,608.1L867.7,610.2M760.4,577.3L763.1,578.7M759.3,582.0L763.7,583.5M865.3,601.1L866.4,603.0M866.8,605.8L868.9,607.9M757.3,573.4L758.7,576.2M788.6,591.9L791.1,592.9M834.0,591.9L836.4,596.0M760.6,583.2L764.4,585.6M820.4,595.4L824.8,597.6M869.1,602.9L871.2,604.8M805.4,654.1L807.6,657.1M773.3,652.8L776.1,654.6M785.4,632.4L787.8,633.6M746.4,617.8L749.0,619.9M781.2,649.5L783.6,650.3M772.8,638.9L777.2,640.9M774.8,638.6L777.4,639.9M780.4,638.3L783.7,640.3M807.3,641.3L809.4,644.4M769.6,644.2L772.8,646.1M791.7,653.3L794.9,656.4M767.2,653.9L770.2,655.2M806.7,645.8L808.6,648.5M755.1,632.5L758.6,635.6M781.9,631.9L783.8,633.6M774.5,655.9L776.1,658.6M790.7,649.4L792.8,651.2M793.2,652.7L794.9,654.2M783.7,632.6L786.2,636.7M597.6,506.6L600.7,506.2M870.3,443.2L873.0,442.4M859.7,446.1L861.4,446.2M878.1,442.6L879.6,442.8M619.2,583.8L620.9,581.8M607.8,599.6L609.2,597.8M615.4,591.0L618.4,588.3M820.6,706.1L822.0,708.5M880.8,729.7L883.1,731.4M815.9,694.4L817.6,695.9M950.5,763.0L952.3,764.6M897.4,742.8L899.0,744.6M905.7,750.6L907.1,752.9M830.3,706.9L832.6,710.0M892.0,736.5L895.6,737.2M811.6,695.5L814.3,696.9M835.8,712.6L838.9,714.9M851.5,709.0L853.5,709.3M845.8,706.9L847.7,710.3M800.4,691.3L802.5,693.7M931.0,756.2L933.7,757.3" stroke="#d5aa72" stroke-width="2.2" fill="none"/>
<path d="M648.6,542.8L652.1,540.8M668.6,502.8L671.5,502.0M625.6,526.7L627.7,525.4M628.0,524.7L629.8,522.9M776.8,431.5L782.8,431.5M775.9,430.7L778.6,429.8M657.5,593.4L659.2,592.3M666.4,593.6L667.6,590.4M728.8,586.9L730.4,588.5M719.6,581.8L722.3,584.7M705.3,605.3L708.0,607.8M687.4,616.0L689.0,612.8M688.6,617.9L691.7,616.7M819.3,590.0L822.5,589.5M812.0,585.2L815.0,584.9M808.5,586.8L812.5,586.3M824.8,589.4L827.6,589.0M881.0,588.4L883.2,588.6M942.8,572.5L944.4,572.5M1002.8,547.4L1007.2,547.5M742.3,627.8L744.4,628.3M766.1,673.1L770.3,674.0" stroke="#86b8a7" stroke-width="1.0" fill="none"/>
<path d="M662.2,547.2L665.5,546.9M610.3,525.5L614.0,526.4M622.9,526.7L625.9,524.6M780.5,433.7L783.6,433.1M787.2,433.3L790.1,432.8M782.1,431.8L784.4,431.4M662.8,592.9L663.3,591.3M658.4,593.5L661.0,590.7M731.4,586.7L734.0,589.1M732.9,586.0L737.2,587.0M701.4,605.1L703.7,605.3M723.2,610.8L726.6,614.0M892.0,584.8L894.6,585.1M837.6,591.2L840.0,591.0M861.5,592.5L863.5,592.1M814.4,587.9L818.4,586.8" stroke="#86b8a7" stroke-width="1.4" fill="none"/>
<path d="M648.4,519.5L651.5,518.0M671.7,517.8L673.4,517.3M651.6,532.9L655.5,532.1M690.3,554.7L692.6,552.4M664.5,532.8L667.2,532.5M646.8,520.8L651.0,519.8M661.9,528.1L663.1,526.6M665.4,549.0L668.2,548.6M665.8,559.3L669.8,558.0M651.1,552.1L652.6,551.8M692.2,519.4L693.6,518.3M646.6,545.6L648.6,543.6M655.4,521.8L659.3,520.7M672.2,557.4L674.9,554.6M690.5,530.0L694.1,528.5M646.9,537.3L650.1,535.3M667.6,546.7L669.3,545.4M645.5,535.4L647.8,534.1M656.3,513.3L658.6,512.2M644.5,515.5L647.3,514.3M663.9,530.1L665.1,528.4M689.8,527.7L691.1,526.2M666.2,529.2L668.6,526.4M682.6,520.0L684.3,520.2M669.0,521.9L672.2,520.1M673.5,521.2L675.9,519.0M665.1,537.2L666.4,536.2M678.8,531.8L681.9,530.2M679.1,534.8L681.2,531.6M661.7,527.7L663.3,527.7M671.6,518.7L674.7,516.3M699.6,517.1L701.2,518.7M695.3,516.8L698.4,519.0M709.9,530.7L712.0,531.2M720.8,535.8L723.6,537.0M723.1,536.0L725.3,537.3M722.2,540.7L726.3,541.5M716.7,527.5L720.2,530.1M734.9,542.9L736.4,543.9M704.2,520.4L706.3,523.5M696.3,520.6L698.2,523.8M712.0,533.8L714.0,535.0M730.5,550.8L733.6,552.5M696.8,519.5L700.2,522.3M648.0,504.0L651.6,503.3M600.0,506.8L602.7,505.8M607.4,504.0L609.2,503.8M614.1,503.0L617.6,502.1M666.6,504.5L669.6,503.3M653.5,501.5L656.1,500.6M593.1,506.9L597.2,506.8M608.3,505.2L611.4,504.1M653.1,507.7L655.9,507.9M624.7,508.0L627.4,507.0M636.6,500.9L639.6,500.0M645.7,502.4L648.7,501.3M664.0,507.0L665.9,506.7M658.5,501.9L660.4,501.9M616.5,506.2L619.1,505.2M588.5,506.9L592.0,506.1M631.6,503.1L633.9,503.3M675.8,502.4L678.1,502.2M645.9,505.2L648.4,504.9M674.7,500.6L677.9,500.2M669.5,504.6L671.1,504.3M645.7,508.6L648.6,507.3M805.9,456.0L808.2,454.2M820.0,446.1L823.1,443.7M823.0,451.0L825.5,449.2M828.3,449.1L830.4,448.3M814.6,447.5L818.0,445.5M783.8,470.5L787.7,468.3M789.5,467.4L792.6,465.5M850.3,445.0L856.0,445.7M843.6,449.7L845.7,449.7M837.8,450.1L840.6,450.3M856.0,451.0L859.4,450.6M831.1,456.0L834.6,453.1M880.7,441.5L884.0,438.8M912.7,439.2L916.3,439.7M878.3,439.5L880.1,439.2M840.1,451.4L841.9,450.4M830.3,457.6L833.5,457.0M859.6,443.0L861.3,441.6M886.1,441.4L887.7,441.6M888.3,438.4L890.0,438.2M846.1,456.4L848.1,455.9M847.6,450.8L850.9,449.7M892.9,444.3L895.3,443.5M889.3,443.5L890.8,443.3M883.9,444.8L888.2,445.1M887.3,438.1L891.6,438.4M878.0,445.6L882.3,445.9M833.7,459.3L835.4,459.0M832.2,458.1L835.4,456.5M857.7,449.9L860.5,448.1M888.7,445.8L892.1,445.8M869.2,447.4L873.2,446.4M856.6,396.3L858.8,395.1M836.7,399.1L839.4,399.6M853.7,390.9L857.0,391.1M851.3,389.9L854.8,391.2M859.8,394.2L861.4,394.3M853.9,395.3L858.0,395.4M974.8,427.6L977.6,428.5M997.6,428.5L998.9,428.8M940.2,414.1L942.3,413.9M633.0,603.1L635.0,599.8M620.8,600.6L624.4,597.5M629.9,599.2L630.7,597.2M620.4,607.9L621.5,606.0M626.0,596.2L627.4,593.6M614.5,589.4L616.0,587.1M637.5,595.7L639.3,591.6M603.5,592.3L607.1,588.8M632.1,605.1L634.0,602.4M620.3,594.7L622.8,592.0M619.8,595.6L621.3,591.1M625.0,605.1L627.2,602.0M610.6,603.8L612.5,601.7M632.5,601.5L634.2,598.6M695.5,556.1L698.7,555.5M675.3,565.6L678.2,565.5M712.9,570.2L715.9,569.9M656.1,571.4L657.2,569.9M677.4,565.9L679.8,563.4M683.8,556.4L687.5,554.6M701.6,575.1L704.4,572.3M705.2,568.2L706.7,567.1M656.8,581.8L658.4,580.6M687.7,554.7L689.9,552.5M646.9,581.7L649.0,580.0M700.5,560.0L703.8,557.7M783.2,602.4L786.1,602.9M747.0,594.3L749.3,597.7M707.1,603.6L708.8,604.0M686.0,582.8L689.4,585.8M730.3,617.2L732.5,619.3M681.3,574.8L684.7,577.6M708.6,584.4L711.1,585.5M749.8,615.4L752.7,618.1M705.8,589.4L706.7,590.8M765.7,615.2L767.9,618.1M789.5,612.3L793.1,613.4M717.2,612.2L719.6,613.2M717.0,589.1L718.8,591.8M772.2,614.6L773.3,615.8M790.8,603.4L792.8,605.4M773.4,590.1L777.6,590.7M776.5,597.9L779.0,598.2M786.1,602.8L788.1,606.4M784.3,601.4L785.9,601.7M773.8,598.1L775.7,600.4M763.1,594.0L764.2,596.3M747.8,567.0L750.8,567.8M780.0,590.0L782.6,590.6M731.4,570.0L734.5,571.5M729.8,559.4L733.2,562.1M730.7,562.8L732.7,565.2M745.0,569.0L748.0,570.3M764.2,584.6L766.5,587.1M745.4,574.5L747.6,577.3M769.6,589.1L772.9,591.0M771.4,594.0L772.7,596.3M778.8,592.1L782.9,592.8M752.5,575.7L753.5,577.5M783.5,592.9L785.1,595.3M785.2,596.3L786.5,597.4M771.3,584.2L774.3,585.5M730.0,558.1L731.4,560.0M763.5,584.1L767.3,585.3M748.9,575.1L752.8,577.4M771.4,594.7L773.4,596.1M782.3,593.9L783.5,596.3M781.7,593.1L785.4,593.7M786.3,590.6L788.9,592.5M783.9,593.6L785.1,595.1M763.6,584.5L765.5,587.4M764.1,583.4L765.5,585.5M736.3,532.6L738.2,535.3M740.2,546.8L741.8,548.3M739.7,546.5L741.2,547.6M750.2,555.2L754.0,557.7M735.6,538.0L737.4,539.5M793.1,598.5L795.2,597.4M817.0,586.5L819.8,586.6M825.1,593.4L828.7,595.2M821.5,593.6L823.6,592.8M795.5,589.6L799.1,591.2M791.4,590.5L795.3,588.4M795.2,594.3L799.2,594.0M821.3,590.0L824.3,590.5M796.1,591.6L798.9,593.2M795.4,593.8L799.2,593.6M793.9,596.6L796.6,596.0M820.9,590.3L824.8,589.3M823.0,589.9L826.1,588.2M820.4,590.8L821.8,591.5M840.0,607.7L841.7,606.7M867.3,609.4L868.9,608.0M888.2,604.8L890.0,603.2M839.3,607.0L841.3,607.1M858.9,608.6L862.2,609.9M863.8,608.0L866.3,609.3M876.3,606.9L878.9,607.4M879.0,608.2L882.1,605.9M848.5,609.0L851.6,608.9M885.9,604.2L888.3,603.1M862.0,610.1L864.3,610.5M878.6,608.2L882.2,608.4M859.9,610.6L863.9,608.8M876.8,610.0L879.1,608.4M888.5,601.9L890.3,602.4M874.0,599.4L878.0,598.6M896.6,588.6L899.4,587.8M854.0,601.0L858.2,600.6M849.3,603.1L853.0,604.0M864.2,601.7L866.9,599.9M880.3,601.8L884.2,602.8M870.0,604.1L873.7,603.6M884.8,598.3L888.3,597.2M877.3,598.6L879.0,598.3M840.6,599.6L843.5,599.3M876.6,598.2L879.0,596.6M848.0,600.8L850.4,599.4M899.5,583.1L901.0,582.8M883.9,590.5L887.7,590.0M937.1,572.5L939.5,572.4M972.4,570.4L975.6,570.3M972.7,570.3L974.7,570.4M976.1,570.6L980.6,571.5M739.3,636.5L742.6,638.3M747.0,632.4L749.7,636.0M748.6,619.2L751.3,622.5M775.0,649.8L777.8,653.3M779.6,651.5L782.0,652.9M780.8,661.3L782.4,663.5M760.3,626.8L764.1,628.8M774.0,649.6L775.9,652.1M765.8,632.5L767.9,633.4M773.3,635.7L776.0,637.5M766.1,642.8L768.3,645.0M790.4,664.8L793.2,666.2M802.3,643.4L805.1,645.5M773.3,625.6L775.6,627.4M777.9,645.1L779.4,646.8M745.9,628.7L749.5,632.0M768.3,654.3L772.0,656.8M738.9,628.3L741.1,632.0M736.7,627.3L738.4,629.6M769.9,649.0L771.9,649.9M756.3,642.7L758.4,645.4M771.4,649.3L774.1,652.2M749.7,636.6L752.5,639.2M746.7,633.9L748.3,635.6M756.1,637.9L757.5,640.0M792.8,673.6L794.8,676.0M791.5,674.1L792.6,677.1M774.2,670.1L775.8,673.2M774.7,680.3L776.3,683.1M783.5,667.3L787.1,669.2M781.9,672.0L784.7,674.7M777.2,665.2L778.8,668.6M771.0,677.0L772.8,681.5M770.2,669.8L770.4,674.4M796.3,672.7L796.8,676.7M768.8,676.8L769.7,681.2M772.4,672.8L774.1,676.5M769.4,679.7L773.1,682.1M781.1,680.7L783.5,684.8M788.3,667.7L789.1,671.0M785.2,677.6L785.4,679.9M768.3,665.7L770.5,668.9M770.1,664.7L770.9,667.0M773.7,662.6L775.7,664.7M784.8,676.5L785.4,679.4M764.2,661.8L765.0,664.3M799.8,685.3L800.6,688.9M812.1,700.1L815.9,700.3M828.9,705.1L831.1,705.7M827.6,702.7L830.3,703.7M829.8,701.8L831.9,703.4M830.9,702.6L832.8,705.0M833.7,709.1L834.8,711.4M853.0,711.2L855.4,712.9M866.5,723.7L867.9,725.0M893.5,743.1L895.8,745.9M892.4,738.3L895.7,739.3M889.7,736.2L893.9,737.5M914.2,748.6L915.5,750.4M906.7,750.8L908.7,754.0M909.2,750.4L913.1,751.1M933.2,758.6L934.5,759.7M942.5,769.6L944.9,772.1M957.1,765.6L960.3,768.5M942.6,766.5L946.6,767.1M936.3,761.7L938.1,761.4M945.1,764.4L947.4,764.0M947.9,767.7L951.6,767.7M1000.0,772.6L1001.4,774.1M985.3,774.5L987.6,777.3M995.9,775.2L997.1,776.7M1011.7,774.2L1014.1,771.4M1006.5,776.5L1009.0,775.3M1017.8,772.8L1019.3,771.6M1004.3,778.4L1008.4,778.4M1004.0,775.1L1007.2,775.3M827.4,628.8L829.6,630.8M827.1,632.3L829.6,632.7" stroke="#c7935a" stroke-width="1.0" fill="none"/>
<path d="M641.5,544.6L644.0,541.1M659.4,546.9L661.9,543.4M670.8,555.2L673.2,554.8M690.1,532.9L692.1,531.0M637.1,527.8L640.1,525.2M675.6,514.6L676.9,513.5M673.9,512.5L677.5,512.7M678.6,538.6L680.2,537.5M657.7,562.0L661.1,560.0M678.3,530.3L679.7,529.2M678.1,554.7L680.6,554.9M691.6,528.0L693.8,526.2M651.4,547.5L653.5,546.3M641.1,524.7L645.3,524.6M665.8,526.4L670.3,526.3M663.4,519.6L665.5,517.5M678.8,528.8L680.7,529.1M657.4,519.3L658.7,517.6M667.0,521.3L669.4,521.0M659.0,518.9L659.8,517.6M663.6,524.5L665.1,522.3M667.5,531.3L669.0,529.7M675.1,520.7L677.9,518.9M664.9,522.5L668.9,521.5M656.8,528.7L658.8,527.4M680.8,530.3L683.0,527.5M674.8,521.3L678.2,521.2M701.8,524.9L704.2,526.7M734.1,544.8L738.2,545.8M704.5,528.0L708.0,529.0M731.6,540.2L733.4,541.6M700.8,518.7L703.0,521.2M716.6,537.2L719.4,538.6M694.3,519.1L696.7,519.5M716.5,527.5L719.9,530.5M710.2,527.0L712.0,528.6M727.1,541.8L728.1,543.2M598.2,505.9L600.6,505.3M626.2,502.0L630.1,501.8M674.4,505.7L678.3,504.3M643.8,499.7L646.9,498.5M624.4,505.9L628.0,506.3M661.4,499.2L663.7,499.4M644.5,505.9L647.5,504.9M623.3,507.9L625.5,507.7M598.2,505.6L601.7,505.6M629.8,508.3L634.3,508.6M635.9,502.9L639.5,502.4M622.8,507.6L626.8,507.1M647.1,497.3L649.9,496.8M649.6,498.6L652.2,497.8M666.9,508.2L670.7,507.3M652.0,502.5L654.4,502.4M652.3,506.5L656.0,506.3M656.6,505.3L659.6,504.2M646.3,508.5L648.1,508.2M648.8,504.9L651.7,503.9M661.9,503.8L666.2,503.2M659.6,505.7L662.3,504.8M803.4,459.0L805.9,456.7M818.9,451.2L821.8,448.8M809.7,459.2L812.3,456.4M813.8,448.8L816.7,447.6M829.5,447.6L833.4,445.4M822.0,452.9L823.7,451.9M795.8,460.8L800.0,459.2M788.5,465.0L791.7,462.8M744.2,481.3L747.7,480.2M741.0,479.3L744.7,478.1M840.8,453.0L846.5,452.9M836.1,451.7L838.0,450.0M847.6,457.0L849.5,455.5M836.4,445.7L841.9,446.8M858.7,448.3L862.7,448.9M846.7,447.9L851.0,445.7M853.2,449.4L854.7,448.0M846.4,449.1L850.4,449.9M851.8,454.6L855.5,451.5M835.3,455.4L839.1,455.8M843.7,446.7L848.2,443.7M852.5,451.4L857.0,449.0M856.2,451.8L860.3,451.1M851.1,448.2L854.4,446.0M834.6,446.5L839.4,447.0M848.2,452.9L851.7,450.8M882.2,443.1L885.6,441.8M836.9,453.0L841.1,453.7M878.8,447.1L882.0,447.6M830.2,454.6L832.8,453.4M903.2,438.4L906.1,436.1M893.5,438.4L897.7,438.3M864.7,448.1L868.6,446.9M829.7,457.0L832.5,455.4M843.8,399.2L846.9,399.6M837.6,391.8L840.9,389.8M973.6,422.9L976.0,422.5M948.3,416.2L949.8,416.8M939.7,410.5L941.5,412.3M972.3,420.7L974.7,421.1M614.1,595.6L615.3,593.0M610.8,603.6L612.1,599.2M608.9,594.0L610.2,592.1M634.8,597.1L635.6,594.0M611.4,606.6L612.4,603.6M620.1,599.4L621.3,594.6M605.9,587.8L608.7,585.4M604.9,588.2L606.5,586.3M621.3,594.9L623.3,593.0M611.5,599.3L613.1,595.9M637.2,596.1L640.4,593.2M622.0,591.6L623.0,587.7M617.7,588.9L620.6,586.2M644.6,561.1L646.8,558.8M659.8,572.7L662.0,571.1M696.9,556.2L700.1,554.0M654.6,550.0L656.2,548.5M647.3,541.9L648.9,541.6M688.1,575.3L691.5,573.7M690.2,573.8L693.4,571.9M687.3,563.0L690.2,560.3M654.3,577.4L657.6,576.3M695.4,575.1L698.7,574.5M647.2,558.2L648.7,556.9M671.8,559.0L675.2,557.4M648.9,557.5L651.4,556.9M661.5,546.5L664.7,543.4M710.7,575.5L713.3,572.1M717.7,561.6L720.2,560.3M694.5,577.7L697.0,576.5M769.4,619.8L771.6,620.8M744.6,597.2L747.7,600.3M734.7,586.5L736.0,588.6M793.3,614.1L796.0,617.0M713.4,579.4L715.3,579.8M698.1,599.1L699.5,601.0M696.8,602.3L699.3,604.7M709.2,581.5L710.8,582.2M778.6,616.1L781.1,618.3M733.0,602.0L734.9,603.9M760.6,613.8L764.7,614.6M714.6,608.1L716.8,609.4M721.2,596.2L723.9,597.3M656.1,586.9L658.0,589.3M792.2,611.0L794.0,612.2M769.1,621.4L772.7,622.5M753.5,613.4L755.8,615.0M716.5,605.5L718.8,607.4M687.2,603.1L689.2,604.3M724.8,580.3L728.2,580.8M776.3,601.1L777.4,603.2M773.5,598.8L776.3,599.4M779.5,598.9L781.2,602.4M764.6,590.0L767.6,590.9M776.7,601.1L777.8,602.9M770.7,593.7L772.3,597.0M791.4,609.4L793.9,610.5M740.6,569.2L743.0,571.4M760.4,578.4L763.4,579.0M781.0,595.1L782.9,596.3M766.4,590.4L768.0,590.9M787.8,597.9L789.2,599.5M763.0,584.5L765.9,587.3M771.4,592.4L772.7,593.7M785.8,591.1L789.4,591.7M780.1,589.1L783.2,591.0M760.6,581.9L762.2,582.6M782.4,594.1L784.5,596.6M753.8,583.1L755.9,584.0M763.8,580.1L765.2,582.4M762.6,582.8L765.5,583.3M765.3,585.6L767.8,586.8M735.0,562.4L739.2,563.7M770.9,588.8L774.5,590.3M773.9,592.9L775.9,594.6M763.5,589.7L765.7,591.1M751.4,574.4L755.0,575.6M731.8,560.9L735.3,561.6M736.8,562.4L737.8,563.6M765.0,579.3L766.2,580.6M749.5,578.2L751.9,581.3M741.5,565.9L745.4,567.5M785.3,597.4L787.4,600.6M729.9,559.8L734.1,561.4M738.0,566.4L740.5,569.8M734.4,539.9L737.4,543.3M746.5,554.8L749.9,557.2M744.3,546.4L746.5,550.0M732.4,535.8L736.1,537.2M794.8,592.4L796.5,591.3M814.2,591.0L816.7,592.0M829.3,595.3L832.8,597.3M827.0,592.7L829.9,592.0M797.5,595.3L800.7,596.1M792.0,591.9L795.1,590.1M890.4,602.3L891.9,601.8M846.5,608.1L849.5,606.4M849.0,607.1L851.5,606.1M840.7,605.6L844.6,604.8M849.9,610.4L851.7,609.6M891.4,601.7L893.2,602.0M837.1,605.3L841.6,605.1M898.1,585.9L899.7,584.6M890.1,591.6L893.6,592.0M871.8,603.2L873.3,603.1M838.8,598.1L841.3,598.6M865.4,598.6L867.2,597.8M899.4,589.6L903.4,589.4M839.4,598.5L843.3,599.4M896.6,588.5L898.3,586.8M894.0,588.1L896.3,586.9M876.6,591.8L878.2,591.6M873.7,600.8L875.3,601.2M825.0,619.2L826.8,618.7M911.2,581.8L914.5,580.1M901.1,582.6L904.5,581.8M889.9,585.2L893.0,583.5M941.4,573.2L943.9,572.7M907.2,581.5L908.9,580.3M969.0,570.2L971.1,570.5M972.6,569.1L977.4,570.0M982.0,571.9L985.2,571.8M784.1,650.0L788.5,652.0M756.0,631.6L757.8,632.8M724.6,611.1L727.2,614.9M766.8,630.9L770.2,631.9M772.7,639.1L775.3,640.6M804.7,636.3L808.7,637.8M763.3,633.9L767.1,635.1M807.1,645.9L808.3,647.7M773.2,630.7L775.5,631.4M791.2,632.0L794.8,634.0M808.9,640.5L811.9,644.4M803.6,633.0L808.0,634.5M768.0,632.0L772.1,634.3M752.4,632.0L754.5,634.7M754.6,645.3L756.5,646.1M786.3,640.7L789.8,642.4M741.4,630.7L742.6,632.1M768.0,649.8L769.6,652.2M732.7,631.1L735.0,632.0M741.3,629.8L743.6,630.6M735.8,625.5L739.1,626.3M772.6,648.2L774.9,648.8M776.9,674.1L777.6,678.0M775.9,679.2L778.3,681.1M790.8,666.9L791.4,671.1M787.7,675.5L787.8,678.4M769.9,669.8L773.1,673.4M774.7,672.0L775.4,674.5M778.8,667.7L780.6,669.1M782.4,670.2L782.8,672.4M779.2,665.4L778.9,669.8M792.5,670.6L792.7,673.0M779.2,674.9L781.4,677.0M786.2,670.2L786.9,674.0M789.0,670.6L790.3,672.3M792.8,679.1L796.2,681.3M783.4,674.6L783.2,679.0M781.9,681.8L781.9,684.9M778.1,669.8L779.7,671.3M792.9,677.8L794.1,681.4M769.9,674.5L770.4,677.6M768.0,671.3L770.1,673.7M776.6,668.7L778.9,671.6M780.8,680.7L781.8,684.7M771.6,667.3L773.1,668.4M795.9,686.9L796.6,690.1M776.4,671.3L778.6,673.4M779.1,674.5L780.7,675.8M842.2,708.7L843.2,710.8M829.4,703.7L831.0,705.5M806.8,693.6L808.7,697.4M824.0,705.2L825.9,707.6M805.4,695.6L807.2,697.7M800.2,691.5L802.3,694.8M839.9,707.8L843.1,708.3M840.8,712.3L842.6,714.4M819.4,701.8L822.8,703.8M830.1,703.7L833.1,706.4M852.8,711.2L854.2,712.6M848.1,715.5L851.9,715.8M855.2,719.8L857.2,721.1M858.3,715.9L859.9,717.0M869.6,721.3L871.9,721.3M863.6,713.9L865.1,714.1M886.1,731.4L888.6,733.9M877.7,726.3L878.7,727.6M893.0,738.2L894.0,740.1M900.9,742.1L903.3,743.9M909.2,751.0L910.8,750.9M893.6,744.8L896.2,747.8M906.1,744.8L909.2,746.4M898.0,742.6L899.5,742.3M915.3,748.8L919.5,749.6M924.3,753.8L926.5,754.3M912.3,751.0L915.1,752.0M910.1,745.7L912.4,746.1M923.7,757.4L926.7,757.5M938.9,764.7L941.5,766.8M946.8,764.6L948.3,765.6M939.0,762.5L940.5,764.8M943.4,763.7L947.1,764.9M945.1,766.6L948.8,768.4M973.9,772.8L975.7,772.4M966.9,770.3L970.0,770.8M966.7,767.9L967.7,769.1M977.1,772.1L979.4,774.2M992.9,774.6L997.1,773.2M983.3,775.3L987.2,777.3M964.6,766.6L967.3,767.5M978.8,769.1L979.8,770.3M1002.4,775.5L1003.9,777.4M970.3,769.6L974.5,770.2M973.7,765.9L975.3,765.4M978.7,769.4L980.0,770.9M957.3,771.1L961.2,771.8M1011.2,775.4L1013.8,774.2M1018.3,774.4L1019.9,773.8M84.2,455.6L85.2,456.4" stroke="#c7935a" stroke-width="1.4" fill="none"/>
<path d="M661.0,529.7L663.4,528.4M726.5,531.4L729.6,532.4M728.4,533.7L731.5,534.6M729.2,530.5L730.7,531.6M728.9,531.0L730.7,532.2M623.1,525.5L626.8,523.3M723.1,440.8L726.4,440.9M759.9,440.9L763.4,439.9M799.3,451.3L803.3,450.6M804.7,450.7L807.1,450.8M804.2,451.0L805.5,450.0M808.6,450.2L811.7,449.8M805.3,449.3L806.9,449.0M833.2,387.4L837.2,386.3M925.6,408.7L927.8,409.2M916.3,408.4L919.7,408.4M927.2,409.3L929.3,409.4M657.1,593.5L658.9,590.6M661.1,591.5L662.4,589.6M662.5,589.5L665.4,588.4M665.6,595.9L666.1,592.8M641.6,577.9L644.3,577.1M742.3,591.5L746.3,593.8M728.8,589.4L733.7,591.0M715.6,614.0L719.6,614.4M709.8,612.8L713.8,614.3M684.7,615.7L687.4,612.6M765.7,569.8L768.7,570.7M842.1,591.7L846.4,592.3M827.9,591.9L832.0,591.0M840.6,591.8L844.0,591.5M829.7,590.0L832.0,590.1M880.0,588.7L884.6,587.6M871.6,591.6L875.9,591.0M807.9,585.0L812.6,585.0M885.7,587.4L888.5,587.5M841.4,592.1L843.8,592.1M851.4,593.4L853.9,593.8M819.6,588.1L823.4,588.1M846.4,592.6L848.7,592.3M856.8,592.8L859.5,592.5M890.7,583.8L895.3,583.3M864.8,591.3L868.6,590.9M876.9,590.2L881.7,589.3M872.0,591.1L875.4,591.0M832.0,590.4L836.0,590.6M888.3,586.1L890.0,585.2M907.6,580.2L910.5,579.8M918.3,576.7L920.9,576.4M888.4,590.5L890.5,589.0M882.2,590.1L885.4,590.0M946.6,569.5L950.0,569.4M945.6,574.2L949.0,572.0M943.7,572.0L947.3,569.6M989.3,559.3L992.5,557.6M737.7,626.3L740.2,629.8M733.9,622.3L734.9,623.8M741.0,627.0L742.8,628.0M738.4,627.6L740.0,629.4M765.1,677.2L766.8,677.8M767.1,675.1L768.5,676.3M825.4,714.2L828.8,714.6M829.4,717.9L831.7,720.6M829.4,717.5L831.6,718.7M931.3,766.9L933.9,768.0" stroke="#68a5a0" stroke-width="1.0" fill="none"/>
<path d="M655.2,549.9L657.7,550.0M663.7,547.7L667.2,546.9M732.8,531.6L736.3,532.3M726.0,531.0L728.7,531.6M610.0,526.0L614.2,525.2M662.7,502.9L666.4,502.6M627.0,526.4L629.4,523.4M623.5,526.6L626.2,523.5M749.8,435.0L752.4,434.7M733.3,439.8L736.0,439.5M691.7,439.7L694.6,439.8M786.3,431.3L789.3,430.5M786.2,430.6L789.6,430.4M773.5,431.0L775.7,430.2M775.1,433.2L779.1,432.0M772.4,432.7L777.9,431.1M762.4,438.4L766.6,438.3M801.9,454.4L805.6,453.0M810.2,451.4L813.4,450.1M820.9,387.8L824.8,386.7M909.0,404.7L911.2,405.0M924.3,430.1L926.0,429.8M920.6,428.8L924.1,429.6M919.3,430.7L922.7,428.4M658.4,600.0L660.5,596.7M660.4,599.6L661.8,596.5M662.6,598.5L664.6,597.2M661.3,547.8L663.5,547.7M734.4,589.9L738.1,591.6M716.4,580.7L720.0,583.3M721.1,582.2L723.4,584.3M718.6,584.8L721.2,586.0M735.0,590.3L736.5,591.6M716.7,581.0L718.8,582.2M742.7,595.1L744.3,596.4M718.1,582.2L721.3,585.6M698.4,609.4L701.3,609.7M790.1,578.4L792.4,581.3M849.8,593.6L853.7,593.6M809.4,585.5L812.2,585.9M890.3,583.9L892.9,584.1M891.7,585.9L896.4,585.3M819.5,589.3L822.7,589.1M814.6,587.6L818.9,588.1M811.8,588.2L816.4,587.0M892.7,585.0L896.2,584.3M947.7,571.7L949.6,571.2M892.6,583.9L897.0,583.2M899.9,583.0L904.3,583.0M941.0,571.5L943.8,571.9M999.3,551.4L1002.7,550.4M729.8,623.4L731.5,625.2M744.7,628.4L745.8,630.1M930.0,763.2L931.9,763.7" stroke="#68a5a0" stroke-width="1.4" fill="none"/>
<path d="M641.4,547.3L644.0,544.8M688.4,521.2L689.4,519.8M679.5,542.7L683.3,541.2M664.8,544.7L667.2,544.2M674.4,556.6L677.8,556.0M686.4,558.5L688.3,557.6M650.0,525.1L651.7,524.1M688.4,558.5L690.6,558.0M695.2,550.7L698.5,548.5M672.5,529.2L675.9,528.6M676.5,514.5L680.0,514.7M658.3,525.6L659.4,524.3M682.7,533.9L684.0,532.8M660.2,531.9L662.3,531.3M676.0,517.8L678.4,518.0M671.1,530.6L673.4,527.3M662.9,537.6L664.9,537.1M664.1,521.1L665.9,521.0M670.3,519.8L673.8,519.0M660.1,526.3L664.1,525.0M668.7,529.4L670.1,527.9M674.8,527.1L677.5,526.4M670.7,524.8L675.0,523.5M665.5,517.7L669.6,517.7M677.7,526.8L681.0,526.2M678.1,518.9L681.3,519.3M709.6,524.3L712.3,526.8M738.6,551.6L740.0,552.3M690.7,521.4L694.3,522.2M698.7,517.9L701.0,519.9M725.8,538.0L729.7,539.3M704.1,519.9L706.7,522.0M708.5,522.0L711.4,525.3M695.9,514.2L698.3,517.2M738.7,545.3L740.7,545.8M696.0,518.1L698.3,521.3M642.6,502.6L644.1,502.1M608.5,500.6L612.1,500.3M607.1,511.8L611.3,510.8M614.6,505.5L617.6,505.6M616.9,503.0L619.3,503.2M606.5,508.4L609.3,507.8M606.2,511.1L609.0,510.2M664.4,505.1L666.7,504.8M660.7,504.5L662.8,503.9M674.4,501.7L677.7,501.1M833.1,445.0L834.5,443.7M831.6,447.2L835.5,445.7M807.3,456.0L810.4,452.8M822.6,451.3L825.8,449.8M833.8,450.6L837.1,447.8M795.8,462.4L799.0,460.8M802.1,460.8L804.1,459.2M796.9,455.6L799.6,453.3M819.5,452.0L822.0,450.4M840.9,452.3L845.8,451.7M836.2,449.0L838.8,447.3M841.2,445.9L845.1,445.8M853.1,452.8L855.1,452.0M850.0,445.9L853.1,445.9M858.0,446.6L861.8,446.4M899.1,438.3L901.1,438.6M879.1,441.9L883.1,440.2M853.3,444.9L856.2,444.8M847.4,453.0L851.3,452.9M837.7,452.8L840.8,451.4M891.3,442.5L892.8,441.9M880.8,446.5L883.7,444.9M893.5,440.2L897.9,439.6M834.9,454.9L837.4,453.3M843.2,450.7L845.4,449.1M870.3,447.6L873.3,447.8M826.5,462.0L830.6,460.5M850.5,390.5L851.9,389.7M844.7,396.7L847.7,398.0M827.5,391.6L831.3,392.3M856.0,397.7L860.1,398.0M825.4,394.7L828.8,394.7M622.4,604.3L623.8,602.6M624.1,598.6L625.0,595.4M612.9,594.5L614.5,592.7M629.8,606.1L633.2,602.6M623.3,605.7L624.4,602.2M628.6,587.8L630.5,585.1M614.3,597.5L618.0,594.3M614.4,604.2L617.9,601.1M615.2,599.2L615.9,596.9M607.2,596.0L608.0,594.2M625.2,588.3L626.9,584.2M621.2,591.2L622.1,588.4M628.5,601.0L631.4,597.6M685.4,567.8L689.4,566.8M635.0,543.6L639.1,541.8M712.6,576.5L715.8,575.5M652.0,553.4L654.2,551.4M687.4,557.6L690.2,555.5M643.5,569.0L647.1,568.7M683.2,561.1L687.0,560.0M717.0,567.2L719.9,565.4M649.7,544.4L652.9,542.8M768.3,622.4L771.7,624.1M706.3,609.4L707.8,611.8M738.5,606.4L741.6,608.0M718.5,594.9L720.8,597.3M693.8,584.7L696.1,585.1M782.2,616.6L784.4,617.8M680.5,597.7L683.7,598.4M693.0,574.7L695.6,577.4M691.1,588.4L693.5,589.9M763.4,618.8L765.2,620.9M754.8,608.2L756.8,609.7M791.3,608.5L794.7,610.7M790.8,611.5L793.5,615.0M767.3,593.1L768.4,594.1M789.1,602.1L792.4,605.1M779.8,596.2L781.2,597.3M777.1,595.1L779.7,596.9M773.7,600.5L777.1,603.3M785.0,602.2L789.1,603.9M778.5,592.4L782.6,593.7M760.9,578.5L761.8,580.6M738.0,562.7L739.3,564.3M748.3,577.7L751.6,579.8M787.0,595.7L789.0,596.4M735.8,562.9L737.2,564.6M757.2,579.5L760.9,580.8M740.3,565.0L744.0,567.1M732.7,567.9L734.0,570.6M730.7,560.6L731.9,563.4M735.0,562.2L738.2,563.3M751.8,567.3L753.0,569.3M790.6,594.9L792.0,595.3M748.9,564.8L751.1,566.9M767.8,588.5L770.8,589.9M745.9,565.6L748.3,566.3M746.9,569.1L748.1,570.9M782.2,595.3L785.2,597.4M768.4,589.0L771.0,590.2M765.2,591.5L768.7,593.8M758.1,574.9L760.3,578.3M759.8,583.5L763.0,585.0M764.8,584.1L768.6,585.9M780.6,595.2L781.8,596.8M764.5,583.9L765.7,585.1M785.4,591.0L786.7,593.1M754.9,576.1L756.3,576.8M749.4,549.8L751.7,551.9M793.5,593.0L795.9,594.3M804.3,587.0L808.6,586.3M864.7,606.8L866.9,607.6M889.9,604.9L892.3,602.7M859.9,609.6L863.3,610.8M843.5,604.8L845.1,604.7M847.0,608.0L851.0,606.3M884.2,608.1L887.6,606.2M864.6,605.7L868.5,606.3M868.2,612.2L870.0,610.6M838.5,603.1L841.2,604.8M861.9,605.9L864.5,606.6M864.1,609.9L867.6,612.2M886.0,598.6L890.4,599.4M840.8,604.4L843.0,603.5M856.5,607.4L859.9,609.5M888.0,598.8L891.5,599.7M884.4,602.0L887.3,603.7M851.2,610.1L853.1,608.2M902.9,584.7L905.0,582.8M902.2,587.2L905.7,587.7M863.7,601.7L866.7,600.9M878.1,597.4L880.6,596.9M875.5,599.5L878.1,599.6M883.7,599.1L885.7,597.4M866.2,600.7L869.4,597.9M776.9,657.1L779.6,658.0M746.6,632.0L750.2,635.3M793.5,653.4L796.1,654.6M751.7,631.3L755.5,633.7M782.6,648.6L785.1,650.1M791.3,652.5L793.4,654.5M787.5,662.4L790.4,664.9M739.6,620.3L743.1,622.9M767.2,650.1L768.9,650.8M734.9,627.1L738.6,628.5M748.5,637.1L750.9,638.6M769.4,645.4L772.8,646.5M742.4,631.7L744.8,634.9M741.5,632.9L744.3,633.9M754.8,638.7L757.1,640.2M748.8,633.8L750.1,634.6M761.2,644.1L762.8,646.6M740.1,632.0L742.9,635.3M763.7,647.5L765.2,648.4M737.3,629.1L740.2,632.0M765.4,645.5L767.5,646.3M755.7,642.7L758.3,646.1M741.5,629.8L744.3,632.2M772.6,650.6L773.9,651.8M778.4,680.6L781.2,682.4M780.4,665.3L781.0,667.8M769.3,676.7L772.2,680.0M787.3,670.8L790.9,674.1M781.0,675.3L781.1,678.2M764.1,662.7L765.0,664.7M773.8,666.3L777.5,668.6M761.0,660.1L763.1,663.6M772.7,667.0L773.8,668.9M773.9,669.9L775.5,672.7M796.5,690.1L797.2,692.0M795.2,681.5L796.3,685.5M800.0,684.0L801.8,687.2M794.9,684.3L795.9,687.2M771.0,665.2L773.1,666.4M763.2,659.3L764.4,660.4M819.6,702.7L822.3,706.1M830.1,699.6L833.3,701.9M825.8,701.9L829.4,702.3M812.9,698.9L814.3,700.4M801.5,691.5L803.9,692.9M842.3,713.2L843.6,714.2M833.2,707.4L836.4,709.1M814.5,696.4L816.0,698.5M841.5,710.8L843.1,710.8M813.3,700.4L816.0,700.5M835.4,706.0L837.2,707.6M840.4,710.0L843.8,710.3M831.7,710.2L834.1,710.3M866.9,718.9L868.7,721.0M855.9,716.0L857.5,716.2M864.6,719.8L867.3,722.1M844.2,711.8L847.1,711.4M874.8,724.7L876.2,727.2M886.4,733.1L887.7,733.9M919.7,757.1L922.9,758.0M916.3,755.1L919.5,756.0M914.4,750.3L916.4,754.1M900.7,745.2L902.0,746.3M949.0,764.2L950.1,765.9M934.2,761.4L935.3,762.9M925.6,754.6L927.8,754.5M947.0,764.2L949.6,767.8M946.1,766.5L947.8,767.1M1001.0,775.7L1002.4,776.2M980.0,770.4L984.0,772.1M983.7,774.6L985.2,775.6M988.3,774.7L991.4,777.3M994.2,776.5L998.0,778.1M995.6,775.7L998.0,774.8M973.3,773.9L976.4,775.2M831.7,628.4L834.4,628.6M838.8,630.6L842.1,630.3" stroke="#ba7f48" stroke-width="1.0" fill="none"/>
<path d="M694.1,529.8L697.7,529.7M643.9,520.8L646.6,518.7M692.4,543.3L696.1,543.3M695.1,528.1L697.5,526.2M675.8,560.0L677.3,559.5M671.4,521.8L675.7,520.8M692.8,538.5L697.2,538.1M656.2,516.4L660.4,516.7M683.6,516.6L686.8,514.7M676.3,528.1L678.7,527.4M670.2,533.5L673.2,533.0M669.7,528.6L671.2,526.3M658.9,532.5L660.6,531.5M671.9,538.0L675.1,534.9M675.9,528.4L678.8,525.4M673.3,519.1L675.1,518.4M677.0,520.8L678.0,519.6M662.5,519.7L666.4,520.0M679.4,521.6L682.5,520.4M672.1,534.6L673.6,534.2M659.9,525.1L662.7,525.5M670.8,522.9L672.6,522.5M674.8,522.0L676.8,522.1M659.9,522.8L664.1,522.0M690.7,523.0L693.9,524.3M729.8,545.6L733.2,546.7M713.8,532.7L717.1,534.4M708.9,535.0L712.9,536.6M657.9,507.4L661.6,507.6M600.3,503.5L604.3,503.0M621.1,502.8L623.3,503.1M649.6,504.5L652.4,504.0M679.9,500.9L683.8,499.8M656.4,506.7L659.7,505.3M653.2,503.7L654.7,503.1M814.8,453.7L818.6,452.2M802.6,463.7L804.4,462.2M804.2,455.9L807.1,452.7M826.1,445.9L828.4,445.1M802.9,456.5L806.0,454.3M808.7,454.4L812.5,453.7M796.3,462.8L798.8,461.9M846.7,449.2L850.4,447.5M838.5,454.5L841.7,455.1M845.5,452.8L847.9,452.5M840.0,453.2L843.1,450.8M840.0,447.0L842.6,446.2M852.1,444.9L854.4,445.2M837.5,452.0L839.5,450.5M843.0,456.6L847.0,455.1M839.9,456.0L842.7,455.6M854.3,453.7L858.3,454.7M846.8,450.6L850.6,449.9M854.0,453.1L856.5,452.6M846.1,453.1L848.2,451.4M845.3,449.8L847.6,450.6M854.1,448.7L857.6,449.0M856.8,448.7L860.1,449.1M847.4,452.2L849.8,452.0M837.4,447.2L842.4,447.8M855.1,449.8L860.0,447.4M841.5,447.1L843.5,445.8M854.5,446.2L856.9,446.0M832.7,450.7L835.0,451.4M856.1,448.0L860.3,449.4M851.9,451.9L857.4,451.7M835.8,450.1L839.5,446.5M858.7,447.1L862.5,447.7M909.3,440.3L911.9,438.3M910.6,441.3L913.9,438.9M856.0,450.8L859.6,448.3M846.5,450.3L848.0,449.6M840.3,449.9L842.5,448.9M826.4,458.4L829.2,457.2M811.9,458.5L813.8,458.0M811.8,458.3L813.5,458.1M829.6,393.2L833.4,393.6M628.0,599.5L629.3,594.8M612.0,586.5L614.8,583.5M622.1,585.7L623.3,581.4M609.8,587.5L612.0,584.8M610.4,603.1L611.3,600.8M629.4,589.4L630.3,586.3M632.2,599.8L633.2,595.9M630.7,600.2L632.1,598.0M619.6,584.5L621.0,581.8M610.0,588.5L612.4,585.4M619.5,593.4L620.4,589.8M620.2,588.6L623.5,585.4M621.9,588.9L624.3,584.9M616.4,587.3L617.5,584.8M619.9,586.5L622.4,584.2M606.3,589.9L609.5,586.5M605.4,591.0L608.1,587.9M665.4,560.5L667.5,560.5M717.9,567.3L720.5,566.5M641.9,546.4L644.3,544.6M701.2,549.6L703.9,549.2M661.6,570.5L663.2,568.8M698.3,569.7L700.0,568.9M702.1,578.6L704.9,576.0M706.8,564.5L709.0,564.1M686.2,551.2L689.1,549.9M695.7,591.4L699.1,593.6M708.7,596.3L712.6,597.6M761.0,608.2L763.6,609.6M678.9,591.9L681.5,593.3M677.2,600.6L679.3,601.9M720.4,598.4L721.9,600.4M657.8,590.4L660.3,592.6M722.6,600.1L724.7,603.0M794.3,600.6L796.0,601.3M783.2,599.7L786.0,600.9M778.9,599.6L781.3,601.7M774.7,601.3L775.8,602.8M764.9,592.7L768.5,593.7M775.2,601.8L778.5,604.2M762.3,589.3L764.3,590.1M767.2,595.8L770.2,598.8M761.2,588.7L764.8,590.9M755.2,578.9L757.0,582.3M759.3,582.6L762.2,583.9M741.0,574.4L742.5,576.5M740.4,564.9L744.0,565.7M766.1,583.8L767.2,585.2M761.6,584.7L763.4,585.8M787.1,596.3L790.3,598.3M761.0,583.3L762.4,584.9M743.5,567.0L746.7,568.6M734.9,571.0L737.8,574.1M764.5,592.5L766.5,593.2M781.4,598.0L782.9,600.2M736.7,567.3L739.2,570.5M745.9,565.6L747.6,566.7M750.7,578.2L754.0,578.9M780.8,591.8L784.0,592.9M734.2,565.7L737.6,567.0M775.7,593.6L777.5,596.0M748.9,553.0L751.0,554.5M818.0,589.7L819.8,588.7M824.2,592.9L827.9,591.6M819.9,592.8L821.3,591.9M806.1,588.5L809.4,589.5M826.5,587.5L831.0,587.9M889.9,601.6L894.1,600.0M861.6,610.4L864.3,611.1M863.8,610.5L865.8,610.3M838.7,602.8L840.3,603.5M890.0,599.2L893.6,600.6M853.8,609.1L856.3,607.3M857.4,607.1L860.3,608.6M857.7,610.7L861.3,611.4M881.1,607.2L884.4,608.3M893.4,597.5L897.0,597.5M848.6,610.7L852.3,608.3M839.7,602.5L841.2,601.3M839.0,603.7L842.9,604.0M852.1,602.6L854.6,602.9M852.1,598.3L854.9,596.3M899.1,585.7L901.5,585.5M889.2,597.2L890.9,596.1M772.1,629.1L775.8,630.9M789.1,642.2L791.2,644.0M758.5,623.8L761.8,626.9M794.6,655.2L797.3,656.4M751.2,633.2L753.1,636.5M813.1,643.9L814.9,645.3M759.2,624.6L762.3,626.6M794.6,635.7L797.3,637.3M738.2,629.4L739.7,631.9M739.6,629.1L741.3,629.6M758.0,640.1L759.5,640.7M750.6,640.7L751.9,643.2M784.7,665.5L788.4,667.8M789.1,678.5L790.5,680.9M776.7,680.2L777.0,682.9M770.9,680.2L771.7,682.5M792.4,676.3L794.1,680.4M775.5,676.8L776.8,678.8M777.0,681.1L778.9,685.2M768.3,672.1L768.6,675.8M790.1,679.5L791.5,682.7M767.2,672.8L771.4,674.8M776.8,681.9L778.7,684.8M785.7,665.8L787.0,667.6M771.6,675.7L772.4,679.0M786.6,680.9L790.2,683.3M779.2,680.5L779.4,683.6M786.2,673.2L787.5,675.2M779.0,683.4L782.4,685.5M776.5,679.9L779.0,683.7M793.3,677.4L794.2,680.8M779.9,681.9L780.0,686.8M771.9,678.9L772.8,681.9M773.4,674.5L773.4,677.7M780.7,669.4L783.1,671.7M788.3,677.1L790.2,680.0M781.2,673.5L784.4,676.7M781.3,672.2L783.2,675.3M768.6,658.5L770.0,662.8M839.5,712.3L842.1,712.6M838.9,707.4L842.5,709.9M830.8,709.2L834.3,711.5M819.4,707.2L821.7,707.5M868.8,716.4L871.9,717.4M870.7,719.8L872.9,722.3M846.8,712.0L849.0,714.6M865.9,720.6L869.7,723.1M865.0,724.8L867.4,725.6M890.7,731.5L892.5,735.0M879.6,722.6L882.4,723.4M872.4,720.1L874.4,722.4M907.8,748.5L911.8,750.2M918.3,759.4L920.1,761.4M915.9,749.2L919.9,749.2M900.8,742.1L904.1,741.4M896.3,743.2L899.1,745.2M898.7,745.5L901.6,745.9M917.1,751.7L918.6,752.6M900.5,745.7L902.0,748.2M906.8,750.1L910.0,749.6M893.7,743.1L896.4,744.9M908.5,752.2L910.2,752.2M905.0,747.3L906.5,749.2M899.8,750.1L902.1,750.6M910.7,752.2L912.2,754.7M919.7,747.3L921.9,748.8M911.7,749.8L914.3,752.0M923.3,753.9L927.6,754.6M904.3,744.4L907.3,747.5M918.5,754.2L919.7,756.3M953.9,769.3L957.3,770.9M947.3,764.3L949.7,767.4M935.1,760.3L937.6,763.4M994.8,775.4L996.4,777.1M973.3,770.7L977.0,773.0M977.9,769.1L980.8,770.9M964.0,768.4L966.5,768.8M995.4,775.7L997.6,777.4M979.4,770.1L981.0,771.0M967.7,771.7L971.7,770.9M976.0,771.7L977.5,773.5M998.1,776.4L1002.3,776.2M997.0,779.1L1000.5,778.4M978.3,770.2L979.6,771.1M987.1,777.7L990.4,777.8M962.4,768.4L964.4,768.2M963.7,771.9L967.7,771.7M991.5,774.3L993.7,773.8M966.4,770.1L967.9,770.4M971.1,770.3L972.7,771.3M987.1,776.2L988.8,776.4M1016.2,772.4L1018.9,772.6M1010.5,772.4L1012.7,772.4M1005.3,776.8L1007.3,775.1M836.3,630.5L839.1,630.6M837.6,632.2L840.7,633.2" stroke="#ba7f48" stroke-width="1.4" fill="none"/>
<path d="M669.5,537.4L672.8,536.7M681.8,514.7L684.0,514.1M688.6,521.7L692.8,521.8M670.7,541.2L673.9,541.2M654.9,521.2L657.6,518.6M646.8,504.0L650.4,503.6M659.0,505.5L660.6,505.5M600.0,529.6L601.6,529.0M666.8,500.7L668.3,500.2M709.6,439.3L713.0,438.7M722.1,438.7L725.3,438.2M734.0,439.7L738.2,439.3M748.8,436.5L752.3,435.9M666.9,470.9L671.3,470.8M662.3,467.9L666.1,468.4M650.9,464.6L653.4,463.8M784.9,434.0L788.6,433.2M776.5,430.6L781.0,430.6M787.3,431.5L791.5,430.7M917.3,407.2L919.3,406.7M916.2,431.1L919.2,429.3M660.7,596.9L662.7,593.2M655.2,595.2L657.4,592.9M665.4,598.6L666.8,597.4M670.8,549.6L674.0,549.0M644.9,546.2L647.7,543.8M679.2,572.7L680.2,571.4M663.7,587.1L667.7,588.9M676.7,595.4L680.9,596.1M655.8,579.4L658.3,580.9M716.8,585.4L720.6,588.7M715.8,583.6L720.3,586.6M722.7,583.1L726.0,586.8M724.2,583.7L726.9,584.5M738.3,591.3L740.7,592.0M703.6,610.1L706.9,611.6M702.2,606.9L704.2,607.7M687.5,612.7L689.7,611.9M691.8,619.1L693.5,617.7M776.7,593.6L778.1,594.5M764.0,585.5L767.0,588.6M735.4,536.4L737.5,537.2M831.1,593.8L834.4,591.1M818.8,588.4L821.4,586.4M831.6,596.1L833.6,595.1M776.5,656.9L778.5,659.1M753.9,644.3L757.1,648.1M762.0,672.4L764.5,673.4M764.7,673.1L766.8,675.4M764.6,677.1L766.1,679.0" stroke="#4a939a" stroke-width="1.0" fill="none"/>
<path d="M674.2,540.2L676.4,538.1M650.7,517.8L652.2,516.7M657.9,523.1L659.3,521.9M662.4,530.0L665.3,530.2M663.6,530.0L666.3,528.3M656.3,546.1L658.7,544.6M659.4,546.2L662.5,546.2M658.8,548.2L661.7,547.7M673.2,501.5L675.8,500.5M720.6,437.3L725.4,436.9M736.1,435.8L740.3,434.8M755.9,435.0L758.7,434.9M706.9,438.6L711.7,437.9M757.5,432.9L762.1,432.8M667.5,473.4L669.7,473.0M784.4,431.3L787.4,431.0M781.3,434.5L783.5,433.7M775.0,434.5L779.7,433.8M772.8,433.9L777.3,432.8M779.8,434.4L784.8,433.3M773.9,431.2L775.9,430.4M773.6,430.8L778.9,429.1M774.3,431.4L778.7,431.3M772.7,433.0L778.0,433.1M787.8,430.2L790.0,430.2M781.9,430.4L787.5,430.5M910.4,404.5L911.9,405.3M925.4,408.6L927.5,409.3M910.0,406.3L913.9,407.0M914.0,406.3L916.0,406.7M924.5,429.2L926.0,429.4M619.3,584.1L621.0,582.2M617.5,584.4L618.4,582.5M613.0,585.7L614.0,582.6M612.4,584.6L614.8,581.4M663.4,597.1L665.0,594.6M659.1,596.2L661.0,594.7M662.2,596.2L663.9,595.6M657.2,596.3L658.1,594.5M713.7,566.3L717.3,564.8M664.6,550.0L667.4,546.9M665.9,548.8L668.9,546.3M671.8,546.9L675.7,546.4M668.0,547.5L672.1,546.4M672.3,544.3L673.9,543.6M663.0,547.2L664.0,545.9M731.2,588.2L736.6,589.5M719.6,585.9L723.0,586.5M723.8,584.4L726.6,586.2M739.0,596.0L744.3,597.2M714.4,581.5L716.3,582.5M729.5,588.2L733.8,589.3M713.5,583.1L716.1,583.9M715.7,585.6L719.5,587.2M730.0,590.8L735.0,592.4M737.7,589.2L743.3,591.1M737.1,589.8L739.5,590.7M741.9,591.3L745.7,594.8M735.0,591.1L738.8,592.0M713.8,578.2L718.5,580.9M725.1,588.1L729.2,590.9M709.9,609.6L711.3,611.9M701.7,605.1L705.2,605.7M714.9,608.2L718.1,608.6M722.4,612.5L723.9,614.1M723.9,610.6L728.5,612.4M709.9,609.8L712.5,611.9M721.3,612.1L725.7,613.0M709.3,610.5L711.8,611.6M709.9,607.5L713.1,609.0M723.9,612.9L726.2,613.5M692.1,621.6L694.2,618.9M692.7,619.4L694.9,616.8M792.3,590.0L793.7,591.5M778.7,590.6L780.8,591.8M764.0,584.0L766.3,585.1M779.8,596.1L780.9,597.9M770.0,591.0L772.6,593.5M755.3,587.2L758.3,590.5M815.9,590.0L820.2,591.0M1000.0,550.0L1002.7,549.1M1002.1,548.7L1005.1,548.0M739.6,632.4L742.5,633.5M772.5,644.4L777.1,646.0M758.1,622.7L761.8,625.5M762.8,671.9L764.8,672.8M929.2,766.9L932.6,768.3M925.0,761.6L929.2,762.0M927.0,764.6L931.0,764.4" stroke="#4a939a" stroke-width="1.4" fill="none"/>
<path d="M648.3,523.7L651.4,523.3M675.8,520.3L679.7,518.1M675.0,559.3L678.0,559.2M665.0,522.4L669.1,520.5M670.9,532.6L672.8,531.3M664.6,512.3L667.1,511.0M662.5,513.3L664.9,511.6M640.8,527.4L644.0,525.1M675.6,524.6L677.5,524.8M682.9,527.0L685.0,524.9M673.7,521.3L676.8,518.1M679.2,536.1L681.7,533.6M661.1,524.6L662.6,523.2M680.6,535.1L682.1,534.4M676.2,522.2L678.0,519.4M683.8,527.2L685.4,526.8M818.6,452.8L820.4,452.0M819.9,449.4L823.7,447.5M796.2,459.2L798.2,458.9M849.6,448.1L853.0,447.5M846.7,447.9L851.7,445.2M847.6,445.4L851.5,444.6M842.7,455.8L847.5,456.0M845.5,452.5L847.7,452.7M851.2,455.0L854.2,454.1M844.8,454.8L847.7,455.8M836.5,448.3L841.9,449.0M881.3,443.3L885.3,443.2M887.7,445.3L889.3,445.5M904.5,437.3L906.2,436.2M886.8,445.6L890.3,445.6M855.9,448.2L857.3,447.1M885.8,442.6L887.9,441.7M852.1,447.9L855.7,447.0M905.5,441.7L907.4,441.8M850.0,452.1L853.2,449.5M851.8,451.9L855.3,452.3M885.6,444.6L888.2,442.7M837.3,455.2L839.6,454.4M872.4,441.6L875.2,440.7M622.5,584.7L624.7,582.1M636.4,600.4L638.5,598.4M609.3,606.2L610.4,602.3M620.3,585.8L623.0,582.6M606.8,601.2L608.6,598.1M624.5,601.0L626.0,599.2M621.2,591.1L623.0,587.2M624.9,585.3L626.7,582.1M694.1,547.8L696.0,546.3M719.6,572.1L723.0,569.9M668.2,560.0L669.5,559.2M642.2,568.4L643.6,567.1M694.2,567.9L696.2,566.3M665.9,552.0L669.0,550.7M735.6,585.3L738.9,586.9M687.6,594.8L691.1,596.3M678.7,597.2L680.6,600.4M704.7,589.3L707.1,591.5M719.8,601.3L723.6,602.1M670.3,595.4L671.7,596.2M782.2,604.7L784.2,605.0M768.8,599.0L771.3,601.7M778.7,599.1L781.4,602.1M787.3,601.9L790.2,603.7M785.7,602.5L788.4,603.2M785.1,602.2L787.9,605.5M781.5,599.2L783.8,603.1M786.9,604.0L788.8,604.4M778.3,601.3L779.8,602.6M766.1,600.1L770.6,600.6M766.6,595.6L769.1,597.9M783.3,600.3L784.9,601.9M746.1,568.1L750.0,569.2M761.6,575.3L763.9,576.4M752.7,573.3L754.4,575.4M755.9,571.1L758.1,574.3M788.0,594.0L789.0,596.4M735.7,565.3L736.4,566.6M767.5,584.6L771.2,586.8M778.5,589.1L782.1,590.0M744.5,576.5L747.4,579.3M767.5,590.8L769.2,593.3M750.5,582.3L751.4,584.3M781.3,586.1L785.3,587.1M777.8,589.8L779.2,591.4M727.0,559.9L728.4,561.6M749.1,573.1L752.2,574.3M778.0,592.5L781.3,594.3M790.3,597.3L792.8,599.3M739.6,570.1L743.4,570.8M757.7,590.5L759.0,592.9M791.5,592.9L792.1,594.4M777.3,591.2L781.0,593.4M759.6,582.7L761.6,585.8M865.5,609.9L869.8,609.7M890.0,599.6L891.9,599.5M861.5,610.0L864.6,608.8M863.1,609.2L867.5,608.5M889.9,599.1L893.0,598.9M883.6,600.9L885.5,599.3M842.6,602.9L845.7,603.3M843.6,606.5L845.6,604.6M880.3,603.6L882.5,602.8M881.5,603.1L883.5,602.4M883.6,601.8L885.4,601.2M864.4,610.9L867.8,608.3M870.6,608.2L873.0,608.1M881.3,603.1L883.7,603.9M851.7,610.5L855.4,611.3M871.4,609.3L873.6,607.6M837.6,604.0L840.6,604.9M890.6,600.7L892.8,600.8M862.3,609.0L866.0,609.7M846.1,605.2L849.7,604.6M888.4,600.1L891.3,599.4M842.8,605.6L844.5,605.7M751.3,638.8L754.4,639.5M750.0,636.8L751.7,638.6M774.0,648.5L775.5,648.9M795.4,672.6L796.0,675.9M773.9,681.1L777.3,683.1M771.3,667.9L773.4,670.6M771.6,680.1L774.5,683.0M779.4,682.7L779.6,685.4M764.4,664.4L765.7,665.5M771.2,666.5L773.1,668.5M772.1,667.1L773.1,671.1M769.9,670.6L771.6,673.5M805.2,694.5L807.7,696.8M800.7,688.0L802.5,690.0M826.7,707.1L828.8,707.8M836.0,711.2L839.0,711.7M823.1,701.8L824.9,705.5M799.9,693.0L803.3,693.9M803.7,691.3L806.0,693.7M808.7,699.6L810.7,700.1M852.3,713.1L855.1,714.7M866.8,721.9L870.4,721.0M860.9,720.5L863.3,721.2M854.1,713.6L858.5,713.6M852.3,712.3L855.2,714.8M894.1,741.3L897.6,741.3M901.3,748.0L903.7,750.4M915.8,748.6L918.8,748.4M942.7,765.1L944.9,765.9M955.2,766.5L958.3,766.8M952.0,768.4L954.0,770.4M954.4,768.5L956.1,769.8M947.0,766.3L948.6,768.8M928.1,754.3L929.8,756.7M948.0,771.4L951.9,772.7M935.2,759.1L936.6,760.1M986.6,775.5L990.2,773.9M992.3,776.2L994.1,778.2M967.6,769.6L969.7,769.6M970.9,769.0L972.5,768.5M966.3,766.8L967.8,768.8M979.7,772.9L983.5,773.0M1014.2,770.9L1018.0,773.0M1006.6,773.1L1009.6,774.4M1008.7,772.8L1010.7,773.7" stroke="#ab6a35" stroke-width="1.0" fill="none"/>
<path d="M669.0,561.9L671.4,560.6M671.4,527.7L672.9,526.6M661.2,532.5L664.9,532.4M663.6,522.7L666.8,521.9M670.5,531.5L674.1,530.5M679.3,534.6L681.4,533.9M679.5,526.5L683.2,526.7M663.6,518.4L665.0,517.7M677.3,533.5L681.2,533.1M675.8,524.6L677.3,523.4M657.9,520.3L659.2,519.3M659.3,532.7L661.0,532.8M675.3,531.8L677.1,530.3M825.1,451.1L827.3,450.1M798.3,458.5L800.4,457.9M819.0,452.4L820.8,451.2M840.3,453.1L844.1,449.3M840.2,455.5L844.0,452.0M836.4,456.7L839.7,453.5M842.0,450.9L846.0,450.4M847.0,449.4L852.6,447.4M853.2,456.7L859.0,456.4M846.0,449.7L847.7,448.4M845.1,455.7L850.9,455.1M841.8,447.0L845.3,445.0M840.5,452.7L843.0,451.9M853.3,456.9L855.5,457.1M852.9,451.4L856.3,450.3M845.0,452.6L850.4,450.0M850.1,444.3L854.7,445.1M844.9,448.9L847.5,447.7M857.8,454.8L862.5,454.6M838.5,455.1L843.3,452.7M837.3,454.8L839.2,453.5M849.4,455.3L853.3,450.7M858.6,453.4L861.4,451.8M859.0,453.1L862.9,448.7M839.1,452.1L843.3,449.7M834.7,453.5L836.9,454.0M845.1,453.9L848.9,449.7M902.3,444.1L904.2,443.4M859.1,451.2L861.7,450.0M834.8,455.2L837.4,455.1M860.2,447.3L862.3,446.6M907.0,441.7L909.4,441.0M867.6,448.7L871.3,446.4M907.1,435.7L909.0,435.8M912.5,441.1L915.7,439.2M893.4,444.2L895.5,444.4M904.0,441.2L905.9,440.6M893.9,441.3L897.8,439.4M609.1,593.9L610.6,590.9M615.8,592.0L618.0,589.0M635.6,591.2L638.5,587.2M616.6,601.8L618.1,600.2M616.1,584.8L619.4,581.8M636.3,590.1L637.3,587.9M630.2,601.2L631.9,599.1M605.8,598.0L608.3,594.5M609.3,598.3L612.0,595.5M644.7,550.4L646.9,550.1M647.9,560.8L650.5,560.0M655.1,551.1L657.4,549.0M680.6,560.5L683.5,557.5M663.8,595.3L666.5,597.7M698.5,597.5L699.7,599.5M659.0,595.5L660.9,596.6M761.1,593.7L762.1,595.6M781.2,598.7L785.0,600.3M768.3,595.7L769.1,597.2M787.7,604.7L789.5,605.9M760.0,594.6L762.6,596.2M772.7,594.6L774.6,595.3M758.9,593.8L760.2,595.6M778.7,602.2L780.4,604.0M766.2,598.7L767.0,600.5M773.8,599.1L777.0,600.3M781.4,606.2L784.0,606.5M766.4,592.8L767.6,594.9M775.9,594.4L777.3,595.1M761.6,591.8L762.5,593.5M742.3,563.7L744.2,564.6M728.7,562.2L732.0,563.7M789.4,591.0L791.9,592.8M777.9,590.6L780.9,593.7M742.2,573.0L744.1,574.3M775.5,597.9L777.0,600.8M744.6,566.9L749.0,567.6M729.3,562.0L730.7,562.9M766.2,583.2L768.9,585.6M753.3,575.2L755.3,578.0M873.1,611.3L875.7,610.5M847.6,606.6L849.7,606.6M893.9,596.0L895.6,595.6M884.6,604.0L888.3,602.9M874.2,604.2L878.6,603.4M857.1,611.2L860.0,612.1M858.1,610.9L861.3,608.6M846.1,608.2L848.0,609.3M852.0,606.1L853.6,605.5M887.6,601.1L890.2,600.2M870.5,609.9L874.9,609.9M855.9,610.4L860.0,609.5M871.3,607.0L873.6,606.8M847.1,607.9L850.1,605.8M861.2,610.1L864.1,608.6M855.8,608.3L858.4,606.0M890.5,596.8L893.6,594.7M875.8,603.3L878.8,604.1M886.1,603.3L888.8,604.7M875.8,607.4L877.9,607.5M739.7,631.5L743.8,633.0M783.7,681.0L785.0,685.2M777.6,677.7L778.0,682.3M781.5,677.9L783.5,681.9M781.9,664.9L785.2,668.5M793.5,676.3L795.3,678.1M770.8,669.3L772.5,671.7M789.8,671.9L793.7,674.5M785.5,681.7L785.3,684.7M777.2,671.1L779.4,672.5M791.9,675.5L794.0,679.8M785.7,675.7L786.1,678.2M790.0,673.3L792.1,676.1M779.4,680.4L779.6,684.5M779.7,665.0L780.9,667.7M782.4,681.7L784.4,683.0M780.6,666.2L781.9,670.3M771.3,674.2L774.9,676.0M774.7,666.3L778.6,669.3M779.4,671.8L779.3,675.1M786.7,670.6L788.3,675.2M779.9,675.8L782.6,677.6M784.0,670.6L785.1,675.3M782.8,667.3L785.9,669.9M768.8,678.4L770.3,682.9M785.0,683.3L787.6,685.5M790.0,670.3L792.1,672.0M758.0,661.3L761.2,662.9M791.5,679.7L793.1,682.8M785.9,675.8L788.3,677.9M840.2,708.2L841.6,709.1M806.0,696.6L808.0,697.2M830.7,708.1L833.7,708.4M826.1,699.5L827.7,701.6M828.1,705.5L829.3,707.0M841.1,708.5L844.8,709.7M810.4,693.9L813.6,696.3M803.7,690.1L806.2,690.0M809.0,693.4L810.7,695.9M850.6,713.7L853.2,716.0M857.0,716.2L861.1,717.8M846.1,711.7L847.2,713.1M901.5,744.0L904.1,744.8M896.2,737.0L898.2,738.4M920.3,755.0L922.3,756.4M899.9,747.4L902.2,749.3M905.8,744.7L907.1,745.5M899.3,744.6L902.6,744.9M916.3,754.9L919.1,754.2M920.2,754.3L922.3,754.5M907.0,746.9L909.2,750.5M954.2,767.4L955.3,768.4M958.9,768.6L960.6,771.2M935.3,755.3L938.2,756.0M952.8,766.9L953.9,768.2M940.2,766.1L941.7,765.9M990.9,777.5L992.4,778.1M960.0,767.7L962.9,769.0M973.0,771.6L974.7,772.7M996.0,774.1L998.9,773.8M983.1,776.0L985.8,775.6M975.8,774.4L980.1,773.4M996.3,777.2L997.7,778.3M997.3,774.4L999.9,776.7M960.6,770.0L963.2,769.4M968.5,771.2L971.7,772.2M994.0,774.8L997.6,775.8M999.8,772.7L1001.8,774.6M1003.5,773.3L1007.4,772.6M1010.8,771.1L1012.9,771.3M1005.2,774.9L1008.1,771.7M1012.8,771.5L1015.0,769.9" stroke="#ab6a35" stroke-width="1.4" fill="none"/>
<path d="M639.9,524.8L643.9,522.9M669.4,528.7L673.3,528.7M645.0,543.6L647.2,543.7M663.3,533.2L666.0,531.8M658.7,531.7L660.6,530.2M663.5,547.5L664.9,547.0M654.2,546.2L657.5,546.4M659.7,550.4L663.2,549.9M649.6,543.8L652.2,541.4M648.5,542.5L652.8,541.9M652.3,542.3L656.0,542.4M605.1,523.9L609.3,522.5M604.5,527.8L608.5,527.1M664.1,501.2L665.9,501.5M664.5,501.4L668.1,502.1M774.6,431.7L779.6,429.8M785.0,434.8L787.1,434.0M776.9,434.0L782.3,432.6M616.1,583.4L617.3,582.3M612.9,584.3L614.2,581.4M647.1,569.8L649.2,568.9M641.5,547.3L644.6,546.0M682.8,556.3L686.5,554.8M705.0,574.7L706.7,577.3M724.0,598.3L727.3,599.6M718.7,577.8L721.0,578.6M719.9,583.3L722.5,586.3M714.3,580.1L717.7,583.9M705.9,608.5L710.3,608.8M690.1,621.6L691.8,619.8M685.6,618.7L689.4,616.9M692.0,619.5L695.5,617.5M691.7,622.2L694.0,621.4M727.3,564.4L730.1,564.8M778.0,586.5L781.6,588.5M733.1,561.0L735.1,562.4" stroke="#2b8192" stroke-width="1.0" fill="none"/>
<path d="M677.2,519.4L679.5,518.7M658.4,514.8L661.9,514.9M657.7,532.6L661.5,531.1M659.1,531.4L661.9,528.7M660.6,531.3L663.8,528.7M657.2,550.7L659.9,550.1M658.9,547.9L663.1,548.2M600.6,526.4L602.6,526.3M599.8,525.5L603.7,525.9M601.0,524.6L603.2,524.6M665.7,504.1L669.2,502.6M666.1,503.0L669.2,500.9M774.8,432.5L777.1,432.1M780.9,434.9L784.3,434.1M783.4,433.5L789.2,432.2M779.4,434.7L782.8,434.5M783.1,433.2L787.2,433.0M782.1,429.9L784.5,429.2M774.7,430.9L777.9,429.6M780.2,430.4L785.1,428.6M618.5,584.6L619.8,582.3M617.2,582.6L619.9,581.2M653.3,581.3L655.4,580.6M695.1,552.1L696.9,549.5M662.1,558.4L664.9,555.1M671.7,546.1L673.6,544.5M658.6,546.7L661.2,545.7M662.7,547.2L665.0,546.8M668.9,544.2L671.8,542.8M658.9,550.0L661.6,547.4M715.3,609.2L718.5,610.1M685.9,584.5L688.2,586.0M710.6,596.6L713.2,598.2M715.2,581.2L718.4,583.3M737.3,590.4L742.0,592.9M734.8,588.8L739.2,590.7M718.1,584.5L721.9,586.1M715.4,584.8L719.3,586.4M737.3,590.8L739.3,591.9M723.3,583.8L725.9,585.2M737.6,589.3L740.1,591.6M719.0,585.3L724.0,587.0M719.3,584.6L721.6,586.2M742.2,593.0L746.1,593.8M726.8,586.5L728.4,587.8M726.4,585.0L730.8,587.3M714.2,577.5L718.6,580.3M736.5,588.7L740.4,591.9M730.1,585.2L732.8,587.2M715.8,582.6L720.8,584.2M733.5,591.7L735.8,593.1M737.9,593.0L740.1,594.0M720.0,582.4L724.6,583.3M730.6,586.7L732.6,587.4M726.4,582.7L729.2,583.3M731.4,591.3L735.8,592.2M719.5,584.8L721.8,585.5M702.5,607.7L704.2,610.6M715.0,613.5L717.3,614.6M720.7,613.9L724.6,615.1M711.5,611.9L716.3,612.0M722.3,612.3L726.3,614.0M723.9,609.2L727.1,609.5M714.4,607.3L717.5,611.1M705.4,607.9L709.0,609.3M701.0,608.2L704.6,608.9M704.1,605.2L707.2,605.8M706.9,607.3L710.5,609.2M707.6,609.4L710.4,611.8M707.6,610.6L710.5,613.9M707.9,607.4L711.3,608.3M726.0,610.4L729.8,612.0M713.7,613.6L717.3,615.6M684.1,614.4L686.5,610.6M730.3,564.2L734.3,564.9M729.4,561.7L730.9,562.8M727.5,565.6L730.4,567.6M776.3,586.3L780.2,587.3M788.6,597.5L792.0,598.8" stroke="#2b8192" stroke-width="1.4" fill="none"/>
<path d="M677.6,524.1L680.9,523.5M669.6,526.2L672.6,525.9M662.7,527.5L664.2,526.9M668.8,537.1L672.1,535.4M657.8,531.3L659.3,530.6M660.3,531.0L661.8,530.4M667.2,529.1L669.4,526.3M857.0,446.9L860.0,446.2M835.3,451.7L838.7,448.3M846.5,452.3L849.7,450.5M840.5,453.9L845.3,453.1M839.4,448.4L843.0,444.9M770.5,598.8L772.9,600.9M791.4,600.9L792.4,602.0M765.0,601.3L768.0,601.8M768.2,599.9L771.3,601.1M786.9,600.6L790.5,603.2M767.8,597.8L771.0,598.5M782.4,603.6L786.0,605.3M764.0,587.5L766.3,588.7M744.2,568.6L746.3,571.7M767.0,580.2L769.5,580.7M786.5,596.0L788.2,598.9M742.5,567.4L744.1,567.7M744.9,571.0L746.9,572.7M780.8,593.8L784.1,594.9M773.8,592.5L776.9,595.5M748.8,581.2L750.4,583.2M750.8,581.5L753.1,581.9M727.8,562.6L728.9,564.0M744.8,572.3L746.6,573.2M761.0,581.8L762.4,583.1M770.6,586.5L772.4,587.1M766.5,588.4L767.9,589.2M785.6,596.5L787.9,597.3M728.9,565.1L729.9,567.5M873.7,608.6L876.9,608.4M851.0,611.8L853.8,610.1M856.0,615.1L858.7,612.5M848.9,605.3L850.5,605.4M872.5,608.8L874.7,608.1M874.3,605.8L878.2,607.5M871.5,607.3L875.6,607.2M860.5,608.6L862.2,607.3M868.1,609.9L871.0,608.5M840.4,601.3L842.9,600.3M863.1,607.4L866.3,605.4M869.7,609.7L873.2,610.8M842.4,605.7L844.2,604.6M878.8,604.0L882.1,601.5M848.4,609.3L850.3,608.4M881.9,606.8L884.3,606.4M887.0,599.2L890.5,600.7M846.6,611.3L849.9,609.2M877.2,608.5L881.2,607.1M870.3,606.9L873.5,604.5M884.0,599.9L887.3,599.9M891.2,598.3L892.8,598.3M848.7,604.7L850.5,603.9M870.1,612.6L873.3,610.1M846.3,606.1L847.8,605.1M859.6,610.1L862.7,611.1M864.1,612.7L867.4,610.3M785.0,679.4L787.4,682.0M769.9,675.9L770.2,678.5M777.9,666.3L779.2,670.5M789.6,673.6L792.7,675.3M772.7,681.8L775.4,684.6M781.1,682.6L781.0,685.5M774.6,680.2L778.8,682.4M834.6,709.7L836.5,712.5M812.6,698.3L815.1,698.6M804.5,693.1L808.4,694.9M821.5,703.1L823.9,703.3M805.5,692.6L807.1,694.1M827.5,707.1L830.7,707.0M838.6,709.1L840.3,712.6M818.3,700.3L822.2,700.7M809.0,694.6L812.7,696.8M815.4,702.7L817.4,705.4M809.5,698.9L811.0,699.6M816.2,695.9L817.8,696.9M859.8,720.7L863.7,719.7M861.1,717.3L863.0,718.5M845.1,713.5L846.7,713.5M844.2,715.0L846.5,714.4M861.7,723.0L865.0,722.7M863.2,720.1L865.6,721.2M906.2,750.0L909.2,749.6M899.4,742.6L902.9,743.0M905.3,742.5L907.1,745.0M918.4,753.7L922.3,753.7M922.7,751.4L925.1,755.1M901.0,745.3L904.8,744.8M956.1,766.0L958.9,769.4M943.4,765.6L945.4,765.4M936.4,758.4L938.4,759.7M932.2,758.0L933.5,758.8M971.5,772.0L973.5,772.1M982.7,778.3L985.7,777.1M982.1,777.2L983.4,778.4M974.6,767.4L976.2,768.2M968.3,766.3L971.9,768.3M964.7,768.5L968.1,769.4M984.0,774.0L988.2,773.7M980.7,773.8L982.4,773.3M964.4,765.8L967.9,768.1M1015.6,773.7L1018.6,771.2M1017.5,774.8L1019.4,774.8M1004.6,776.3L1007.5,774.1" stroke="#9c5522" stroke-width="1.0" fill="none"/>
<path d="M662.2,520.8L665.6,519.3M663.0,520.3L666.9,519.0M666.5,526.0L668.4,524.7M677.9,529.3L681.7,529.3M656.3,520.4L660.6,519.5M661.2,525.5L663.7,524.6M655.8,522.1L657.6,520.2M658.5,521.8L660.2,521.6M847.4,451.5L852.1,451.0M855.0,454.8L859.4,456.1M844.0,458.1L848.9,454.7M845.0,447.5L846.9,446.2M835.9,448.1L841.3,445.8M840.3,453.3L843.6,451.5M852.6,455.2L854.8,454.7M848.1,446.9L850.9,444.1M834.3,452.2L836.1,450.8M852.8,455.7L858.7,455.3M861.2,452.8L863.4,451.9M844.0,444.9L849.0,445.1M853.4,446.0L856.2,444.6M861.1,450.6L864.1,451.5M855.6,455.6L860.2,455.0M847.5,447.5L850.4,447.9M858.6,452.4L863.6,451.8M766.5,594.1L769.2,596.5M769.9,596.5L772.5,599.8M768.4,595.3L769.5,597.0M760.8,594.2L762.5,596.1M763.2,592.4L764.8,592.9M783.1,604.2L786.8,605.1M759.4,594.2L761.0,594.8M784.3,601.6L787.3,604.1M781.5,601.4L784.4,602.0M727.4,562.7L729.2,565.9M751.2,569.2L752.1,571.2M738.7,569.4L739.8,571.2M759.0,578.1L761.0,580.5M759.5,591.8L762.5,592.4M784.9,596.8L786.6,599.9M762.3,579.4L763.6,580.3M878.0,607.4L881.4,609.1M846.5,609.4L848.8,610.6M844.9,607.4L847.7,606.4M893.5,600.1L895.0,599.3M858.6,609.6L859.9,608.7M846.6,605.0L848.4,603.3M877.0,604.5L880.2,606.5M879.9,602.3L883.4,601.7M844.8,605.2L848.3,607.2M858.5,609.9L861.2,609.9M789.7,672.5L789.4,677.0M778.7,674.0L780.8,676.8M776.4,670.2L776.7,673.5M780.9,684.8L784.3,686.4M788.8,679.7L790.6,681.3M777.3,671.7L778.7,673.9M786.9,682.5L787.6,685.9M785.7,667.8L788.5,669.2M787.3,677.4L789.9,680.4M780.2,674.1L781.1,677.9M771.4,669.9L773.5,674.2M787.4,673.6L788.0,675.5M781.3,684.2L784.8,687.2M776.9,669.4L778.2,671.2M780.1,682.1L782.2,684.7M775.5,667.2L778.2,669.0M774.5,673.7L775.5,676.5M782.4,673.9L784.1,677.6M775.7,671.6L778.8,675.0M766.3,675.0L768.0,676.1M794.7,677.5L796.3,681.3M790.6,671.5L791.9,673.5M808.5,697.7L810.7,699.0M808.2,695.9L809.6,698.0M837.0,706.1L840.2,706.3M826.0,703.2L827.8,703.8M820.2,704.5L824.0,705.0M838.8,709.0L840.7,712.4M826.5,704.3L830.1,704.2M825.6,704.4L829.5,706.0M863.0,720.6L864.7,721.8M857.8,718.1L859.8,717.7M854.0,715.5L856.5,717.2M845.6,715.9L849.5,716.3M908.7,746.5L910.3,747.9M920.1,751.3L922.2,753.6M919.5,754.5L921.9,755.8M917.2,753.6L919.6,756.5M912.1,748.9L915.5,748.3M910.8,748.9L914.7,750.0M911.7,750.5L913.5,751.7M905.6,737.5L907.6,740.6M953.8,768.8L956.3,769.9M927.4,758.3L929.4,759.4M937.0,760.9L940.2,762.0M964.9,769.2L966.9,768.7M973.7,772.6L976.7,775.5M961.2,769.5L964.8,771.5M987.1,774.4L989.1,774.6M990.1,772.8L993.4,775.7M982.3,769.5L983.9,770.6M968.4,769.2L972.3,770.9M971.3,771.6L974.4,772.1M964.2,768.5L966.7,769.5M982.9,775.6L984.7,777.9M977.5,770.2L979.3,772.5M988.6,777.2L990.7,776.9M991.5,773.4L994.4,775.4M1013.5,775.5L1015.3,773.5M1007.6,774.1L1010.3,772.6" stroke="#9c5522" stroke-width="1.4" fill="none"/>

<path d="M380.0,351.0 L387.5,348.5 L392.5,349.8 L391.2,347.2 L397.0,348.5 L397.5,351.5 L402.5,353.5 L408.8,353.0 L410.5,350.0 L409.5,354.8 L405.0,358.5 L400.0,359.8 L395.5,356.0 L390.0,355.5 L383.8,354.8Z M348.8,372.2 L353.8,366.0 L363.8,364.0 L365.0,367.2 L372.5,362.2 L369.5,356.0 L375.0,358.5 L376.2,362.2 L387.5,361.0 L395.5,362.2 L387.5,364.8 L383.8,368.5 L378.8,369.8 L375.0,373.5 L367.5,376.0 L350.0,376.0Z M686.2,371.0 L690.0,364.8 L693.8,359.8 L700.0,353.5 L710.0,348.5 L722.5,346.0 L730.0,348.0 L736.2,349.8 L740.0,346.5 L750.0,346.5 L760.0,349.8 L767.5,351.5 L775.0,351.0 L785.0,350.5 L793.8,353.0 L802.5,348.0 L812.5,346.5 L818.8,348.5 L816.2,353.0 L810.0,355.5 L800.0,356.5 L792.5,356.0 L785.0,353.5 L775.0,353.0 L765.0,353.0 L755.0,351.5 L745.0,350.5 L737.5,353.0 L730.0,351.5 L722.5,353.5 L717.5,358.5 L710.0,362.2 L705.0,367.2 L702.5,373.5 L697.5,376.5 L687.5,376.5Z M867.5,355.5 L870.5,354.8 L870.5,364.0 L867.5,363.5Z M905.0,313.5 L915.0,312.2 L925.0,315.5 L935.0,318.5 L940.0,321.0 L939.5,324.8 L933.8,325.2 L925.0,321.5 L915.0,317.8 L907.5,315.5Z M809.5,348.5 L816.2,346.5 L818.8,349.0 L813.8,353.5 L809.5,355.5Z M867.5,356.0 L872.5,353.5 L878.8,356.0 L882.5,363.5 L883.8,369.0 L877.5,367.2 L870.0,363.5Z M97.5,375.5 L110.0,372.2 L120.0,369.8 L130.0,363.5 L137.5,358.5 L147.8,358.1 L150.0,350.7 L156.7,346.3 L165.6,342.6 L174.4,340.7 L183.3,340.4 L189.3,344.1 L193.7,343.3 L199.6,344.8 L206.3,341.9 L213.0,342.6 L221.9,344.1 L224.8,350.7 L227.0,355.9 L224.8,364.1 L222.6,369.3 L227.8,373.0 L233.7,375.2 L239.6,375.9 L244.1,373.7 L248.5,373.7 L254.4,375.9 L250.0,378.1 L253.0,381.1 L258.9,382.6 L263.3,381.1 L258.9,384.1 L253.0,385.6 L247.0,385.6 L241.1,387.0 L235.2,388.5 L232.2,392.2 L228.5,397.4 L224.8,401.9 L221.1,403.3 L224.8,398.1 L228.5,392.2 L232.2,387.8 L238.1,384.8 L244.1,381.9 L241.1,380.4 L233.7,379.6 L226.3,380.4 L218.9,381.1 L211.5,378.1 L201.1,378.1 L192.2,377.4 L184.8,379.6 L180.4,382.6 L178.1,387.0 L179.6,392.2 L182.6,395.9 L187.0,397.4 L180.4,398.1 L174.4,395.9 L167.0,395.2 L159.6,395.9 L157.4,398.9 L159.6,402.6 L162.5,403.0 L170.0,404.8 L173.8,411.0 L177.5,416.0 L182.5,422.2 L183.8,428.5 L190.0,432.2 L196.2,436.0 L207.5,436.2 L212.5,438.1 L213.1,442.5 L209.4,447.5 L207.5,452.5 L207.5,458.8 L210.6,461.9 L212.5,466.2 L215.6,470.0 L216.9,475.0 L218.8,480.0 L218.1,483.8 L215.0,487.5 L213.8,492.5 L214.4,498.1 L217.5,501.9 L223.8,501.9 L230.0,501.2 L235.0,501.9 L238.1,503.1 L232.5,503.8 L230.0,506.2 L232.5,509.4 L234.4,511.2 L231.2,512.5 L227.5,510.6 L223.8,511.9 L223.8,515.6 L228.8,516.2 L233.8,518.8 L238.1,522.5 L242.5,525.6 L241.9,530.0 L239.4,535.0 L239.0,542.5 L238.8,551.0 L127.5,551.0 L126.2,536.0 L125.5,526.0 L128.8,518.5 L135.0,517.2 L138.0,508.5 L139.5,501.0 L145.0,496.0 L155.0,494.8 L160.0,492.2 L156.2,489.8 L147.5,488.0 L142.5,486.0 L135.0,476.0 L128.8,468.5 L122.5,462.2 L116.2,456.0 L110.0,448.5 L102.5,439.8 L96.2,432.2 L93.8,424.8 L97.5,417.2 L93.8,411.0 L86.2,404.8 L80.0,399.8 L77.5,397.2 L85.0,392.2 L88.8,384.8 L95.0,379.8 L102.5,376.0Z M214.4,460.6 L218.1,455.6 L222.5,453.1 L230.0,452.5 L238.8,452.2 L241.2,455.0 L243.1,460.0 L243.8,465.0 L247.5,468.8 L252.5,471.9 L257.5,474.4 L260.6,477.5 L259.4,481.2 L255.0,484.4 L250.0,485.0 L245.0,484.4 L240.0,486.2 L236.2,486.2 L234.4,483.1 L230.0,484.4 L223.8,485.0 L219.4,483.8 L219.4,479.4 L217.5,475.0 L216.9,470.0 L215.6,466.2 L214.0,463.1Z M313.1,455.6 L315.6,450.6 L318.1,447.5 L321.2,447.2 L325.0,450.0 L323.8,452.8 L326.9,456.2 L330.6,458.8 L330.0,461.9 L325.6,463.1 L322.5,464.8 L318.1,463.8 L315.6,461.2 L312.5,460.0Z M340.0,397.2 L341.2,389.8 L345.0,382.2 L350.0,377.2 L357.5,376.0 L361.2,383.5 L360.0,391.0 L358.0,399.8 L352.5,402.2 L345.0,401.0Z M361.2,388.5 L365.0,381.0 L367.5,375.5 L385.0,375.5 L388.0,383.5 L391.2,392.2 L388.8,401.0 L380.0,408.0 L370.0,409.0 L361.2,406.0 L358.0,399.8Z M515.0,478.0 L525.0,476.5 L535.0,477.2 L545.0,479.0 L551.2,482.2 L552.5,489.0 L548.8,486.0 L542.5,483.0 L532.5,481.0 L522.5,479.8Z M748.8,445.4 L755.0,444.1 L761.2,442.2 L768.8,441.0 L777.5,440.0 L786.2,439.1 L793.8,439.1 L792.5,442.2 L790.0,445.4 L786.9,448.5 L782.5,451.0 L775.0,450.8 L767.5,449.8 L761.2,449.1 L755.0,448.8 L751.2,447.5Z M691.2,375.5 L696.2,377.2 L701.2,381.0 L702.0,385.5 L698.8,382.2 L695.0,379.0Z" fill="#0070ff" stroke="#0070ff" stroke-width="0.6" stroke-linejoin="round"/>

<path d="M105.0,136.5 L117.5,139.8 L128.8,141.5 L131.2,147.2 L135.0,153.0 L127.5,158.5 L125.5,166.0 L116.2,169.8 L115.5,176.0 L121.2,179.0 L125.5,182.2 L127.0,189.8 L132.5,195.5 L145.0,194.8 L153.8,195.5 L156.2,198.5 L152.5,200.5 L140.0,199.0 L127.5,200.5 L118.8,202.2 L115.5,209.8 L110.0,217.2 L105.0,222.2 L95.0,226.0 L85.0,229.8 L77.5,233.0 L70.0,232.2 L63.8,236.0 L60.8,240.5 M135.0,153.0 L145.0,151.0 L160.0,149.0 L172.5,147.2 L185.0,145.5 L195.0,141.5 L210.0,139.0 L222.5,138.5 L235.0,137.2 M127.0,184.8 L133.8,181.0 L139.5,178.5 M60.8,249.8 L61.2,253.5 M62.5,266.5 L68.0,266.5 M329.5,246.0 L320.0,246.0 L310.0,243.0 L297.5,240.5 L290.0,236.0 L280.0,233.0 L265.0,231.8 L250.0,234.0 L235.0,237.2 L230.0,238.0 L220.0,239.0 L210.0,240.5 L196.2,241.5 L185.0,244.8 L180.0,249.8 L177.5,256.0 L177.0,263.5 L180.0,268.5 L183.0,274.8 L186.2,279.8 L191.2,284.8 L195.0,289.8 L195.0,296.0 L192.5,302.2 L188.8,308.5 L188.0,314.8 L190.0,321.0 L189.5,327.2 L193.8,331.0 L196.2,336.0 L195.0,339.8 L192.0,343.0 M61.2,313.5 L65.0,318.5 L71.2,324.8 L78.8,329.8 L85.0,334.8 L92.5,339.8 L100.0,344.8 L105.0,351.0 L104.5,357.2 L101.2,363.5 L97.5,369.8 M509.5,136.5 L508.8,142.2 L503.8,147.2 L500.0,151.0 L498.0,156.0 L493.8,159.8 L492.5,166.0 L490.0,171.5 L480.0,173.5 L472.5,174.8 L467.0,179.8 L466.2,186.0 L468.8,192.2 L465.0,198.5 L457.5,204.0 L450.0,207.2 L443.8,209.8 L437.5,213.5 L428.8,216.0 L420.0,216.5 L415.0,221.0 L413.8,227.2 L416.2,233.5 L417.0,239.0 M398.8,232.2 L401.2,234.8 L402.5,238.5 L410.0,239.8 M367.0,166.5 L367.0,171.0 L361.2,174.8 L360.0,181.0 L362.5,186.0 L360.0,189.8 L358.8,196.0 L360.0,201.0 L355.0,206.0 L356.2,211.0 L359.5,216.0 L357.0,222.2 L353.8,228.5 L350.0,234.8 L351.2,241.0 L346.2,245.5 L337.5,248.0 L330.0,248.5 M400.0,359.2 L405.0,362.2 L415.0,361.0 L420.5,364.0 L422.5,369.8 L430.0,371.0 L437.5,369.0 L442.5,371.5 L447.5,369.8 L455.0,371.5 L462.5,370.5 L467.5,371.0 L474.5,375.5 M714.5,136.5 L707.5,140.5 L697.5,143.5 L687.5,147.2 L677.5,152.2 L681.2,158.0 L687.5,162.2 L696.2,166.5 L705.0,169.0 L713.8,173.5 L720.0,179.8 L723.8,184.8 L730.0,191.0 L736.2,197.2 L742.5,203.0 L750.0,204.8 L756.2,208.5 L761.2,213.5 L765.0,221.0 L770.0,228.5 L776.2,231.0 L778.8,236.5 L785.0,239.0 L791.2,244.0 L795.0,249.8 L802.5,254.8 L810.0,258.5 L817.5,258.0 L825.0,259.8 L832.5,261.5 L842.5,264.0 L855.0,264.8 L870.5,264.8 M870.5,179.8 L866.2,181.0 L865.5,184.8 L869.5,187.8 M925.5,137.2 L920.0,144.8 L910.0,148.0 L902.5,149.8 L900.5,157.2 L905.5,160.5 L904.5,164.8 L895.0,168.5 L882.5,173.0 L872.5,177.2 L866.2,181.0 L867.0,185.5 L875.0,187.2 L885.0,188.5 L895.0,194.8 L910.0,194.8 L922.5,194.8 L924.5,199.8 L919.5,204.0 L920.0,211.0 L921.2,218.5 L930.0,219.8 L942.5,218.0 L957.5,217.2 L968.8,218.0 L970.5,224.8 L968.0,232.2 L972.5,238.5 L977.5,247.2 L983.8,256.0 L988.8,262.2 L990.0,266.5 L985.0,268.5 L975.0,268.0 L965.0,267.2 L960.8,271.0 L961.2,276.0 L966.2,280.5 L975.0,281.5 L980.0,281.0 M809.5,258.5 L817.5,257.2 L827.5,259.8 L840.0,263.0 L855.0,264.0 L870.0,264.8 L880.0,268.5 L890.0,271.0 L900.0,275.5 L910.0,280.5 L920.0,283.5 L927.5,287.2 L935.0,291.5 L927.5,294.0 L920.0,296.0 L915.0,299.8 L914.5,306.0 L917.5,311.0 L921.2,315.5 M938.8,323.5 L950.0,320.5 L962.5,318.5 L975.0,320.5 L987.5,321.5 L997.5,326.0 L1007.5,329.8 L1020.0,334.8 M468.8,376.0 L475.0,379.0 L485.0,386.0 L497.5,388.5 L507.5,392.2 L517.5,398.5 L525.0,403.5 L530.0,409.8 L542.5,409.8 L550.0,417.2 L555.0,424.8 L561.2,431.0 L567.5,436.0 L568.8,448.5 L563.8,461.0 L562.5,472.2 L566.2,474.8 L576.2,477.2 L582.5,482.2 L587.5,487.2 L588.8,494.8 L593.8,497.2 L600.5,494.8 M370.0,409.0 L363.8,414.8 L358.0,422.2 L360.0,429.8 L362.0,438.5 L366.2,444.0 L377.5,448.5 L387.5,454.8 L397.5,462.2 L407.5,469.8 L412.5,473.0 L422.5,476.0 L425.0,481.0 L430.0,489.8 L435.0,498.5 L441.2,506.5 L450.0,513.5 L460.0,519.8 L470.0,526.0 L475.0,533.5 L482.5,541.0 L492.5,544.8 L500.0,549.8 L505.0,554.0 L512.5,556.5 L522.5,561.0 L530.0,561.0 L545.0,564.0 L557.5,567.2 L561.2,569.5 L570.0,567.5 L580.0,563.8 L590.0,562.5 L595.0,558.8 L600.5,556.2 M725.6,468.8 L718.8,468.8 L711.2,468.5 L706.2,469.8 L701.2,468.8 L698.1,466.2 L697.5,462.5 L693.8,460.6 L688.8,460.0 L682.5,460.6 L677.5,460.2 L672.5,459.8 L669.4,461.9 L666.2,465.0 L661.9,467.2 L659.4,470.0 L658.1,473.8 L655.0,476.9 L651.2,478.8 L646.2,480.6 L640.0,481.2 L633.8,482.5 L627.5,484.4 L623.8,486.9 L618.8,488.8 L615.0,492.5 L608.8,493.8 L602.5,494.4 L597.5,495.0 L593.8,496.9 L589.4,496.5 M724.4,468.5 L731.2,469.1 L737.5,469.8 L743.8,468.2 L750.0,467.0 L757.5,467.2 L765.0,467.9 L772.5,467.0 L780.0,466.0 L785.0,464.1 L788.8,461.6 L792.5,459.8 L792.5,457.9 L788.8,457.5 L784.8,458.5 M725.6,601.2 L720.0,600.6 L716.2,599.4 L715.0,596.9 L713.8,601.2 L710.0,603.8 L705.0,605.6 L698.8,605.0 L693.8,603.8 L688.8,603.1 L684.4,603.8 L683.1,607.5 L682.5,610.6 L678.8,613.1 L675.6,616.2 L675.0,619.4 L672.5,623.1 L671.9,627.5 L673.1,632.5 L671.2,636.2 L667.5,637.5 L662.5,638.8 L658.1,641.9 L654.4,645.0 L652.5,650.0 L648.8,652.5 L646.9,656.9 L646.9,660.2 M724.4,601.0 L730.0,602.2 L733.8,606.0 L741.2,607.2 L743.8,611.0 L750.0,616.2 M60.3,669.2 L64.2,668.3 L66.7,671.7 L73.0,671.7 M60.8,678.3 L60.8,681.7 M62.0,686.7 L63.3,693.3 L65.8,699.2 L70.0,702.0 L69.2,705.0 L65.8,705.3 L61.7,704.2 L66.7,706.7 L72.5,709.5 M600.5,768.5 L592.5,772.2 L585.0,779.8 L576.2,782.2 L568.8,788.5 L565.0,797.2 L558.8,806.0 L562.5,816.0 L568.8,822.2 L571.2,829.8 L566.2,838.5 L565.0,846.0 L561.2,856.5 M645.5,660.5 L638.8,669.8 L635.0,681.0 L630.0,689.8 L626.2,699.8 L627.5,712.2 L627.0,723.5 L627.5,731.0 L623.8,741.0 L623.8,752.2 L615.0,754.8 L607.5,761.0 L599.5,769.0 M748.8,614.8 L750.0,621.0 L760.0,626.0 L772.5,632.2 L782.5,638.5 L790.0,646.0 L797.5,652.2 L807.5,656.0 L816.2,658.5 L821.2,662.2 L823.8,669.8 L830.0,673.5 L840.0,672.2 L852.5,673.0 L861.2,674.8 L865.0,681.0 L863.8,688.5 L865.0,694.8 L870.5,697.2 M832.5,708.5 L832.5,716.0 L826.2,717.2 L820.0,722.2 L810.0,723.5 L800.0,726.0 L793.8,733.5 L790.0,739.8 L792.5,748.5 L792.5,756.0 L796.2,766.0 L802.5,772.2 L810.0,776.0 L818.8,779.8 L825.0,787.2 L833.8,793.5 L840.0,802.2 L847.5,809.8 L852.5,817.2 L860.0,819.8 L867.5,824.8 L870.5,828.5 M870.5,697.2 L876.0,696.8 M882.5,718.5 L892.5,719.8 L902.5,721.5 L910.0,726.0 L920.0,731.0 L927.5,734.8 L931.2,739.8 L938.8,740.5 L940.0,745.5 L946.2,747.2 L953.8,745.5 L965.0,747.2 L975.0,747.2 L985.0,748.5 L997.5,749.8 L1010.0,749.8 L1015.0,744.8 L1020.0,744.8 M870.5,828.5 L872.5,831.0 L880.0,836.0 L890.0,838.5 L896.2,838.0 L901.2,841.0 L907.5,836.0 L908.8,831.5 L912.5,833.5 L917.5,830.5 L925.0,831.0 L931.2,826.5 L937.5,828.0 L945.0,827.2 L952.5,828.5 L960.0,832.2 L966.2,831.5 L975.0,835.5 L982.5,837.2 L985.0,833.5 L988.8,838.0 L997.5,837.2 L1005.0,834.8 L1010.0,838.0 L1015.0,839.8 L1017.5,847.2 L1020.0,853.0 M561.2,856.5 L558.8,860.0 L553.8,863.0" fill="none" stroke="#0070ff" stroke-width="1.9" stroke-linejoin="round" stroke-linecap="round"/>
<path d="M133.0,153.0 L145.0,150.5 L155.0,149.0 M125.5,166.0 L116.2,169.8 L115.5,176.0 M120.0,203.5 L115.5,209.8 L111.2,215.5" fill="none" stroke="#0070ff" stroke-width="2.2" stroke-linejoin="round" stroke-linecap="round"/>
<path d="M276.9,813.5 L278.8,814.5" fill="none" stroke="#0070ff" stroke-width="1.5" stroke-linejoin="round" stroke-linecap="round"/>
<path d="M820.0,659.0 L824.2,669.0" fill="none" stroke="#0070ff" stroke-width="2.5" stroke-linejoin="round" stroke-linecap="round"/>
<path d="M557.5,866.0 L563.8,867.0" fill="none" stroke="#0070ff" stroke-width="2" stroke-linejoin="round" stroke-linecap="round"/>

<path d="M329.5,249.8 L325.0,252.2 L320.0,251.5 L316.2,248.5 L310.0,247.2 L305.0,249.0 L300.0,248.5 L295.0,251.5 L290.0,256.0 L281.2,259.2 L275.0,257.8 L270.0,255.5 L266.2,252.2 L260.0,253.0 L258.8,258.5 L255.0,260.5 L252.5,257.2 L255.0,253.0 L250.0,251.5 L245.0,247.2 L238.8,244.0 L232.5,241.0 L230.0,238.0 L220.0,238.5 L211.2,238.5 L207.5,234.8 L205.0,233.0 L195.0,234.8 L190.0,238.0 L182.5,238.0 L180.0,235.5 L171.2,234.8 L168.8,232.8 L163.8,236.0 L161.2,241.0 L156.2,243.5 L150.0,244.8 L143.8,247.2 L138.8,249.8 L137.5,253.5 L132.5,254.8 L127.5,257.2 L120.0,258.5 L121.2,263.5 L123.8,268.5 L125.5,273.0 L120.0,276.0 L113.8,276.0 L108.8,272.2 L103.8,267.2 L97.5,263.5 L91.2,264.8 L89.5,269.8 L87.5,273.5 L81.2,276.0 L80.0,281.0 L78.8,286.0 L82.5,289.8 L83.8,293.5 L78.8,297.2 L76.2,302.2 L72.0,307.2 L77.5,309.8 L83.8,313.5 L86.2,319.8 L91.2,324.8 L100.0,323.5 L108.8,324.8 L113.8,329.8 L120.0,332.2 L122.5,338.5 L127.5,343.5 L128.0,347.2 L123.8,348.5 L118.0,348.5 L122.5,351.5 L132.5,356.0 L142.5,362.2 L152.5,367.2 L147.5,371.0 L140.0,375.5 M329.5,249.8 L330.0,246.5 L340.0,247.2 L346.2,248.5 L347.5,252.2 L353.8,256.0 L362.5,257.8 L368.8,258.5 L372.5,260.2 L377.5,258.5 L381.2,253.0 L385.0,256.5 L392.5,258.0 L402.5,257.2 L412.5,254.8 L415.0,249.8 L417.5,244.0 L413.8,241.0 L405.0,239.0 L400.0,236.0 L391.2,234.8 L388.8,231.0 L381.2,228.5 L387.5,224.8 L396.2,223.0 L403.8,219.8 L401.2,216.0 L396.2,210.5 L402.5,206.0 L410.0,203.5 L420.0,203.0 L428.8,203.0 L426.2,200.5 L417.5,198.5 L410.0,196.0 L406.2,193.0 L413.8,194.0 L416.2,192.2 L412.5,190.5 L406.2,191.5 L401.2,188.5 L406.2,186.0 L402.5,183.5 L408.8,180.5 L416.2,182.2 L425.0,181.0 L432.5,180.5 L437.5,183.5 L442.5,179.8 L452.5,178.0 L465.0,176.0 L477.5,174.2 L490.0,172.8 L495.0,173.5 L498.8,173.0 L500.0,168.5 L505.0,167.2 L511.2,168.0 L515.0,166.0 L520.0,167.2 L530.0,165.5 L542.5,163.5 L552.5,161.8 L557.5,159.8 L563.8,159.0 L567.5,156.5 L573.8,153.5 L580.0,151.0 L585.0,148.5 L590.0,150.5 L600.5,150.5 M599.5,150.5 L605.0,153.0 L611.2,155.5 L615.0,153.5 L621.2,152.2 L627.5,153.0 L631.2,157.2 L631.2,163.5 L636.2,165.5 L637.5,168.5 L632.5,172.2 L631.2,174.8 L636.2,178.5 L646.2,178.0 L651.2,176.0 L656.2,173.0 L660.0,176.0 L662.5,181.0 L667.5,182.2 L675.0,180.5 L682.5,182.2 L688.8,181.5 L692.5,180.5 L693.0,183.5 L687.5,185.5 L683.8,188.0 L683.8,191.0 L687.5,193.5 L695.0,190.5 L702.5,190.5 L707.5,193.5 L711.2,189.0 L720.0,187.2 L727.5,183.5 L735.0,179.8 L742.5,178.0 L750.0,175.5 L755.0,174.0 L761.2,173.5 L765.0,171.0 L765.5,175.5 L760.0,178.0 L756.2,179.0 L757.5,182.2 M837.5,255.5 L841.2,253.0 L846.2,251.5 L847.5,246.0 L852.5,243.0 L860.0,245.5 L862.5,249.8 L867.5,251.0 L870.5,254.8 M838.0,255.5 L841.2,253.0 L846.2,251.5 L847.5,246.0 L852.5,243.0 L860.0,245.5 L862.5,249.8 L867.5,251.0 L870.0,255.5 L880.0,254.8 L890.0,254.0 L897.5,255.5 L900.0,252.2 L910.0,249.8 L920.0,251.5 L927.5,256.5 L932.5,261.0 L933.8,266.0 L940.0,268.5 L948.8,271.0 L953.8,277.2 L957.5,282.2 L967.5,283.0 L973.8,284.8 L980.0,282.2 L985.0,278.5 L988.8,277.2 L990.5,280.5 L987.5,283.0 L992.5,287.2 L996.2,290.5 L1002.5,292.2 L1007.5,293.0 L1013.8,291.5 L1020.0,292.2 M996.2,290.5 L991.2,294.8 L990.0,299.8 L985.0,304.8 L976.2,308.0 L967.5,309.8 L963.8,316.0 L963.0,323.5 L965.0,329.8 L966.2,336.0 L960.0,339.8 L952.5,343.0 L945.0,344.8 L942.5,341.0 L932.5,341.5 L922.5,340.5 L913.8,338.0 L907.5,335.5 L903.8,341.0 L900.0,348.5 L896.2,356.0 L892.5,363.5 L888.8,371.0 L890.0,376.5 M1012.5,296.0 L1016.2,299.8 L1020.0,301.0 M1019.0,291.0 L1017.5,296.0 M146.2,439.8 L135.0,447.2 L125.0,453.5 L117.5,458.5 L113.8,464.8 L106.2,472.2 L98.8,469.8 L91.2,463.5 L83.8,459.8 L75.0,456.5 L67.5,454.8 L60.0,454.8 M67.5,461.0 L73.8,463.5 L77.0,469.8 L71.2,474.8 L60.0,473.5 M181.2,473.0 L200.0,464.8 L210.0,458.5 L220.0,452.2 L235.0,448.5 L247.5,448.5 L257.5,452.2 L265.0,458.5 L271.2,467.2 L277.5,472.2 L290.0,471.0 L312.5,471.5 L315.0,470.0 L312.0,468.0 M180.0,532.2 L170.0,534.8 L157.5,538.5 L145.0,540.5 L132.5,539.0 L122.5,536.0 L113.8,529.8 L106.2,527.2 L113.8,522.2 L114.5,514.8 L107.5,509.8 L97.5,511.0 L87.5,516.0 L77.5,522.2 L70.0,526.0 L60.0,527.2 M60.0,508.5 L70.0,511.0 L72.5,518.5 L67.5,521.0 L62.5,522.2 M267.5,549.0 L277.5,546.0 L290.0,544.8 L300.0,541.0 L310.0,542.2 L316.2,539.8 L321.2,547.2 L330.5,548.5 M311.9,468.1 L311.9,463.8 L310.6,460.0 L311.9,456.9 L315.0,454.4 L318.8,451.9 L323.8,450.6 L328.1,451.2 L331.2,450.0 L332.5,445.0 L335.0,443.1 L339.4,444.4 L338.1,440.6 L341.9,439.4 L345.6,441.2 L348.1,436.9 L351.9,440.0 L355.6,442.8 L360.6,443.1 L363.8,446.9 L366.9,449.0 L373.8,448.5 L378.1,449.4 L379.0,449.8 M338.1,440.6 L341.2,444.4 L343.8,447.5 L346.2,449.4 M381.2,458.8 L385.0,459.8 L386.9,460.6 M378.8,449.0 L381.2,453.5 L386.2,461.0 L381.2,462.2 L383.8,468.5 L390.0,472.2 L402.5,472.2 L410.0,473.0 L415.0,471.5 L422.5,475.5 L425.0,481.0 L430.0,488.0 L435.0,493.5 L436.2,499.0 L441.2,504.8 L450.0,511.0 L460.0,517.2 L470.0,523.5 L480.0,526.0 L490.0,531.0 L502.5,538.0 L512.5,541.5 L522.5,544.0 L531.2,547.2 L530.0,554.0 L528.8,560.5 M329.5,548.5 L340.0,551.0 L347.5,554.8 L357.5,554.8 L365.0,559.8 L368.8,566.0 L376.2,567.2 L383.8,572.2 L388.8,577.2 L400.0,578.0 L407.5,579.8 L406.2,588.5 L408.8,596.0 L407.5,601.0 L405.0,608.5 L404.5,616.5 M408.8,601.0 L415.0,604.8 L423.8,606.0 L432.5,611.0 L440.0,607.2 L448.8,604.8 L452.5,596.0 L461.2,593.5 L470.0,590.5 L480.0,587.2 L485.0,583.5 L486.2,576.0 L488.8,566.0 L496.2,563.5 L505.0,562.2 L508.8,558.0 L515.0,559.8 L522.5,561.5 L528.8,560.5 L537.5,560.5 L545.0,563.5 L551.2,562.2 L557.5,563.5 M557.5,563.5 L558.8,556.0 L565.0,551.0 L571.2,546.0 L572.5,541.0 L566.2,536.0 L565.0,528.5 L567.5,523.5 L560.0,521.0 L551.2,518.5 L548.8,513.5 L556.2,509.8 L567.5,509.8 L576.2,511.0 L578.8,503.5 L580.0,498.5 L573.8,498.0 L585.0,496.0 L592.5,493.5 L591.2,487.2 L595.0,483.5 L600.5,484.8 M557.5,563.5 L561.2,569.0 L570.0,567.2 L580.0,563.5 L590.0,562.2 L595.0,558.5 L600.5,556.0 M600.5,498.5 L593.8,501.0 L592.5,507.2 L596.2,511.0 L600.5,511.0 M589.4,468.1 L595.0,467.5 L600.0,463.8 L606.2,461.2 L610.6,460.0 L614.4,456.2 L617.5,452.2 L620.0,454.4 L623.8,451.9 L627.5,448.1 L630.0,443.1 L633.8,441.2 L637.5,438.1 L642.5,436.5 L650.0,436.2 L656.2,437.5 L661.2,438.8 L667.5,440.6 L672.5,442.5 L678.8,443.1 L683.8,445.0 L687.5,445.6 L685.6,441.9 L687.5,437.5 L688.8,432.5 L693.8,430.0 L698.8,428.5 L703.8,426.5 L708.8,427.8 L713.8,430.6 L720.0,433.1 L725.6,434.8 M623.8,451.9 L628.8,450.0 L633.8,449.0 L636.9,451.2 L632.5,453.5 L628.8,456.2 L623.8,459.4 L618.8,462.5 L614.4,463.8 L612.5,465.6 L615.0,467.5 L621.2,468.1 L625.0,470.0 L627.5,473.1 L632.5,474.4 L636.2,475.0 L640.0,474.8 L641.2,471.9 L645.0,470.6 L646.9,467.2 L648.8,469.4 L651.2,471.9 L653.8,474.4 L658.1,475.0 L660.0,477.5 L664.4,477.2 L667.5,480.0 L671.2,481.9 L676.2,481.2 L678.8,482.5 L675.6,484.4 L672.5,486.2 L668.8,488.1 L665.0,488.1 L662.5,491.2 L661.9,488.1 L658.1,490.0 L655.0,491.9 L651.9,495.0 L648.1,497.5 L645.0,495.6 L640.0,494.4 L636.2,493.8 L632.5,494.8 L630.0,496.2 L626.2,496.9 L623.1,498.1 L621.2,495.0 L616.9,491.9 L620.0,488.8 L623.8,486.9 L625.6,485.0 L623.8,481.2 L621.9,478.5 L618.8,477.5 L617.5,480.6 L612.5,482.2 L607.5,484.4 L602.5,486.2 L598.8,485.0 L595.0,483.1 L592.5,485.0 L591.9,490.0 L593.1,493.1 L589.4,493.8 M623.1,498.1 L620.0,501.2 L622.5,505.0 L625.6,503.8 L623.8,500.6 M631.2,497.5 L633.1,501.2 L635.6,503.1 M593.1,500.0 L591.9,505.0 L593.8,509.4 L598.8,510.6 L605.0,510.0 L611.2,509.4 L617.5,510.0 L623.8,511.9 L627.5,513.8 L633.8,512.5 L640.0,511.2 L645.0,513.1 L648.8,516.2 L653.8,516.9 L658.8,518.8 L662.5,516.9 L670.0,515.6 L677.5,515.0 L685.0,513.8 L691.2,513.1 L696.2,512.5 L696.9,507.5 L695.6,505.0 L698.8,501.2 L703.8,498.8 L708.8,496.2 L713.8,495.0 L717.5,492.5 L720.0,490.0 L725.6,488.8 M593.1,500.0 L597.5,496.9 L602.5,496.2 L608.8,495.6 L613.1,496.9 L616.9,499.4 L620.0,501.2 M691.2,513.1 L690.0,517.5 L692.5,521.2 L694.4,526.2 L696.2,531.2 L698.8,533.8 L702.5,531.9 L708.8,530.0 L715.0,531.2 L718.8,535.6 L716.9,540.0 M724.4,435.4 L730.0,436.6 L736.2,436.2 L741.2,433.8 L747.5,434.5 L753.8,434.8 L761.2,433.8 L766.2,432.5 L772.5,433.2 L780.0,433.8 L787.5,434.5 L795.0,434.8 L801.2,434.5 L806.2,436.2 L812.5,437.2 L817.5,437.9 L820.0,441.0 L823.8,443.5 L827.5,444.8 L833.8,445.4 L837.5,447.9 L840.0,450.4 L842.5,451.6 L841.2,447.2 L839.4,442.2 L841.2,438.5 L845.0,435.4 L848.8,434.8 L845.6,431.6 L850.0,429.8 L853.8,427.9 L853.1,422.2 L851.2,417.2 L848.8,412.2 L846.9,407.2 L845.6,402.2 L844.4,397.2 L846.2,392.9 L842.5,390.8 L837.5,390.4 L833.1,389.1 L836.2,387.2 L841.2,385.0 L847.5,383.8 L853.8,382.9 L860.6,381.6 M842.5,451.6 L837.5,454.1 L832.5,456.0 L830.0,458.5 L825.0,459.1 L820.0,459.8 L815.0,462.2 L810.0,464.8 L805.0,467.2 L800.0,469.8 L798.8,472.9 L796.2,475.4 L793.1,477.5 L787.5,477.9 L781.2,477.5 L775.0,477.9 L770.0,476.6 L765.0,477.9 L762.5,481.0 L760.6,484.8 L757.5,488.5 L753.8,491.0 L748.8,492.9 L742.5,493.5 L738.8,492.9 L736.9,488.5 L735.0,486.0 L731.2,488.5 L727.5,490.4 L724.4,491.6 M589.4,566.9 L594.4,565.6 L593.8,560.6 L596.9,556.9 L602.5,555.6 L608.8,556.0 L613.1,555.6 L615.0,552.5 L611.9,548.8 L615.0,545.6 L620.0,541.9 L623.1,539.4 M637.5,539.4 L636.9,544.4 L640.0,547.5 L643.8,548.8 L643.1,553.8 L641.9,558.8 L641.2,565.0 L641.9,570.6 L645.0,575.6 L650.0,577.2 L655.0,575.6 L660.0,572.5 L666.2,570.0 L671.2,566.2 L677.5,562.5 L683.8,559.4 L691.2,559.4 L693.8,563.1 L698.8,563.1 L705.0,560.6 L712.5,560.0 L717.2,561.9 L718.6,564.8 M645.0,581.2 L651.2,579.4 L657.5,576.2 L663.8,574.4 L670.0,573.1 L677.5,572.2 L685.0,572.8 L692.5,573.1 L696.2,573.8 L700.0,571.2 L706.2,570.0 L711.2,568.1 L716.2,569.4 L721.2,570.6 L725.6,570.0 M696.9,576.2 L690.0,575.6 L681.2,575.6 L677.5,577.5 L675.0,581.2 L671.2,583.8 L666.2,586.9 L665.6,591.2 L666.9,595.0 L671.2,595.6 L677.5,596.2 L680.0,599.4 L685.0,601.9 L692.5,603.1 L695.0,604.4 L691.9,608.1 L696.2,610.0 L701.2,612.5 L700.0,616.2 L696.2,618.8 L692.5,621.2 L690.0,624.4 L685.6,625.6 L685.0,629.4 L687.5,633.8 L688.8,640.0 L689.4,646.2 L690.0,652.5 L692.5,657.5 L696.2,660.2 M645.0,581.2 L640.0,586.2 L636.2,591.2 L640.0,593.8 L643.1,598.8 L645.6,605.0 L643.8,608.8 L646.2,611.2 L642.5,615.0 L638.8,618.1 L633.8,622.5 L630.6,626.2 L634.4,630.0 L633.8,635.6 L628.8,638.1 L621.2,638.8 L613.8,638.1 L606.2,636.9 L604.4,638.8 L607.5,642.5 L612.5,645.6 L611.9,648.8 L615.0,651.9 L613.1,655.0 L608.8,657.5 L602.5,658.1 L596.2,660.2 M716.2,539.4 L718.8,545.0 L721.2,551.2 L719.6,555.2 L721.0,557.5 L724.2,559.5 L725.1,562.2 L721.9,563.8 L718.6,564.8 M718.6,564.8 L712.5,563.8 L710.6,565.6 L711.9,567.2 M623.1,539.4 L627.5,537.2 L632.5,537.2 L637.5,539.4 M724.4,568.5 L728.8,570.4 L731.9,574.1 L737.5,574.8 L741.9,577.2 L744.4,581.0 L745.0,586.0 L743.8,589.8 L746.9,593.5 L751.2,595.4 L756.9,595.4 L758.8,597.9 L763.8,600.4 L768.8,602.2 L775.0,604.1 L781.2,604.1 L787.5,603.5 L791.9,602.9 M859.5,381.8 L867.5,379.8 L875.0,378.5 L882.5,381.5 L890.0,383.0 L895.0,382.2 L896.2,377.2 L894.5,375.2 M60.8,597.5 L68.3,597.0 L62.5,599.2 L61.7,604.2 L64.7,607.5 L65.0,610.8 L62.5,613.3 L60.3,614.2 M60.3,650.8 L64.2,655.0 L62.0,658.3 L65.0,662.0 L70.8,662.0 L73.0,663.7 M60.3,749.5 L73.3,749.5 M405.0,612.2 L402.5,623.5 L397.5,627.2 L391.2,634.8 L393.8,643.5 L400.0,649.8 L393.8,657.2 L396.2,666.0 L398.8,676.0 L397.5,687.2 L400.0,695.5 L410.0,696.5 L418.8,698.5 L422.0,704.8 L418.8,713.5 L412.5,721.0 L406.2,727.2 L401.2,732.2 M401.2,732.2 L412.5,736.5 L430.0,741.5 L447.5,740.5 L462.5,739.8 L475.0,741.5 L490.0,739.0 L505.0,738.0 L517.5,735.5 L523.8,732.2 L523.8,723.5 L523.0,714.8 L527.5,707.2 L535.0,701.0 L542.5,699.8 L552.5,698.5 L556.2,696.0 L565.0,689.8 L575.0,688.5 L582.5,692.2 L590.0,688.5 L592.5,679.8 L591.2,672.2 L595.0,664.8 L600.5,659.8 M401.2,732.2 L408.8,741.0 L413.8,751.0 L421.2,759.8 L430.0,763.5 L440.0,767.2 L443.8,773.5 L445.0,783.5 L443.8,792.2 L452.5,793.0 L455.0,798.5 L453.8,805.5 L442.5,807.2 L432.5,809.8 L423.8,814.8 L421.2,823.5 L417.5,831.0 L418.0,839.8 M329.5,828.5 L340.0,829.8 L350.0,831.0 L362.5,833.0 L375.0,834.8 L387.5,835.5 L391.2,833.5 L395.0,837.2 L405.0,839.8 L412.5,841.5 L418.0,839.8 L421.2,842.2 L430.0,838.5 L440.0,837.2 L452.5,838.5 L465.0,837.2 L470.0,833.0 L476.2,834.8 L485.0,837.2 L495.0,836.0 L505.0,834.8 L517.5,833.0 L522.5,829.8 L528.8,831.5 L532.5,838.5 L533.8,846.0 L541.2,848.5 L550.0,849.8 L552.5,856.5 M600.5,793.5 L596.2,796.0 L596.2,802.2 L600.5,804.8 M696.2,660.0 L707.5,664.8 L715.0,666.0 L716.2,672.2 L725.0,674.0 L732.5,676.0 L736.2,673.5 L743.8,669.8 L742.5,663.5 L750.0,661.0 L756.2,657.2 L762.5,658.5 L770.0,662.2 L777.5,664.8 L785.0,662.2 L790.0,666.0 L797.5,668.5 L802.5,667.2 L807.5,669.8 L812.5,674.8 M732.5,676.0 L725.0,681.5 L717.5,686.0 L711.2,691.0 L713.8,698.5 L712.5,704.8 L705.0,712.2 L697.5,719.8 L697.5,724.8 L686.2,730.5 L682.5,739.8 L677.5,748.5 L670.0,753.5 L661.2,759.8 L657.5,767.2 L651.2,776.0 L640.0,778.5 L627.5,781.0 L622.5,776.0 L618.8,774.8 L611.2,779.8 L605.0,787.2 L599.5,792.2 M861.2,727.2 L852.5,731.0 L846.2,736.0 L843.8,743.5 L841.2,749.8 L837.5,753.5 L843.8,758.5 L850.0,761.0 L857.5,764.8 L865.0,769.8 L870.5,772.2 M599.5,806.0 L610.0,807.2 L611.2,814.8 L610.0,821.0 L615.0,827.2 L622.5,828.5 L625.0,836.0 L630.0,843.5 L632.5,851.0 L631.2,856.5 M790.9,602.4 L797.7,598.8 L806.6,593.5 L813.3,593.5 L821.7,592.5 L826.9,597.2 L833.1,601.4 L837.8,605.5 L841.5,602.9 L844.1,605.0 L842.5,609.7 L840.4,615.4 L838.9,620.6 L834.2,622.7 L831.0,625.8 L829.0,627.9 L825.3,627.4 L825.8,632.1 L823.8,637.3 L817.5,637.5 L811.8,637.3 L811.2,640.4 L813.3,643.5 L814.9,646.7 L811.2,647.7 L810.2,650.8 L812.3,652.9 L815.4,656.0 L818.0,657.6 L821.7,657.1 L822.7,660.2 L821.7,663.3 L823.8,666.5 L825.8,669.6 L822.7,671.7 L819.6,672.2 L816.5,674.8 L813.3,675.8 L810.2,673.8 L807.6,669.6 L804.0,668.5 L800.8,670.6 L798.8,669.6 M790.9,602.4 L790.4,607.1 L792.0,612.3 L794.6,617.5 L796.7,621.7 L800.8,624.8 L806.0,626.9 L811.2,629.0 L814.4,631.0 L812.3,634.2 L806.0,635.7 L806.6,639.4 L808.1,642.5 L806.6,645.6 L808.1,649.8 L812.3,652.9 M818.0,657.6 L817.5,661.2 L819.1,664.4 L819.6,668.5 L820.1,671.7 M870.5,773.0 L881.2,778.0 L892.5,780.5 L900.0,786.0 L912.5,788.5 L922.5,788.0 L931.2,786.8 L941.2,789.8 L942.5,796.0 L950.0,799.8 L960.0,802.2 L966.2,801.5 L970.0,806.0 L980.0,807.2 L990.0,809.8 L997.5,808.5 L1005.0,811.0 L1015.0,810.5 L1020.0,811.5 M1019.5,790.5 L1019.5,796.5" fill="none" stroke="#000" stroke-width="2.0" stroke-linejoin="round" stroke-linecap="round"/>
<path d="M757.5,182.2 L765.0,185.5 L775.0,189.8 L783.8,194.0 L792.5,200.5 L800.0,208.5 L807.5,217.2 L815.0,226.0 L822.5,236.0 L830.0,246.0 L837.5,255.5" fill="none" stroke="#000" stroke-width="1.25" stroke-linejoin="round" stroke-linecap="round"/>
<path d="M140.0,376.0 L132.5,382.2 L122.5,393.0 L127.5,401.0 L131.2,413.5 L137.5,424.8 L146.2,438.5 L157.5,449.8 L170.0,462.2 L181.2,473.0 L187.5,481.0 L190.0,493.5 L189.5,508.5 L187.5,517.2 L181.2,526.0 L180.0,532.2 L188.8,541.0 L197.0,549.8" fill="none" stroke="#000" stroke-width="1.9" stroke-linejoin="round" stroke-linecap="round"/>
<path d="M288.8,471.0 L288.8,386.5 L310.0,381.5 L330.5,377.2 M292.5,818.5 L291.9,823.5 L293.8,827.2 L295.0,823.5 L295.0,819.1" fill="none" stroke="#000" stroke-width="1.3" stroke-linejoin="round" stroke-linecap="round"/>
<path d="M329.5,377.2 L340.0,374.8 L348.8,376.0 L360.0,382.2 L375.0,389.8 L390.0,397.2 L405.0,402.2 L415.0,411.0 L426.2,421.5 L440.0,419.8 L455.0,418.5 L470.0,418.0 L485.0,417.2 L496.2,414.8 L500.0,419.8 L508.8,426.0 L512.5,434.0 L518.8,434.0 L519.5,446.0 L516.2,448.5 L517.0,456.5 L528.8,458.0 L530.0,472.2 L542.5,473.0 L557.5,473.5 L563.8,476.0 L566.2,481.0 L563.8,484.0 L570.0,487.2 L575.0,486.0 L576.2,479.8 L582.5,474.8 L590.0,468.5 L600.5,463.5" fill="none" stroke="#000" stroke-width="1.7" stroke-linejoin="round" stroke-linecap="round"/>
<path d="M647.5,501.2 L648.8,502.5 M61.7,597.0 L68.0,597.0 M470.0,834.0 L476.2,835.0 M521.2,831.0 L528.8,832.0" fill="none" stroke="#000" stroke-width="2.5" stroke-linejoin="round" stroke-linecap="round"/>
<path d="M276.9,802.2 L280.0,798.5 L285.0,796.6 L291.2,793.5 L298.8,792.9 L305.0,793.5 L310.0,796.6 L312.5,802.2 L313.1,808.5 L315.0,814.8 L316.9,821.0 L318.8,826.0 L325.0,826.0 L330.6,827.2 M277.5,801.0 L282.5,798.5 L285.0,801.0 L288.8,797.9 L293.8,797.2 L297.5,800.4 L293.8,801.0 L290.0,803.5 L286.2,806.0 L282.5,805.4 L278.8,806.0 L277.5,801.0 M276.9,831.0 L281.2,827.9 L286.2,825.4 L289.4,822.2 L291.2,817.9 L295.0,814.8 L297.5,812.2 L300.0,813.5 L298.8,818.5 L296.9,823.5 L295.0,828.5 L296.2,832.2 L296.9,836.0 L295.0,837.9 L296.9,841.0 L296.9,845.4 L293.8,848.5 L290.0,847.9 L289.4,844.1 L286.2,843.5 L283.8,846.0 L284.4,851.0 L283.1,856.0 L285.0,861.0 L288.8,863.5 L286.2,865.4 L281.2,866.0 L278.1,868.5 L278.8,873.5 L276.2,878.5 L275.0,882.2 L271.2,886.0 L270.6,889.1 M296.9,845.4 L300.0,851.0 L303.8,856.0 L307.5,861.0 L312.5,866.0 L318.8,869.1 L325.0,871.0 L330.6,872.0 M200.0,878.5 L203.8,883.5 L208.8,889.1 M552.5,856.5 L550.0,860.0 L553.8,863.8 L560.0,862.5 L567.5,863.8 L573.8,861.2 L577.5,858.0 L585.0,860.0 L592.5,859.5 L600.5,861.2 M542.5,848.8 L546.2,856.2 L550.0,865.0 L556.2,868.8 L563.8,871.2 L570.0,875.0 L575.0,880.0 L580.0,886.2 L583.8,889.5 M551.2,848.8 L552.5,853.8 M329.5,872.5 L340.0,873.0 L347.5,875.0 L353.8,880.0 L357.5,886.2 L359.5,889.5 M631.2,856.5 L630.8,859.2 L626.7,860.0 L621.7,860.8 L622.5,855.8 L618.3,856.7 L613.3,858.3 L609.2,861.7 L603.3,860.8 L598.3,860.0 L590.0,860.3 L583.3,859.2 L578.3,856.7 L574.2,860.0 L569.2,861.7 L565.0,860.8 L560.0,861.7 L555.8,861.3 L553.3,863.3 L551.7,859.2 L552.5,853.3 L551.7,849.2 L546.7,848.3 L541.7,847.5 L544.2,852.5 L546.7,858.3 L549.2,863.3 L553.3,867.5 L558.3,870.0 L565.0,871.7 L570.0,873.3 L573.3,876.7 L572.5,880.0 L575.8,883.3 L580.0,886.7 L584.2,889.2 M574.2,871.7 L579.2,869.2 L580.0,865.8 L585.0,865.0 L590.0,867.5 L596.7,865.8 L600.8,868.3 L601.7,870.8 L605.8,870.0 L606.7,875.0 L611.7,878.3 L615.8,875.0 L620.0,873.3 L623.3,870.0 L628.3,869.2 L631.7,871.7 L635.0,876.7 L640.0,881.7 L646.7,885.8 L640.0,885.0 L633.3,884.2 L626.7,885.0 L620.0,886.7 L615.0,885.8 L610.8,889.2 M632.5,855.8 L633.3,861.7 L636.7,865.0 L635.0,868.3 L630.8,870.0 M610.0,869.2 L615.0,867.5 L621.7,868.3 L623.3,870.0 L618.3,870.8 L611.7,870.8 L610.0,869.2 M590.0,861.7 L595.0,863.7 L603.3,863.7 L609.2,861.7" fill="none" stroke="#000" stroke-width="1.6" stroke-linejoin="round" stroke-linecap="round"/>
<path d="M278.1,802.9 L282.5,800.4 M298.1,813.5 L297.5,817.2" fill="none" stroke="#000" stroke-width="3" stroke-linejoin="round" stroke-linecap="round"/>
<path d="M797.5,668.5 L800.0,674.8 L805.0,681.0 L807.5,688.5 L808.8,696.0 L815.0,702.2 L821.2,704.8 L826.2,709.8 L833.8,712.2 L840.0,716.0 L847.5,719.8 L855.0,723.5 L861.2,727.2 L865.0,721.0 L870.5,719.8 M870.5,719.8 L875.0,719.0 L882.5,721.0 L886.2,726.0 L892.5,731.0 L901.2,735.5 L910.0,738.5 L915.0,743.5 L920.0,747.2 L925.0,744.8 L930.0,746.0 L932.5,752.2 L938.8,757.2 L946.2,759.8 L952.5,761.0 L955.0,766.0 L962.5,767.2 L970.0,769.8 L975.0,776.0 L982.5,773.0 L990.0,774.8 L1000.0,778.0 L1010.0,778.5 L1020.0,778.0" fill="none" stroke="#000" stroke-width="1.8" stroke-linejoin="round" stroke-linecap="round"/>
<path d="M798.8,668.5 L799.3,673.8 L801.9,679.5" fill="none" stroke="#000" stroke-width="2.8" stroke-linejoin="round" stroke-linecap="round"/>
<path d="M630.0,884.2 L635.8,876.7 L640.0,883.3" fill="none" stroke="#000" stroke-width="1.5" stroke-linejoin="round" stroke-linecap="round"/>

</g>
<g font-size="16.1" fill="#000" lengthAdjust="spacing">
<text x="542.8" y="292.8" textLength="88.9">Kazakhstan</text>
<text x="389.7" y="446.7" textLength="83.6">Uzbekistan</text>
<text x="321.7" y="527.5" textLength="103.6">Turkmenistan</text>
<text x="696.2" y="460.7" textLength="83.1">Kyrgyzstan</text>
<text x="583.3" y="531.1" textLength="69.4">Tajikistan</text>
<text x="807.5" y="547.3" textLength="43">China</text>
<text x="445" y="663" textLength="90.5">Afghanistan</text>
<text x="493" y="773.5" textLength="64.5">Pakistan</text>
</g>

<rect x="60.55" y="136.55" width="958.95" height="752.85" fill="none" stroke="#000" stroke-width="1.15"/>
<line x1="151.5" y1="128.5" x2="151.5" y2="136" stroke="#000" stroke-width="2"/><text x="151.3" y="123.1" class="tk" text-anchor="middle" textLength="23.4">50° E</text><line x1="266.5" y1="128.5" x2="266.5" y2="136" stroke="#000" stroke-width="2"/><text x="266.3" y="123.1" class="tk" text-anchor="middle" textLength="23.4">55° E</text><line x1="380.5" y1="128.5" x2="380.5" y2="136" stroke="#000" stroke-width="2"/><text x="380.3" y="123.1" class="tk" text-anchor="middle" textLength="23.4">60° E</text><line x1="494.5" y1="128.5" x2="494.5" y2="136" stroke="#000" stroke-width="2"/><text x="494.3" y="123.1" class="tk" text-anchor="middle" textLength="23.4">65° E</text><line x1="608.5" y1="128.5" x2="608.5" y2="136" stroke="#000" stroke-width="2"/><text x="608.3" y="123.1" class="tk" text-anchor="middle" textLength="23.4">70° E</text><line x1="722.5" y1="128.5" x2="722.5" y2="136" stroke="#000" stroke-width="2"/><text x="722.3" y="123.1" class="tk" text-anchor="middle" textLength="23.4">75° E</text><line x1="837.5" y1="128.5" x2="837.5" y2="136" stroke="#000" stroke-width="2"/><text x="837.3" y="123.1" class="tk" text-anchor="middle" textLength="23.4">80° E</text><line x1="951.5" y1="128.5" x2="951.5" y2="136" stroke="#000" stroke-width="2"/><text x="951.3" y="123.1" class="tk" text-anchor="middle" textLength="23.4">85° E</text><line x1="53" y1="159.5" x2="60" y2="159.5" stroke="#000" stroke-width="2"/><text x="25.2" y="162.8" class="tk" textLength="23.4">55° N</text><line x1="53" y1="273.5" x2="60" y2="273.5" stroke="#000" stroke-width="2"/><text x="25.2" y="276.8" class="tk" textLength="23.4">50° N</text><line x1="53" y1="387.5" x2="60" y2="387.5" stroke="#000" stroke-width="2"/><text x="25.2" y="390.8" class="tk" textLength="23.4">45° N</text><line x1="53" y1="501.5" x2="60" y2="501.5" stroke="#000" stroke-width="2"/><text x="25.2" y="504.8" class="tk" textLength="23.4">40° N</text><line x1="53" y1="615.5" x2="60" y2="615.5" stroke="#000" stroke-width="2"/><text x="25.2" y="618.8" class="tk" textLength="23.4">35° N</text><line x1="53" y1="729.5" x2="60" y2="729.5" stroke="#000" stroke-width="2"/><text x="25.2" y="732.8" class="tk" textLength="23.4">30° N</text><line x1="53" y1="844.5" x2="60" y2="844.5" stroke="#000" stroke-width="2"/><text x="25.2" y="847.8" class="tk" textLength="23.4">25° N</text>
<rect x="73.05" y="550" width="202.95" height="327.95" fill="#fff" stroke="#000" stroke-width="2"/>
<text x="83.3" y="569.3" font-size="13.2" font-weight="bold" textLength="179.4" lengthAdjust="spacing">Snow Depth Difference (mm)</text>
<rect x="83.85" y="580.50" width="25.3" height="12.4" fill="#9c5522" stroke="#707070" stroke-width="1.9"/><text x="114.4" y="592.9" class="lg">&lt; -2000</text><rect x="83.85" y="597.77" width="25.3" height="12.4" fill="#ab6a35" stroke="#707070" stroke-width="1.9"/><text x="114.4" y="609.8" class="lg">-2000 - -1600</text><rect x="83.85" y="615.04" width="25.3" height="12.4" fill="#ba7f48" stroke="#707070" stroke-width="1.9"/><text x="114.4" y="626.7" class="lg">-1600 - -1200</text><rect x="83.85" y="632.31" width="25.3" height="12.4" fill="#c7935a" stroke="#707070" stroke-width="1.9"/><text x="114.4" y="643.6" class="lg">-1200 - -800</text><rect x="83.85" y="649.58" width="25.3" height="12.4" fill="#d5aa72" stroke="#707070" stroke-width="1.9"/><text x="113.0" y="662.7" class="lg">-800 - -400</text><rect x="83.85" y="666.85" width="25.3" height="12.4" fill="#e8cc8e" stroke="#707070" stroke-width="1.9"/><text x="114.4" y="678.2" class="lg">-400 - -200</text><rect x="83.85" y="684.12" width="25.3" height="12.4" fill="#f3e5a9" stroke="#707070" stroke-width="1.9"/><text x="114.4" y="695.1" class="lg">-200 - -50</text><rect x="83.85" y="701.39" width="25.3" height="12.4" fill="#ffffff" stroke="#707070" stroke-width="1.9"/><text x="114.4" y="712.4" class="lg">-50 - 50</text><rect x="83.85" y="718.66" width="25.3" height="12.4" fill="#e6edb9" stroke="#707070" stroke-width="1.9"/><text x="114.4" y="730" class="lg">50 - 200</text><rect x="83.85" y="735.93" width="25.3" height="12.4" fill="#c5deb5" stroke="#707070" stroke-width="1.9"/><text x="114.4" y="747.1" class="lg">200 - 400</text><rect x="83.85" y="753.20" width="25.3" height="12.4" fill="#a6ccaf" stroke="#707070" stroke-width="1.9"/><text x="114.4" y="764.4" class="lg">400 - 800</text><rect x="83.85" y="770.47" width="25.3" height="12.4" fill="#86b8a7" stroke="#707070" stroke-width="1.9"/><text x="114.4" y="781.6" class="lg">800 - 1200</text><rect x="83.85" y="787.74" width="25.3" height="12.4" fill="#68a5a0" stroke="#707070" stroke-width="1.9"/><text x="114.4" y="798.4" class="lg">1200 - 1600</text><rect x="83.85" y="805.01" width="25.3" height="12.4" fill="#4a939a" stroke="#707070" stroke-width="1.9"/><text x="114.4" y="815.8" class="lg">1600 - 2000</text><rect x="83.85" y="822.28" width="25.3" height="12.4" fill="#2b8192" stroke="#707070" stroke-width="1.9"/><text x="114.4" y="833.3" class="lg">&gt; 2000</text>
<text x="83.3" y="856.7" font-size="10" textLength="180" lengthAdjust="spacing">NASA Goddard Space Flight Center</text>
<text x="83.3" y="869.6" font-size="10" textLength="111" lengthAdjust="spacing">Noah 3.6 SWE Model.</text>
<text x="62.4" y="923.7" font-size="13" textLength="185.6" lengthAdjust="spacing">Map Produced by USGS/EROS</text>
<g>
<!-- USGS -->
<g fill="#0b8656">
<rect x="816" y="907" width="12" height="11.8" fill="#0b8656"/>
<path d="M816,912.5 Q819,910.5 821,912 T828,908.5 M816,914.5 Q819.5,912.5 822,914 T828,911.2 M816,911 Q820,912 823,915.2 T828,915.6" stroke="#fff" stroke-width="0.9" fill="none"/>
<text x="829.6" y="918.7" font-size="17.2" font-weight="bold" textLength="33.6" lengthAdjust="spacingAndGlyphs" fill="#0b8656" stroke="#0b8656" stroke-width="0.7">USGS</text>
<text x="815.8" y="923.6" font-size="4.6" font-style="italic" font-weight="bold" stroke="#0b8656" stroke-width="0.25" textLength="47.6" lengthAdjust="spacingAndGlyphs" fill="#0b8656">science for a changing world</text>
</g>
<!-- NASA -->
<circle cx="879.6" cy="915" r="8.8" fill="#1c4ea3"/>
<path d="M871.5,919 Q880,915.5 889.5,907.5 Q882,915 872.5,920.4 Z" fill="#e03c31" stroke="#e03c31" stroke-width="0.5"/>
<text x="879.6" y="917.2" font-size="6" font-weight="bold" fill="#fff" text-anchor="middle" textLength="13.5" lengthAdjust="spacingAndGlyphs">NASA</text>
<!-- seal -->
<circle cx="899.9" cy="915" r="8.6" fill="#fff" stroke="#2a2f6e" stroke-width="1.1"/>
<circle cx="899.9" cy="915" r="6.3" fill="none" stroke="#2a2f6e" stroke-width="0.7"/>
<rect x="896.3" y="910.6" width="7.2" height="3.2" fill="#2a2f6e"/>
<rect x="896.3" y="914.4" width="7.2" height="1.2" fill="#2a2f6e"/>
<rect x="896.6" y="916.3" width="6.6" height="1.6" fill="#d03a48"/>
<rect x="897" y="918.4" width="5.8" height="1.2" fill="#2a2f6e"/>
<rect x="897.6" y="911.3" width="4.6" height="1.5" fill="#fff"/>
<!-- USAID -->
<text x="910.2" y="918" font-size="10.9" font-weight="bold" fill="#002a6c" textLength="39.5" lengthAdjust="spacingAndGlyphs">US<tspan fill="#c2113a">AID</tspan></text>
<text x="910.4" y="922" font-size="2.9" font-weight="bold" fill="#002a6c" textLength="39" lengthAdjust="spacingAndGlyphs">FROM THE AMERICAN PEOPLE</text>
<!-- FEWS NET -->
<circle cx="960.8" cy="915.6" r="9" fill="#fff" stroke="#e08033" stroke-width="1.5"/>
<path d="M955,912 q2,-3.5 5,-3.4 l1.6,1.6 -2,1.4 1,2 -2.4,1 -0.4,3 -2,1.6 q-1.8,-3 -0.8,-7.2z M961.6,911 l3.4,-1.8 q2.8,1.4 3,5.4 l-1.6,2.6 -2,-0.4 -0.6,3.4 -2.4,1.4 -0.8,-3.6 1.2,-2.6 -1.4,-2.2z" fill="#1f8a3c"/>
<text x="971" y="917.1" font-family="Liberation Serif, serif" font-size="10.6" font-weight="bold" fill="#c9762f" textLength="40.4" lengthAdjust="spacingAndGlyphs">FEWS NET</text>
<rect x="968.5" y="918.4" width="43.5" height="0.8" fill="#e08033"/>
<rect x="971" y="920" width="40" height="1.1" fill="#e0a070" opacity="0.7"/>
</g>

</svg>
</body></html>
